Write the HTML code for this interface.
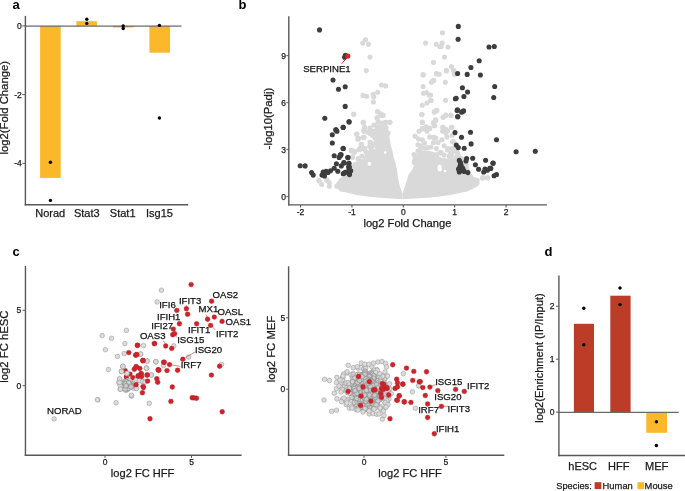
<!DOCTYPE html>
<html><head><meta charset="utf-8"><style>
html,body{margin:0;padding:0;background:#fff;}
svg{display:block;will-change:transform;font-family:"Liberation Sans",sans-serif;}
</style></head><body>
<svg width="685" height="491" viewBox="0 0 685 491">
<text x="12.6" y="9.0" font-size="13" text-anchor="start" font-weight="bold" fill="#000" stroke="#000" stroke-width="0">a</text>
<rect x="40.1" y="25.9" width="20.60" height="152.00" fill="#FBB82B"/>
<rect x="76.4" y="21.2" width="20.50" height="4.70" fill="#FBB82B"/>
<rect x="113" y="25.9" width="20.70" height="1.60" fill="#FBB82B"/>
<rect x="149.4" y="25.9" width="20.60" height="26.80" fill="#FBB82B"/>
<line x1="25.4" y1="26.099999999999998" x2="181.5" y2="26.099999999999998" stroke="#6a6a6a" stroke-width="1.3"/>
<line x1="25.4" y1="15.9" x2="25.4" y2="205.4" stroke="#585858" stroke-width="1.4"/>
<line x1="24.7" y1="204.7" x2="188.2" y2="204.7" stroke="#585858" stroke-width="1.4"/>
<line x1="22.3" y1="25.9" x2="25.4" y2="25.9" stroke="#585858" stroke-width="1"/>
<text x="21.8" y="28.95" font-size="8.5" text-anchor="end" font-weight="normal" fill="#1a1a1a" stroke="#1a1a1a" stroke-width="0.25">0</text>
<line x1="22.3" y1="94.6" x2="25.4" y2="94.6" stroke="#585858" stroke-width="1"/>
<text x="21.8" y="97.64999999999999" font-size="8.5" text-anchor="end" font-weight="normal" fill="#1a1a1a" stroke="#1a1a1a" stroke-width="0.25">-2</text>
<line x1="22.3" y1="163.3" x2="25.4" y2="163.3" stroke="#585858" stroke-width="1"/>
<text x="21.8" y="166.35000000000002" font-size="8.5" text-anchor="end" font-weight="normal" fill="#1a1a1a" stroke="#1a1a1a" stroke-width="0.25">-4</text>
<circle cx="50.4" cy="162.3" r="1.7" fill="#000"/>
<circle cx="50.4" cy="200.4" r="1.7" fill="#000"/>
<circle cx="86.8" cy="19.2" r="1.7" fill="#000"/>
<circle cx="86.8" cy="23.4" r="1.7" fill="#000"/>
<circle cx="123.2" cy="26" r="1.7" fill="#000"/>
<circle cx="123.2" cy="28.5" r="1.7" fill="#000"/>
<circle cx="159.4" cy="25.4" r="1.7" fill="#000"/>
<circle cx="159.4" cy="118" r="1.7" fill="#000"/>
<text x="50.2" y="217" font-size="11" text-anchor="middle" font-weight="normal" fill="#1a1a1a" stroke="#1a1a1a" stroke-width="0.25">Norad</text>
<text x="86.8" y="217" font-size="11" text-anchor="middle" font-weight="normal" fill="#1a1a1a" stroke="#1a1a1a" stroke-width="0.25">Stat3</text>
<text x="122.7" y="217" font-size="11" text-anchor="middle" font-weight="normal" fill="#1a1a1a" stroke="#1a1a1a" stroke-width="0.25">Stat1</text>
<text x="159.5" y="217" font-size="11" text-anchor="middle" font-weight="normal" fill="#1a1a1a" stroke="#1a1a1a" stroke-width="0.25">Isg15</text>
<text x="8.2" y="107.8" font-size="11.3" text-anchor="middle" font-weight="normal" fill="#1a1a1a" stroke="#1a1a1a" stroke-width="0.25" transform="rotate(-90 8.2 107.8)">log2(Fold Change)</text>
<text x="238.6" y="9.0" font-size="13" text-anchor="start" font-weight="bold" fill="#000" stroke="#000" stroke-width="0">b</text>
<line x1="288.8" y1="16.3" x2="288.8" y2="205.6" stroke="#585858" stroke-width="1.4"/>
<line x1="288.1" y1="204.9" x2="546.9" y2="204.9" stroke="#585858" stroke-width="1.4"/>
<line x1="286.4" y1="196.60000000000002" x2="288.8" y2="196.60000000000002" stroke="#585858" stroke-width="1"/>
<text x="286.1" y="199.65000000000003" font-size="8.5" text-anchor="end" font-weight="normal" fill="#1a1a1a" stroke="#1a1a1a" stroke-width="0.25">0</text>
<line x1="286.4" y1="149.62" x2="288.8" y2="149.62" stroke="#585858" stroke-width="1"/>
<text x="286.1" y="152.67000000000002" font-size="8.5" text-anchor="end" font-weight="normal" fill="#1a1a1a" stroke="#1a1a1a" stroke-width="0.25">3</text>
<line x1="286.4" y1="102.64" x2="288.8" y2="102.64" stroke="#585858" stroke-width="1"/>
<text x="286.1" y="105.69" font-size="8.5" text-anchor="end" font-weight="normal" fill="#1a1a1a" stroke="#1a1a1a" stroke-width="0.25">6</text>
<line x1="286.4" y1="55.66000000000001" x2="288.8" y2="55.66000000000001" stroke="#585858" stroke-width="1"/>
<text x="286.1" y="58.71000000000001" font-size="8.5" text-anchor="end" font-weight="normal" fill="#1a1a1a" stroke="#1a1a1a" stroke-width="0.25">9</text>
<line x1="300.55" y1="204.9" x2="300.55" y2="207.5" stroke="#585858" stroke-width="1"/>
<text x="300.55" y="215.4" font-size="8.5" text-anchor="middle" font-weight="normal" fill="#1a1a1a" stroke="#1a1a1a" stroke-width="0.25">-2</text>
<line x1="351.925" y1="204.9" x2="351.925" y2="207.5" stroke="#585858" stroke-width="1"/>
<text x="351.925" y="215.4" font-size="8.5" text-anchor="middle" font-weight="normal" fill="#1a1a1a" stroke="#1a1a1a" stroke-width="0.25">-1</text>
<line x1="403.3" y1="204.9" x2="403.3" y2="207.5" stroke="#585858" stroke-width="1"/>
<text x="403.3" y="215.4" font-size="8.5" text-anchor="middle" font-weight="normal" fill="#1a1a1a" stroke="#1a1a1a" stroke-width="0.25">0</text>
<line x1="454.675" y1="204.9" x2="454.675" y2="207.5" stroke="#585858" stroke-width="1"/>
<text x="454.675" y="215.4" font-size="8.5" text-anchor="middle" font-weight="normal" fill="#1a1a1a" stroke="#1a1a1a" stroke-width="0.25">1</text>
<line x1="506.05" y1="204.9" x2="506.05" y2="207.5" stroke="#585858" stroke-width="1"/>
<text x="506.05" y="215.4" font-size="8.5" text-anchor="middle" font-weight="normal" fill="#1a1a1a" stroke="#1a1a1a" stroke-width="0.25">2</text>
<text x="407.4" y="226.5" font-size="11.15" text-anchor="middle" font-weight="normal" fill="#1a1a1a" stroke="#1a1a1a" stroke-width="0.25">log2 Fold Change</text>
<text x="272.2" y="118.6" font-size="11.3" text-anchor="middle" font-weight="normal" fill="#1a1a1a" stroke="#1a1a1a" stroke-width="0.25" transform="rotate(-90 272.2 118.6)">-log10(Padj)</text>
<text x="12.6" y="256" font-size="13" text-anchor="start" font-weight="bold" fill="#000" stroke="#000" stroke-width="0">c</text>
<line x1="25.45" y1="266" x2="25.45" y2="456" stroke="#585858" stroke-width="1.4"/>
<line x1="24.75" y1="455.3" x2="241.6" y2="455.3" stroke="#585858" stroke-width="1.4"/>
<line x1="22.6" y1="385.7" x2="25.45" y2="385.7" stroke="#585858" stroke-width="1"/>
<text x="21.3" y="388.75" font-size="8.5" text-anchor="end" font-weight="normal" fill="#1a1a1a" stroke="#1a1a1a" stroke-width="0.25">0</text>
<line x1="105.0" y1="455.3" x2="105.0" y2="457.9" stroke="#585858" stroke-width="1"/>
<text x="105.0" y="465.3" font-size="8.5" text-anchor="middle" font-weight="normal" fill="#1a1a1a" stroke="#1a1a1a" stroke-width="0.25">0</text>
<line x1="22.6" y1="310.29999999999995" x2="25.45" y2="310.29999999999995" stroke="#585858" stroke-width="1"/>
<text x="21.3" y="313.34999999999997" font-size="8.5" text-anchor="end" font-weight="normal" fill="#1a1a1a" stroke="#1a1a1a" stroke-width="0.25">5</text>
<line x1="191.5" y1="455.3" x2="191.5" y2="457.9" stroke="#585858" stroke-width="1"/>
<text x="191.5" y="465.3" font-size="8.5" text-anchor="middle" font-weight="normal" fill="#1a1a1a" stroke="#1a1a1a" stroke-width="0.25">5</text>
<text x="142.6" y="477" font-size="11.1" text-anchor="middle" font-weight="normal" fill="#1a1a1a" stroke="#1a1a1a" stroke-width="0.25">log2 FC HFF</text>
<text x="8.4" y="346.6" font-size="11.3" text-anchor="middle" font-weight="normal" fill="#1a1a1a" stroke="#1a1a1a" stroke-width="0.25" transform="rotate(-90 8.4 346.6)">log2 FC hESC</text>
<line x1="288.6" y1="266.3" x2="288.6" y2="456" stroke="#585858" stroke-width="1.4"/>
<line x1="287.9" y1="455.3" x2="504.3" y2="455.3" stroke="#585858" stroke-width="1.4"/>
<line x1="285.9" y1="389.2" x2="288.6" y2="389.2" stroke="#585858" stroke-width="1"/>
<text x="285.2" y="392.25" font-size="8.5" text-anchor="end" font-weight="normal" fill="#1a1a1a" stroke="#1a1a1a" stroke-width="0.25">0</text>
<line x1="364.0" y1="455.3" x2="364.0" y2="457.9" stroke="#585858" stroke-width="1"/>
<text x="364.0" y="465.3" font-size="8.5" text-anchor="middle" font-weight="normal" fill="#1a1a1a" stroke="#1a1a1a" stroke-width="0.25">0</text>
<line x1="285.9" y1="317.8" x2="288.6" y2="317.8" stroke="#585858" stroke-width="1"/>
<text x="285.2" y="320.85" font-size="8.5" text-anchor="end" font-weight="normal" fill="#1a1a1a" stroke="#1a1a1a" stroke-width="0.25">5</text>
<line x1="445.9" y1="455.3" x2="445.9" y2="457.9" stroke="#585858" stroke-width="1"/>
<text x="445.9" y="465.3" font-size="8.5" text-anchor="middle" font-weight="normal" fill="#1a1a1a" stroke="#1a1a1a" stroke-width="0.25">5</text>
<text x="410.1" y="477" font-size="11.1" text-anchor="middle" font-weight="normal" fill="#1a1a1a" stroke="#1a1a1a" stroke-width="0.25">log2 FC HFF</text>
<text x="274.8" y="349" font-size="11.3" text-anchor="middle" font-weight="normal" fill="#1a1a1a" stroke="#1a1a1a" stroke-width="0.25" transform="rotate(-90 274.8 349)">log2 FC MEF</text>
<text x="544.6" y="256" font-size="13" text-anchor="start" font-weight="bold" fill="#000" stroke="#000" stroke-width="0">d</text>
<rect x="573.9" y="323.8" width="20.10" height="88.30" fill="#BD3C28"/>
<rect x="610.3" y="295.7" width="20.30" height="116.40" fill="#BD3C28"/>
<rect x="646.3" y="412.1" width="20.70" height="20.70" fill="#FBB82B"/>
<line x1="558.9" y1="412.3" x2="678.7" y2="412.3" stroke="#6a6a6a" stroke-width="1.3"/>
<line x1="558.9" y1="275.6" x2="558.9" y2="456.2" stroke="#585858" stroke-width="1.4"/>
<line x1="558.2" y1="455.5" x2="685" y2="455.5" stroke="#585858" stroke-width="1.4"/>
<line x1="556" y1="412.1" x2="558.9" y2="412.1" stroke="#585858" stroke-width="1"/>
<text x="554.4" y="415.15000000000003" font-size="8.5" text-anchor="end" font-weight="normal" fill="#1a1a1a" stroke="#1a1a1a" stroke-width="0.25">0</text>
<line x1="556" y1="359.20000000000005" x2="558.9" y2="359.20000000000005" stroke="#585858" stroke-width="1"/>
<text x="554.4" y="362.25000000000006" font-size="8.5" text-anchor="end" font-weight="normal" fill="#1a1a1a" stroke="#1a1a1a" stroke-width="0.25">1</text>
<line x1="556" y1="306.3" x2="558.9" y2="306.3" stroke="#585858" stroke-width="1"/>
<text x="554.4" y="309.35" font-size="8.5" text-anchor="end" font-weight="normal" fill="#1a1a1a" stroke="#1a1a1a" stroke-width="0.25">2</text>
<circle cx="583.8" cy="308.2" r="1.7" fill="#000"/>
<circle cx="583.8" cy="344.8" r="1.7" fill="#000"/>
<circle cx="620" cy="288" r="1.7" fill="#000"/>
<circle cx="620" cy="304.6" r="1.7" fill="#000"/>
<circle cx="656.4" cy="421.8" r="1.7" fill="#000"/>
<circle cx="656.4" cy="445.5" r="1.7" fill="#000"/>
<text x="582.7" y="470" font-size="11" text-anchor="middle" font-weight="normal" fill="#1a1a1a" stroke="#1a1a1a" stroke-width="0.25">hESC</text>
<text x="618.8" y="470" font-size="11" text-anchor="middle" font-weight="normal" fill="#1a1a1a" stroke="#1a1a1a" stroke-width="0.25">HFF</text>
<text x="656.6" y="470" font-size="11" text-anchor="middle" font-weight="normal" fill="#1a1a1a" stroke="#1a1a1a" stroke-width="0.25">MEF</text>
<text x="542.5" y="358" font-size="11.1" text-anchor="middle" font-weight="normal" fill="#1a1a1a" stroke="#1a1a1a" stroke-width="0.25" transform="rotate(-90 542.5 358)">log2(Enrichment (IP/Input)</text>
<text x="556.3" y="488.6" font-size="9.25" text-anchor="start" font-weight="normal" fill="#1a1a1a" stroke="#1a1a1a" stroke-width="0.25">Species:</text>
<rect x="594.6" y="482.2" width="6.80" height="6.80" fill="#BD3C28"/>
<text x="602.6" y="488.6" font-size="9.4" text-anchor="start" font-weight="normal" fill="#1a1a1a" stroke="#1a1a1a" stroke-width="0.25">Human</text>
<rect x="637.4" y="482.2" width="6.60" height="6.80" fill="#FBB82B"/>
<text x="644.6" y="488.6" font-size="9.4" text-anchor="start" font-weight="normal" fill="#1a1a1a" stroke="#1a1a1a" stroke-width="0.25">Mouse</text>
<polygon points="335.0,186.0 338.0,189.0 340.0,191.2 347.6,192.8 356.8,195.0 373.6,197.2 390.4,198.4 402.6,199.3 402.6,193.5 400.0,187.0 398.0,178.0 397.0,170.0 395.5,163.0 393.5,157.0 392.2,150.0 391.0,146.0 389.6,138.0 388.5,130.0 386.0,125.0 378.0,125.0 375.5,130.0 374.5,140.0 371.0,146.0 368.4,150.5 364.9,154.5 363.3,158.6 358.0,161.0 353.1,162.7 351.0,168.0 347.0,170.0 345.0,176.0 340.0,178.0 337.0,182.0" fill="#D9D9D9"/>
<polygon points="402.6,199.3 418.0,198.3 433.6,197.2 450.4,195.0 462.0,192.6 467.2,191.6 472.0,189.2 477.0,186.5 479.5,184.0 479.5,178.5 474.0,177.0 470.0,174.0 468.0,160.0 462.0,156.0 456.0,153.0 453.0,158.0 447.0,158.5 442.0,158.0 438.0,156.0 434.0,152.0 428.0,150.5 421.8,150.5 416.0,154.0 412.8,157.5 411.5,163.0 414.0,166.0 412.0,170.0 408.5,174.7 406.0,183.0 404.0,189.0 402.6,194.0" fill="#D9D9D9"/>
<ellipse cx="369.4" cy="163.7" rx="1.8" ry="2" fill="#fff"/>
<ellipse cx="385.2" cy="152.5" rx="1.2" ry="1.6" fill="#fff"/>
<ellipse cx="374.5" cy="148.4" rx="1" ry="1" fill="#fff"/>
<ellipse cx="439.7" cy="168" rx="2.2" ry="3.5" fill="#fff"/>
<ellipse cx="445" cy="171" rx="1.3" ry="1.3" fill="#fff"/>
<circle cx="365.5" cy="39.8" r="2.55" fill="#D9D9D9"/>
<circle cx="362.7" cy="43.1" r="2.55" fill="#D9D9D9"/>
<circle cx="368.5" cy="44.3" r="2.55" fill="#D9D9D9"/>
<circle cx="370" cy="57.1" r="2.55" fill="#D9D9D9"/>
<circle cx="366.3" cy="70.6" r="2.55" fill="#D9D9D9"/>
<circle cx="425.6" cy="43.1" r="2.55" fill="#D9D9D9"/>
<circle cx="436.3" cy="44.3" r="2.55" fill="#D9D9D9"/>
<circle cx="440" cy="46.7" r="2.55" fill="#D9D9D9"/>
<circle cx="433.5" cy="62.4" r="2.55" fill="#D9D9D9"/>
<circle cx="423.1" cy="74.5" r="2.55" fill="#D9D9D9"/>
<circle cx="436.3" cy="73.6" r="2.55" fill="#D9D9D9"/>
<circle cx="439.2" cy="74.2" r="2.55" fill="#D9D9D9"/>
<circle cx="442.5" cy="32.7" r="2.55" fill="#D9D9D9"/>
<circle cx="442.2" cy="43.1" r="2.55" fill="#D9D9D9"/>
<circle cx="441.2" cy="46.5" r="2.55" fill="#D9D9D9"/>
<circle cx="448" cy="47" r="2.55" fill="#D9D9D9"/>
<circle cx="444.4" cy="57.1" r="2.55" fill="#D9D9D9"/>
<circle cx="451.4" cy="66.5" r="2.55" fill="#D9D9D9"/>
<circle cx="446.5" cy="70.3" r="2.55" fill="#D9D9D9"/>
<circle cx="453.8" cy="70.6" r="2.55" fill="#D9D9D9"/>
<circle cx="455" cy="73.6" r="2.55" fill="#D9D9D9"/>
<circle cx="381.4" cy="85" r="2.55" fill="#D9D9D9"/>
<circle cx="385.6" cy="85.9" r="2.55" fill="#D9D9D9"/>
<circle cx="377.7" cy="92.3" r="2.55" fill="#D9D9D9"/>
<circle cx="363" cy="95.4" r="2.55" fill="#D9D9D9"/>
<circle cx="366.7" cy="96.3" r="2.55" fill="#D9D9D9"/>
<circle cx="373.2" cy="94.2" r="2.55" fill="#D9D9D9"/>
<circle cx="373.7" cy="96.9" r="2.55" fill="#D9D9D9"/>
<circle cx="373.4" cy="102" r="2.55" fill="#D9D9D9"/>
<circle cx="377.7" cy="111.5" r="2.55" fill="#D9D9D9"/>
<circle cx="381.4" cy="115.4" r="2.55" fill="#D9D9D9"/>
<circle cx="383.2" cy="115.4" r="2.55" fill="#D9D9D9"/>
<circle cx="377.1" cy="117.9" r="2.55" fill="#D9D9D9"/>
<circle cx="378.3" cy="121.9" r="2.55" fill="#D9D9D9"/>
<circle cx="382.6" cy="123.1" r="2.55" fill="#D9D9D9"/>
<circle cx="385" cy="122.7" r="2.55" fill="#D9D9D9"/>
<circle cx="389.9" cy="122.3" r="2.55" fill="#D9D9D9"/>
<circle cx="363.4" cy="122.5" r="2.55" fill="#D9D9D9"/>
<circle cx="364.9" cy="128" r="2.55" fill="#D9D9D9"/>
<circle cx="378.3" cy="126.8" r="2.55" fill="#D9D9D9"/>
<circle cx="385" cy="126.8" r="2.55" fill="#D9D9D9"/>
<circle cx="423.1" cy="75.1" r="2.55" fill="#D9D9D9"/>
<circle cx="432.6" cy="81" r="2.55" fill="#D9D9D9"/>
<circle cx="431.4" cy="82.2" r="2.55" fill="#D9D9D9"/>
<circle cx="423.1" cy="86.5" r="2.55" fill="#D9D9D9"/>
<circle cx="423.5" cy="93.2" r="2.55" fill="#D9D9D9"/>
<circle cx="426.5" cy="92.6" r="2.55" fill="#D9D9D9"/>
<circle cx="429.2" cy="95" r="2.55" fill="#D9D9D9"/>
<circle cx="430.5" cy="100.5" r="2.55" fill="#D9D9D9"/>
<circle cx="426.9" cy="103" r="2.55" fill="#D9D9D9"/>
<circle cx="422.3" cy="105.2" r="2.55" fill="#D9D9D9"/>
<circle cx="436.3" cy="110.3" r="2.55" fill="#D9D9D9"/>
<circle cx="434.2" cy="112.1" r="2.55" fill="#D9D9D9"/>
<circle cx="422" cy="114.6" r="2.55" fill="#D9D9D9"/>
<circle cx="422.3" cy="122.5" r="2.55" fill="#D9D9D9"/>
<circle cx="435.7" cy="120" r="2.55" fill="#D9D9D9"/>
<circle cx="433.3" cy="122.5" r="2.55" fill="#D9D9D9"/>
<circle cx="434.7" cy="125.6" r="2.55" fill="#D9D9D9"/>
<circle cx="425.9" cy="126.8" r="2.55" fill="#D9D9D9"/>
<circle cx="429.6" cy="128" r="2.55" fill="#D9D9D9"/>
<circle cx="422.3" cy="128.6" r="2.55" fill="#D9D9D9"/>
<circle cx="446.5" cy="71" r="2.55" fill="#D9D9D9"/>
<circle cx="453.4" cy="70.6" r="2.55" fill="#D9D9D9"/>
<circle cx="454.4" cy="74.3" r="2.55" fill="#D9D9D9"/>
<circle cx="433.7" cy="80.4" r="2.55" fill="#D9D9D9"/>
<circle cx="445.3" cy="82.2" r="2.55" fill="#D9D9D9"/>
<circle cx="430.6" cy="95" r="2.55" fill="#D9D9D9"/>
<circle cx="431.2" cy="100.5" r="2.55" fill="#D9D9D9"/>
<circle cx="445.6" cy="100.3" r="2.55" fill="#D9D9D9"/>
<circle cx="445.9" cy="115.2" r="2.55" fill="#D9D9D9"/>
<circle cx="443.2" cy="117" r="2.55" fill="#D9D9D9"/>
<circle cx="450.8" cy="115.2" r="2.55" fill="#D9D9D9"/>
<circle cx="435.5" cy="120" r="2.55" fill="#D9D9D9"/>
<circle cx="442.8" cy="127.4" r="2.55" fill="#D9D9D9"/>
<circle cx="452" cy="127.4" r="2.55" fill="#D9D9D9"/>
<circle cx="445.9" cy="129.2" r="2.55" fill="#D9D9D9"/>
<circle cx="353.7" cy="114.2" r="2.55" fill="#D9D9D9"/>
<circle cx="363.2" cy="122.3" r="2.55" fill="#D9D9D9"/>
<circle cx="364.7" cy="128" r="2.55" fill="#D9D9D9"/>
<circle cx="364.5" cy="127.7" r="2.55" fill="#D9D9D9"/>
<circle cx="363.7" cy="130.5" r="2.55" fill="#D9D9D9"/>
<circle cx="367.8" cy="132.3" r="2.55" fill="#D9D9D9"/>
<circle cx="356.8" cy="134.2" r="2.55" fill="#D9D9D9"/>
<circle cx="358.6" cy="138.4" r="2.55" fill="#D9D9D9"/>
<circle cx="363.5" cy="137.2" r="2.55" fill="#D9D9D9"/>
<circle cx="361.6" cy="144.5" r="2.55" fill="#D9D9D9"/>
<circle cx="359.8" cy="148.8" r="2.55" fill="#D9D9D9"/>
<circle cx="364.7" cy="148.2" r="2.55" fill="#D9D9D9"/>
<circle cx="351.3" cy="150" r="2.55" fill="#D9D9D9"/>
<circle cx="354.9" cy="151.3" r="2.55" fill="#D9D9D9"/>
<circle cx="358.6" cy="158.6" r="2.55" fill="#D9D9D9"/>
<circle cx="352.5" cy="157.4" r="2.55" fill="#D9D9D9"/>
<circle cx="318.9" cy="180.6" r="2.55" fill="#D9D9D9"/>
<circle cx="326.9" cy="180.6" r="2.55" fill="#D9D9D9"/>
<circle cx="319.1" cy="181" r="2.55" fill="#D9D9D9"/>
<circle cx="321.7" cy="184.5" r="2.55" fill="#D9D9D9"/>
<circle cx="327" cy="179.9" r="2.55" fill="#D9D9D9"/>
<circle cx="329.3" cy="182.8" r="2.55" fill="#D9D9D9"/>
<circle cx="329.3" cy="186.3" r="2.55" fill="#D9D9D9"/>
<circle cx="336.9" cy="186.3" r="2.55" fill="#D9D9D9"/>
<circle cx="340.4" cy="184.5" r="2.55" fill="#D9D9D9"/>
<circle cx="343.9" cy="189.2" r="2.55" fill="#D9D9D9"/>
<circle cx="353.7" cy="114.3" r="2.55" fill="#D9D9D9"/>
<circle cx="363.3" cy="122.3" r="2.55" fill="#D9D9D9"/>
<circle cx="364.6" cy="127.4" r="2.55" fill="#D9D9D9"/>
<circle cx="364.1" cy="131.3" r="2.55" fill="#D9D9D9"/>
<circle cx="356.8" cy="134.1" r="2.55" fill="#D9D9D9"/>
<circle cx="357.9" cy="139.3" r="2.55" fill="#D9D9D9"/>
<circle cx="363.9" cy="137.4" r="2.55" fill="#D9D9D9"/>
<circle cx="370.2" cy="133.5" r="2.55" fill="#D9D9D9"/>
<circle cx="373.6" cy="131.3" r="2.55" fill="#D9D9D9"/>
<circle cx="372.5" cy="135.2" r="2.55" fill="#D9D9D9"/>
<circle cx="377.5" cy="111.7" r="2.55" fill="#D9D9D9"/>
<circle cx="380.3" cy="113.9" r="2.55" fill="#D9D9D9"/>
<circle cx="382.6" cy="115" r="2.55" fill="#D9D9D9"/>
<circle cx="377" cy="117.8" r="2.55" fill="#D9D9D9"/>
<circle cx="378.1" cy="121.8" r="2.55" fill="#D9D9D9"/>
<circle cx="382.6" cy="123.4" r="2.55" fill="#D9D9D9"/>
<circle cx="385.9" cy="122.3" r="2.55" fill="#D9D9D9"/>
<circle cx="389.8" cy="122.3" r="2.55" fill="#D9D9D9"/>
<circle cx="377.5" cy="127.4" r="2.55" fill="#D9D9D9"/>
<circle cx="380.3" cy="128.5" r="2.55" fill="#D9D9D9"/>
<circle cx="385.9" cy="127.4" r="2.55" fill="#D9D9D9"/>
<circle cx="361.3" cy="145.3" r="2.55" fill="#D9D9D9"/>
<circle cx="364.6" cy="149.2" r="2.55" fill="#D9D9D9"/>
<circle cx="359.6" cy="149.8" r="2.55" fill="#D9D9D9"/>
<circle cx="351.8" cy="150.9" r="2.55" fill="#D9D9D9"/>
<circle cx="354.6" cy="152" r="2.55" fill="#D9D9D9"/>
<circle cx="352.3" cy="157" r="2.55" fill="#D9D9D9"/>
<circle cx="358.5" cy="159.3" r="2.55" fill="#D9D9D9"/>
<circle cx="370.8" cy="142.5" r="2.55" fill="#D9D9D9"/>
<circle cx="369.7" cy="146.4" r="2.55" fill="#D9D9D9"/>
<circle cx="421.8" cy="114.3" r="2.55" fill="#D9D9D9"/>
<circle cx="434.7" cy="111.7" r="2.55" fill="#D9D9D9"/>
<circle cx="437" cy="110.6" r="2.55" fill="#D9D9D9"/>
<circle cx="443.1" cy="117.3" r="2.55" fill="#D9D9D9"/>
<circle cx="445.9" cy="115" r="2.55" fill="#D9D9D9"/>
<circle cx="451" cy="115.4" r="2.55" fill="#D9D9D9"/>
<circle cx="422.4" cy="122.1" r="2.55" fill="#D9D9D9"/>
<circle cx="433.6" cy="122.9" r="2.55" fill="#D9D9D9"/>
<circle cx="435.8" cy="120.6" r="2.55" fill="#D9D9D9"/>
<circle cx="434.2" cy="125.7" r="2.55" fill="#D9D9D9"/>
<circle cx="426.3" cy="127.4" r="2.55" fill="#D9D9D9"/>
<circle cx="429.7" cy="128.5" r="2.55" fill="#D9D9D9"/>
<circle cx="423.5" cy="129" r="2.55" fill="#D9D9D9"/>
<circle cx="426.9" cy="131.3" r="2.55" fill="#D9D9D9"/>
<circle cx="419" cy="131.3" r="2.55" fill="#D9D9D9"/>
<circle cx="443.1" cy="127.4" r="2.55" fill="#D9D9D9"/>
<circle cx="451.5" cy="127.4" r="2.55" fill="#D9D9D9"/>
<circle cx="442.6" cy="131.3" r="2.55" fill="#D9D9D9"/>
<circle cx="447.6" cy="130.7" r="2.55" fill="#D9D9D9"/>
<circle cx="445.9" cy="133" r="2.55" fill="#D9D9D9"/>
<circle cx="415.1" cy="136.3" r="2.55" fill="#D9D9D9"/>
<circle cx="418.5" cy="139.1" r="2.55" fill="#D9D9D9"/>
<circle cx="422.4" cy="139.7" r="2.55" fill="#D9D9D9"/>
<circle cx="429.7" cy="136.9" r="2.55" fill="#D9D9D9"/>
<circle cx="433.6" cy="137.4" r="2.55" fill="#D9D9D9"/>
<circle cx="435.8" cy="138" r="2.55" fill="#D9D9D9"/>
<circle cx="447" cy="136.9" r="2.55" fill="#D9D9D9"/>
<circle cx="452.1" cy="135.2" r="2.55" fill="#D9D9D9"/>
<circle cx="424.6" cy="143" r="2.55" fill="#D9D9D9"/>
<circle cx="417.9" cy="144.7" r="2.55" fill="#D9D9D9"/>
<circle cx="420.7" cy="145.8" r="2.55" fill="#D9D9D9"/>
<circle cx="433.6" cy="142.5" r="2.55" fill="#D9D9D9"/>
<circle cx="438.1" cy="142.5" r="2.55" fill="#D9D9D9"/>
<circle cx="442" cy="139.7" r="2.55" fill="#D9D9D9"/>
<circle cx="452.6" cy="141.9" r="2.55" fill="#D9D9D9"/>
<circle cx="428" cy="147.5" r="2.55" fill="#D9D9D9"/>
<circle cx="436.4" cy="148.6" r="2.55" fill="#D9D9D9"/>
<circle cx="444.2" cy="145.8" r="2.55" fill="#D9D9D9"/>
<circle cx="448.2" cy="148.6" r="2.55" fill="#D9D9D9"/>
<circle cx="452.1" cy="148.6" r="2.55" fill="#D9D9D9"/>
<circle cx="420.2" cy="149.8" r="2.55" fill="#D9D9D9"/>
<circle cx="452.6" cy="152" r="2.55" fill="#D9D9D9"/>
<circle cx="449.8" cy="155.9" r="2.55" fill="#D9D9D9"/>
<circle cx="439.8" cy="153.1" r="2.55" fill="#D9D9D9"/>
<circle cx="436.4" cy="155.4" r="2.55" fill="#D9D9D9"/>
<circle cx="483.1" cy="177.5" r="2.55" fill="#D9D9D9"/>
<circle cx="487.4" cy="177.7" r="2.55" fill="#D9D9D9"/>
<circle cx="482.4" cy="178.1" r="2.55" fill="#D9D9D9"/>
<circle cx="487.8" cy="177.8" r="2.55" fill="#D9D9D9"/>
<circle cx="470.3" cy="176.3" r="2.55" fill="#D9D9D9"/>
<circle cx="374" cy="125" r="2.55" fill="#D9D9D9"/>
<circle cx="370" cy="128" r="2.55" fill="#D9D9D9"/>
<circle cx="376" cy="132" r="2.55" fill="#D9D9D9"/>
<circle cx="380" cy="135" r="2.55" fill="#D9D9D9"/>
<circle cx="384" cy="130" r="2.55" fill="#D9D9D9"/>
<circle cx="388" cy="133" r="2.55" fill="#D9D9D9"/>
<circle cx="386" cy="138" r="2.55" fill="#D9D9D9"/>
<circle cx="380" cy="141" r="2.55" fill="#D9D9D9"/>
<circle cx="375" cy="138" r="2.55" fill="#D9D9D9"/>
<circle cx="383" cy="146" r="2.55" fill="#D9D9D9"/>
<circle cx="378" cy="148" r="2.55" fill="#D9D9D9"/>
<circle cx="372" cy="150" r="2.55" fill="#D9D9D9"/>
<circle cx="387" cy="143" r="2.55" fill="#D9D9D9"/>
<circle cx="455" cy="150" r="2.55" fill="#D9D9D9"/>
<circle cx="453.2" cy="141.5" r="2.55" fill="#D9D9D9"/>
<circle cx="454.4" cy="148.2" r="2.55" fill="#D9D9D9"/>
<circle cx="451.4" cy="155.5" r="2.55" fill="#D9D9D9"/>
<circle cx="364.3" cy="131.1" r="2.55" fill="#D9D9D9"/>
<circle cx="358.2" cy="138.2" r="2.55" fill="#D9D9D9"/>
<circle cx="363.8" cy="137.2" r="2.55" fill="#D9D9D9"/>
<circle cx="361.3" cy="144.3" r="2.55" fill="#D9D9D9"/>
<circle cx="364.3" cy="148.9" r="2.55" fill="#D9D9D9"/>
<circle cx="359.3" cy="149.4" r="2.55" fill="#D9D9D9"/>
<circle cx="351.6" cy="150.5" r="2.55" fill="#D9D9D9"/>
<circle cx="354.7" cy="152" r="2.55" fill="#D9D9D9"/>
<circle cx="352.6" cy="157.1" r="2.55" fill="#D9D9D9"/>
<circle cx="358.2" cy="158.6" r="2.55" fill="#D9D9D9"/>
<circle cx="370" cy="142.3" r="2.55" fill="#D9D9D9"/>
<circle cx="370.5" cy="146.4" r="2.55" fill="#D9D9D9"/>
<circle cx="366" cy="152" r="2.55" fill="#D9D9D9"/>
<circle cx="362" cy="156" r="2.55" fill="#D9D9D9"/>
<circle cx="372.5" cy="135.2" r="2.55" fill="#D9D9D9"/>
<circle cx="374.5" cy="131.1" r="2.55" fill="#D9D9D9"/>
<circle cx="370.5" cy="131.1" r="2.55" fill="#D9D9D9"/>
<circle cx="436.4" cy="154.7" r="2.55" fill="#D9D9D9"/>
<circle cx="440.8" cy="152.4" r="2.55" fill="#D9D9D9"/>
<circle cx="447.5" cy="150" r="2.55" fill="#D9D9D9"/>
<circle cx="451" cy="153" r="2.55" fill="#D9D9D9"/>
<circle cx="454" cy="149" r="2.55" fill="#D9D9D9"/>
<circle cx="449" cy="156" r="2.55" fill="#D9D9D9"/>
<circle cx="444" cy="155" r="2.55" fill="#D9D9D9"/>
<circle cx="431" cy="147" r="2.55" fill="#D9D9D9"/>
<circle cx="425" cy="148" r="2.55" fill="#D9D9D9"/>
<circle cx="418" cy="151" r="2.55" fill="#D9D9D9"/>
<circle cx="414" cy="154.5" r="2.55" fill="#D9D9D9"/>
<circle cx="458" cy="154" r="2.55" fill="#D9D9D9"/>
<circle cx="456.5" cy="151" r="2.55" fill="#D9D9D9"/>
<circle cx="319.5" cy="29.9" r="2.55" fill="#3D3D3D"/>
<circle cx="345.4" cy="55.3" r="2.55" fill="#3D3D3D"/>
<circle cx="344.6" cy="57.3" r="2.55" fill="#3D3D3D"/>
<circle cx="458.3" cy="26.4" r="2.55" fill="#3D3D3D"/>
<circle cx="458.1" cy="39.2" r="2.55" fill="#3D3D3D"/>
<circle cx="489" cy="47" r="2.55" fill="#3D3D3D"/>
<circle cx="494.3" cy="46.5" r="2.55" fill="#3D3D3D"/>
<circle cx="479.2" cy="60.8" r="2.55" fill="#3D3D3D"/>
<circle cx="470.9" cy="67.5" r="2.55" fill="#3D3D3D"/>
<circle cx="457.6" cy="73.5" r="2.55" fill="#3D3D3D"/>
<circle cx="467.2" cy="74.4" r="2.55" fill="#3D3D3D"/>
<circle cx="480.4" cy="75" r="2.55" fill="#3D3D3D"/>
<circle cx="333" cy="80" r="2.55" fill="#3D3D3D"/>
<circle cx="338.5" cy="89.2" r="2.55" fill="#3D3D3D"/>
<circle cx="345.2" cy="86.8" r="2.55" fill="#3D3D3D"/>
<circle cx="345.2" cy="106.4" r="2.55" fill="#3D3D3D"/>
<circle cx="324.8" cy="118.2" r="2.55" fill="#3D3D3D"/>
<circle cx="349.1" cy="121.9" r="2.55" fill="#3D3D3D"/>
<circle cx="343.3" cy="127.2" r="2.55" fill="#3D3D3D"/>
<circle cx="336" cy="129.8" r="2.55" fill="#3D3D3D"/>
<circle cx="462.4" cy="87.7" r="2.55" fill="#3D3D3D"/>
<circle cx="494.7" cy="86.5" r="2.55" fill="#3D3D3D"/>
<circle cx="467.6" cy="92" r="2.55" fill="#3D3D3D"/>
<circle cx="463.9" cy="96.5" r="2.55" fill="#3D3D3D"/>
<circle cx="455.4" cy="98.7" r="2.55" fill="#3D3D3D"/>
<circle cx="456.2" cy="98.2" r="2.55" fill="#3D3D3D"/>
<circle cx="493.7" cy="97.5" r="2.55" fill="#3D3D3D"/>
<circle cx="457.5" cy="109.7" r="2.55" fill="#3D3D3D"/>
<circle cx="461.5" cy="112.1" r="2.55" fill="#3D3D3D"/>
<circle cx="463.6" cy="110.9" r="2.55" fill="#3D3D3D"/>
<circle cx="457.8" cy="116.6" r="2.55" fill="#3D3D3D"/>
<circle cx="335.8" cy="129.9" r="2.55" fill="#3D3D3D"/>
<circle cx="336.9" cy="131.3" r="2.55" fill="#3D3D3D"/>
<circle cx="332.3" cy="134.8" r="2.55" fill="#3D3D3D"/>
<circle cx="332.3" cy="143" r="2.55" fill="#3D3D3D"/>
<circle cx="343.3" cy="148.4" r="2.55" fill="#3D3D3D"/>
<circle cx="334.2" cy="155.8" r="2.55" fill="#3D3D3D"/>
<circle cx="340.3" cy="154.9" r="2.55" fill="#3D3D3D"/>
<circle cx="339.1" cy="157.4" r="2.55" fill="#3D3D3D"/>
<circle cx="348" cy="157.6" r="2.55" fill="#3D3D3D"/>
<circle cx="300.2" cy="165.7" r="2.55" fill="#3D3D3D"/>
<circle cx="305.1" cy="165.9" r="2.55" fill="#3D3D3D"/>
<circle cx="336.4" cy="163.8" r="2.55" fill="#3D3D3D"/>
<circle cx="341.3" cy="165.9" r="2.55" fill="#3D3D3D"/>
<circle cx="344" cy="162.9" r="2.55" fill="#3D3D3D"/>
<circle cx="348.8" cy="164.1" r="2.55" fill="#3D3D3D"/>
<circle cx="311.6" cy="172.6" r="2.55" fill="#3D3D3D"/>
<circle cx="313.2" cy="175.1" r="2.55" fill="#3D3D3D"/>
<circle cx="323.2" cy="172" r="2.55" fill="#3D3D3D"/>
<circle cx="326.2" cy="171.2" r="2.55" fill="#3D3D3D"/>
<circle cx="322" cy="175.1" r="2.55" fill="#3D3D3D"/>
<circle cx="330.5" cy="170.8" r="2.55" fill="#3D3D3D"/>
<circle cx="334.2" cy="168.3" r="2.55" fill="#3D3D3D"/>
<circle cx="337.8" cy="171.2" r="2.55" fill="#3D3D3D"/>
<circle cx="345.2" cy="172.4" r="2.55" fill="#3D3D3D"/>
<circle cx="348.8" cy="170.2" r="2.55" fill="#3D3D3D"/>
<circle cx="349.4" cy="173.8" r="2.55" fill="#3D3D3D"/>
<circle cx="343.3" cy="173.8" r="2.55" fill="#3D3D3D"/>
<circle cx="350.7" cy="170.8" r="2.55" fill="#3D3D3D"/>
<circle cx="348.6" cy="167.1" r="2.55" fill="#3D3D3D"/>
<circle cx="349.4" cy="167.1" r="2.55" fill="#3D3D3D"/>
<circle cx="341.1" cy="154.5" r="2.55" fill="#3D3D3D"/>
<circle cx="343.4" cy="173.5" r="2.55" fill="#3D3D3D"/>
<circle cx="349.5" cy="174.6" r="2.55" fill="#3D3D3D"/>
<circle cx="349" cy="121.8" r="2.55" fill="#3D3D3D"/>
<circle cx="343.1" cy="127.4" r="2.55" fill="#3D3D3D"/>
<circle cx="343.1" cy="148.6" r="2.55" fill="#3D3D3D"/>
<circle cx="347.8" cy="157.6" r="2.55" fill="#3D3D3D"/>
<circle cx="340.6" cy="155.4" r="2.55" fill="#3D3D3D"/>
<circle cx="343.9" cy="162.6" r="2.55" fill="#3D3D3D"/>
<circle cx="349" cy="163.2" r="2.55" fill="#3D3D3D"/>
<circle cx="324.5" cy="176" r="2.55" fill="#3D3D3D"/>
<circle cx="328" cy="172.5" r="2.55" fill="#3D3D3D"/>
<circle cx="455" cy="132.6" r="2.55" fill="#3D3D3D"/>
<circle cx="470.5" cy="132.3" r="2.55" fill="#3D3D3D"/>
<circle cx="461.5" cy="137.2" r="2.55" fill="#3D3D3D"/>
<circle cx="496.5" cy="139.7" r="2.55" fill="#3D3D3D"/>
<circle cx="471.1" cy="143.9" r="2.55" fill="#3D3D3D"/>
<circle cx="456.3" cy="145.1" r="2.55" fill="#3D3D3D"/>
<circle cx="458.3" cy="147.6" r="2.55" fill="#3D3D3D"/>
<circle cx="464.2" cy="148.2" r="2.55" fill="#3D3D3D"/>
<circle cx="459.3" cy="160.4" r="2.55" fill="#3D3D3D"/>
<circle cx="460.5" cy="162.9" r="2.55" fill="#3D3D3D"/>
<circle cx="459.9" cy="166.5" r="2.55" fill="#3D3D3D"/>
<circle cx="462.4" cy="167.7" r="2.55" fill="#3D3D3D"/>
<circle cx="459.3" cy="172" r="2.55" fill="#3D3D3D"/>
<circle cx="464.2" cy="171.4" r="2.55" fill="#3D3D3D"/>
<circle cx="467.9" cy="172.6" r="2.55" fill="#3D3D3D"/>
<circle cx="461.7" cy="170.2" r="2.55" fill="#3D3D3D"/>
<circle cx="461" cy="165" r="2.55" fill="#3D3D3D"/>
<circle cx="463" cy="169" r="2.55" fill="#3D3D3D"/>
<circle cx="458.5" cy="169" r="2.55" fill="#3D3D3D"/>
<circle cx="466.6" cy="158.6" r="2.55" fill="#3D3D3D"/>
<circle cx="466" cy="161" r="2.55" fill="#3D3D3D"/>
<circle cx="472.7" cy="158.2" r="2.55" fill="#3D3D3D"/>
<circle cx="485.6" cy="160.2" r="2.55" fill="#3D3D3D"/>
<circle cx="493.2" cy="163.1" r="2.55" fill="#3D3D3D"/>
<circle cx="475.4" cy="164.7" r="2.55" fill="#3D3D3D"/>
<circle cx="478.6" cy="169.2" r="2.55" fill="#3D3D3D"/>
<circle cx="485" cy="169" r="2.55" fill="#3D3D3D"/>
<circle cx="489.8" cy="168.3" r="2.55" fill="#3D3D3D"/>
<circle cx="483.7" cy="172" r="2.55" fill="#3D3D3D"/>
<circle cx="487.4" cy="170.2" r="2.55" fill="#3D3D3D"/>
<circle cx="494.1" cy="175.7" r="2.55" fill="#3D3D3D"/>
<circle cx="496.5" cy="174.5" r="2.55" fill="#3D3D3D"/>
<circle cx="457.1" cy="110.6" r="2.55" fill="#3D3D3D"/>
<circle cx="462.2" cy="111.7" r="2.55" fill="#3D3D3D"/>
<circle cx="457.7" cy="116.7" r="2.55" fill="#3D3D3D"/>
<circle cx="516.1" cy="151.8" r="2.55" fill="#3D3D3D"/>
<circle cx="535.3" cy="151.3" r="2.55" fill="#3D3D3D"/>
<circle cx="492.9" cy="163.2" r="2.55" fill="#3D3D3D"/>
<circle cx="490.8" cy="168.4" r="2.55" fill="#3D3D3D"/>
<circle cx="347.9" cy="56.1" r="2.55" fill="#D42A2A"/>
<line x1="347.2" y1="57.6" x2="341.8" y2="63.6" stroke="#D42A2A" stroke-width="1"/>
<text x="303.2" y="71.5" font-size="9.6" text-anchor="start" font-weight="normal" fill="#111" stroke="#111" stroke-width="0.25">SERPINE1</text>
<circle cx="125.2" cy="370.8" r="2.45" fill="#D0232A" stroke="#A51F24" stroke-width="0.3"/>
<circle cx="130.0" cy="374.1" r="2.45" fill="#D0232A" stroke="#A51F24" stroke-width="0.3"/>
<circle cx="126.3" cy="377.0" r="2.45" fill="#D0232A" stroke="#A51F24" stroke-width="0.3"/>
<circle cx="132.9" cy="377.8" r="2.45" fill="#D0232A" stroke="#A51F24" stroke-width="0.3"/>
<circle cx="125.2" cy="384.0" r="2.45" fill="#D0232A" stroke="#A51F24" stroke-width="0.3"/>
<circle cx="127.8" cy="389.1" r="2.3" fill="#DCDCDC" stroke="#969696" stroke-width="0.55"/>
<circle cx="124.2" cy="388.3" r="2.3" fill="#DCDCDC" stroke="#969696" stroke-width="0.55"/>
<circle cx="126.6" cy="384.1" r="2.3" fill="#DCDCDC" stroke="#969696" stroke-width="0.55"/>
<circle cx="127.3" cy="387.4" r="2.3" fill="#DCDCDC" stroke="#969696" stroke-width="0.55"/>
<circle cx="131.5" cy="384.9" r="2.3" fill="#DCDCDC" stroke="#969696" stroke-width="0.55"/>
<circle cx="129.6" cy="381.8" r="2.3" fill="#DCDCDC" stroke="#969696" stroke-width="0.55"/>
<circle cx="126.2" cy="383.6" r="2.3" fill="#DCDCDC" stroke="#969696" stroke-width="0.55"/>
<circle cx="121.7" cy="384.2" r="2.3" fill="#DCDCDC" stroke="#969696" stroke-width="0.55"/>
<circle cx="126.9" cy="383.9" r="2.3" fill="#DCDCDC" stroke="#969696" stroke-width="0.55"/>
<circle cx="127.7" cy="380.6" r="2.3" fill="#DCDCDC" stroke="#969696" stroke-width="0.55"/>
<circle cx="127.2" cy="385.8" r="2.3" fill="#DCDCDC" stroke="#969696" stroke-width="0.55"/>
<circle cx="130.2" cy="382.2" r="2.3" fill="#DCDCDC" stroke="#969696" stroke-width="0.55"/>
<circle cx="122.4" cy="388.6" r="2.3" fill="#DCDCDC" stroke="#969696" stroke-width="0.55"/>
<circle cx="128.7" cy="384.0" r="2.3" fill="#DCDCDC" stroke="#969696" stroke-width="0.55"/>
<circle cx="129.1" cy="386.7" r="2.3" fill="#DCDCDC" stroke="#969696" stroke-width="0.55"/>
<circle cx="131.2" cy="384.2" r="2.3" fill="#DCDCDC" stroke="#969696" stroke-width="0.55"/>
<circle cx="125.4" cy="383.0" r="2.3" fill="#DCDCDC" stroke="#969696" stroke-width="0.55"/>
<circle cx="124.0" cy="384.9" r="2.3" fill="#DCDCDC" stroke="#969696" stroke-width="0.55"/>
<circle cx="124.7" cy="388.5" r="2.3" fill="#DCDCDC" stroke="#969696" stroke-width="0.55"/>
<circle cx="126.5" cy="383.3" r="2.3" fill="#DCDCDC" stroke="#969696" stroke-width="0.55"/>
<circle cx="131.3" cy="382.6" r="2.3" fill="#DCDCDC" stroke="#969696" stroke-width="0.55"/>
<circle cx="126.9" cy="382.8" r="2.3" fill="#DCDCDC" stroke="#969696" stroke-width="0.55"/>
<circle cx="129.8" cy="381.2" r="2.3" fill="#DCDCDC" stroke="#969696" stroke-width="0.55"/>
<circle cx="127.2" cy="386.2" r="2.3" fill="#DCDCDC" stroke="#969696" stroke-width="0.55"/>
<circle cx="133.0" cy="388.1" r="2.3" fill="#DCDCDC" stroke="#969696" stroke-width="0.55"/>
<circle cx="125.8" cy="386.0" r="2.3" fill="#DCDCDC" stroke="#969696" stroke-width="0.55"/>
<circle cx="125.8" cy="390.4" r="2.3" fill="#DCDCDC" stroke="#969696" stroke-width="0.55"/>
<circle cx="128.2" cy="384.3" r="2.3" fill="#DCDCDC" stroke="#969696" stroke-width="0.55"/>
<circle cx="126.7" cy="384.3" r="2.3" fill="#DCDCDC" stroke="#969696" stroke-width="0.55"/>
<circle cx="126.9" cy="382.1" r="2.3" fill="#DCDCDC" stroke="#969696" stroke-width="0.55"/>
<circle cx="127.0" cy="386.2" r="2.3" fill="#DCDCDC" stroke="#969696" stroke-width="0.55"/>
<circle cx="126.8" cy="384.5" r="2.3" fill="#DCDCDC" stroke="#969696" stroke-width="0.55"/>
<circle cx="128.7" cy="388.2" r="2.3" fill="#DCDCDC" stroke="#969696" stroke-width="0.55"/>
<circle cx="125.9" cy="383.8" r="2.3" fill="#DCDCDC" stroke="#969696" stroke-width="0.55"/>
<circle cx="130.3" cy="383.1" r="2.3" fill="#DCDCDC" stroke="#969696" stroke-width="0.55"/>
<circle cx="123.3" cy="386.0" r="2.3" fill="#DCDCDC" stroke="#969696" stroke-width="0.55"/>
<circle cx="124.5" cy="381.5" r="2.3" fill="#DCDCDC" stroke="#969696" stroke-width="0.55"/>
<circle cx="122.9" cy="383.3" r="2.3" fill="#DCDCDC" stroke="#969696" stroke-width="0.55"/>
<circle cx="131.5" cy="383.6" r="2.3" fill="#DCDCDC" stroke="#969696" stroke-width="0.55"/>
<circle cx="122.3" cy="387.2" r="2.3" fill="#DCDCDC" stroke="#969696" stroke-width="0.55"/>
<circle cx="127.7" cy="387.8" r="2.3" fill="#DCDCDC" stroke="#969696" stroke-width="0.55"/>
<circle cx="131.8" cy="384.4" r="2.3" fill="#DCDCDC" stroke="#969696" stroke-width="0.55"/>
<circle cx="127.0" cy="384.8" r="2.3" fill="#DCDCDC" stroke="#969696" stroke-width="0.55"/>
<circle cx="123.4" cy="387.2" r="2.3" fill="#DCDCDC" stroke="#969696" stroke-width="0.55"/>
<circle cx="132.4" cy="385.6" r="2.3" fill="#DCDCDC" stroke="#969696" stroke-width="0.55"/>
<circle cx="125.6" cy="385.6" r="2.3" fill="#cdcdcd" stroke="#8a8a8a" stroke-width="0.6"/>
<circle cx="131.0" cy="385.1" r="2.3" fill="#cdcdcd" stroke="#8a8a8a" stroke-width="0.6"/>
<circle cx="128.8" cy="384.4" r="2.3" fill="#cdcdcd" stroke="#8a8a8a" stroke-width="0.6"/>
<circle cx="124.7" cy="383.8" r="2.3" fill="#cdcdcd" stroke="#8a8a8a" stroke-width="0.6"/>
<circle cx="130.4" cy="385.6" r="2.3" fill="#cdcdcd" stroke="#8a8a8a" stroke-width="0.6"/>
<circle cx="127.2" cy="382.4" r="2.3" fill="#cdcdcd" stroke="#8a8a8a" stroke-width="0.6"/>
<circle cx="127.8" cy="383.6" r="2.3" fill="#cdcdcd" stroke="#8a8a8a" stroke-width="0.6"/>
<circle cx="128.1" cy="386.2" r="2.3" fill="#cdcdcd" stroke="#8a8a8a" stroke-width="0.6"/>
<circle cx="124.4" cy="382.7" r="2.3" fill="#cdcdcd" stroke="#8a8a8a" stroke-width="0.6"/>
<circle cx="124.9" cy="387.8" r="2.3" fill="#cdcdcd" stroke="#8a8a8a" stroke-width="0.6"/>
<circle cx="129.7" cy="386.2" r="2.3" fill="#cdcdcd" stroke="#8a8a8a" stroke-width="0.6"/>
<circle cx="126.2" cy="381.4" r="2.3" fill="#cdcdcd" stroke="#8a8a8a" stroke-width="0.6"/>
<circle cx="127.1" cy="385.5" r="2.3" fill="#cdcdcd" stroke="#8a8a8a" stroke-width="0.6"/>
<circle cx="127.8" cy="386.7" r="2.3" fill="#cdcdcd" stroke="#8a8a8a" stroke-width="0.6"/>
<circle cx="127.1" cy="389.5" r="2.3" fill="#cdcdcd" stroke="#8a8a8a" stroke-width="0.6"/>
<circle cx="128.6" cy="384.4" r="2.3" fill="#cdcdcd" stroke="#8a8a8a" stroke-width="0.6"/>
<circle cx="125.9" cy="387.0" r="2.3" fill="#cdcdcd" stroke="#8a8a8a" stroke-width="0.6"/>
<circle cx="130.6" cy="385.4" r="2.3" fill="#cdcdcd" stroke="#8a8a8a" stroke-width="0.6"/>
<circle cx="129.0" cy="384.3" r="2.3" fill="#cdcdcd" stroke="#8a8a8a" stroke-width="0.6"/>
<circle cx="127.0" cy="384.3" r="2.3" fill="#cdcdcd" stroke="#8a8a8a" stroke-width="0.6"/>
<circle cx="128.1" cy="385.3" r="2.3" fill="#cdcdcd" stroke="#8a8a8a" stroke-width="0.6"/>
<circle cx="130.7" cy="386.6" r="2.3" fill="#cdcdcd" stroke="#8a8a8a" stroke-width="0.6"/>
<circle cx="129.0" cy="385.1" r="2.3" fill="#cdcdcd" stroke="#8a8a8a" stroke-width="0.6"/>
<circle cx="125.8" cy="386.2" r="2.3" fill="#cdcdcd" stroke="#8a8a8a" stroke-width="0.6"/>
<circle cx="127.3" cy="384.2" r="2.3" fill="#cdcdcd" stroke="#8a8a8a" stroke-width="0.6"/>
<circle cx="126.7" cy="384.3" r="2.3" fill="#cdcdcd" stroke="#8a8a8a" stroke-width="0.6"/>
<circle cx="131.0" cy="386.1" r="2.3" fill="#cdcdcd" stroke="#8a8a8a" stroke-width="0.6"/>
<circle cx="126.9" cy="384.1" r="2.3" fill="#cdcdcd" stroke="#8a8a8a" stroke-width="0.6"/>
<circle cx="129.3" cy="385.0" r="2.3" fill="#cdcdcd" stroke="#8a8a8a" stroke-width="0.6"/>
<circle cx="128.3" cy="388.4" r="2.3" fill="#cdcdcd" stroke="#8a8a8a" stroke-width="0.6"/>
<circle cx="130.3" cy="385.6" r="2.3" fill="#cdcdcd" stroke="#8a8a8a" stroke-width="0.6"/>
<circle cx="126.5" cy="382.0" r="2.3" fill="#cdcdcd" stroke="#8a8a8a" stroke-width="0.6"/>
<circle cx="128.2" cy="383.9" r="2.3" fill="#cdcdcd" stroke="#8a8a8a" stroke-width="0.6"/>
<circle cx="125.1" cy="389.1" r="2.3" fill="#cdcdcd" stroke="#8a8a8a" stroke-width="0.6"/>
<circle cx="125.6" cy="383.6" r="2.3" fill="#cdcdcd" stroke="#8a8a8a" stroke-width="0.6"/>
<circle cx="127.6" cy="384.8" r="2.3" fill="#cdcdcd" stroke="#8a8a8a" stroke-width="0.6"/>
<circle cx="128.7" cy="382.9" r="2.3" fill="#cdcdcd" stroke="#8a8a8a" stroke-width="0.6"/>
<circle cx="126.4" cy="385.7" r="2.3" fill="#cdcdcd" stroke="#8a8a8a" stroke-width="0.6"/>
<circle cx="125.9" cy="385.8" r="2.3" fill="#cdcdcd" stroke="#8a8a8a" stroke-width="0.6"/>
<circle cx="131.0" cy="386.9" r="2.3" fill="#cdcdcd" stroke="#8a8a8a" stroke-width="0.6"/>
<circle cx="161.4" cy="290.2" r="2.3" fill="#DCDCDC" stroke="#969696" stroke-width="0.55"/>
<circle cx="157.1" cy="301.9" r="2.3" fill="#DCDCDC" stroke="#969696" stroke-width="0.55"/>
<circle cx="126.4" cy="330.4" r="2.3" fill="#DCDCDC" stroke="#969696" stroke-width="0.55"/>
<circle cx="102.2" cy="335.6" r="2.3" fill="#DCDCDC" stroke="#969696" stroke-width="0.55"/>
<circle cx="111.5" cy="338.3" r="2.3" fill="#DCDCDC" stroke="#969696" stroke-width="0.55"/>
<circle cx="124.9" cy="343.6" r="2.3" fill="#DCDCDC" stroke="#969696" stroke-width="0.55"/>
<circle cx="143.5" cy="345.6" r="2.3" fill="#DCDCDC" stroke="#969696" stroke-width="0.55"/>
<circle cx="105.4" cy="349.7" r="2.3" fill="#DCDCDC" stroke="#969696" stroke-width="0.55"/>
<circle cx="124.2" cy="353.6" r="2.3" fill="#DCDCDC" stroke="#969696" stroke-width="0.55"/>
<circle cx="117.5" cy="356.4" r="2.3" fill="#DCDCDC" stroke="#969696" stroke-width="0.55"/>
<circle cx="140.7" cy="354.2" r="2.3" fill="#DCDCDC" stroke="#969696" stroke-width="0.55"/>
<circle cx="147.2" cy="360.9" r="2.3" fill="#DCDCDC" stroke="#969696" stroke-width="0.55"/>
<circle cx="155.7" cy="361.9" r="2.3" fill="#DCDCDC" stroke="#969696" stroke-width="0.55"/>
<circle cx="122.7" cy="366.4" r="2.3" fill="#DCDCDC" stroke="#969696" stroke-width="0.55"/>
<circle cx="108.4" cy="369.5" r="2.3" fill="#DCDCDC" stroke="#969696" stroke-width="0.55"/>
<circle cx="146.5" cy="368.2" r="2.3" fill="#DCDCDC" stroke="#969696" stroke-width="0.55"/>
<circle cx="121.5" cy="371.3" r="2.3" fill="#DCDCDC" stroke="#969696" stroke-width="0.55"/>
<circle cx="127.0" cy="373.7" r="2.3" fill="#DCDCDC" stroke="#969696" stroke-width="0.55"/>
<circle cx="151.4" cy="374.9" r="2.3" fill="#DCDCDC" stroke="#969696" stroke-width="0.55"/>
<circle cx="173.7" cy="345.9" r="2.3" fill="#DCDCDC" stroke="#969696" stroke-width="0.55"/>
<circle cx="140.6" cy="354.0" r="2.3" fill="#DCDCDC" stroke="#969696" stroke-width="0.55"/>
<circle cx="188.7" cy="357.1" r="2.3" fill="#DCDCDC" stroke="#969696" stroke-width="0.55"/>
<circle cx="156.0" cy="361.6" r="2.3" fill="#DCDCDC" stroke="#969696" stroke-width="0.55"/>
<circle cx="163.4" cy="365.7" r="2.3" fill="#DCDCDC" stroke="#969696" stroke-width="0.55"/>
<circle cx="221.6" cy="364.3" r="2.3" fill="#DCDCDC" stroke="#969696" stroke-width="0.55"/>
<circle cx="97.9" cy="399.7" r="2.3" fill="#DCDCDC" stroke="#969696" stroke-width="0.55"/>
<circle cx="116.1" cy="402.7" r="2.3" fill="#DCDCDC" stroke="#969696" stroke-width="0.55"/>
<circle cx="131.4" cy="396.0" r="2.3" fill="#DCDCDC" stroke="#969696" stroke-width="0.55"/>
<circle cx="149.3" cy="403.3" r="2.3" fill="#DCDCDC" stroke="#969696" stroke-width="0.55"/>
<circle cx="54.1" cy="418.9" r="2.3" fill="#DCDCDC" stroke="#969696" stroke-width="0.55"/>
<circle cx="97.4" cy="399.8" r="2.3" fill="#DCDCDC" stroke="#969696" stroke-width="0.55"/>
<circle cx="122.9" cy="366.4" r="2.3" fill="#DCDCDC" stroke="#969696" stroke-width="0.55"/>
<circle cx="121.5" cy="371.4" r="2.3" fill="#DCDCDC" stroke="#969696" stroke-width="0.55"/>
<circle cx="127.0" cy="373.3" r="2.3" fill="#DCDCDC" stroke="#969696" stroke-width="0.55"/>
<circle cx="119.7" cy="379.2" r="2.3" fill="#DCDCDC" stroke="#969696" stroke-width="0.55"/>
<circle cx="118.7" cy="382.4" r="2.3" fill="#DCDCDC" stroke="#969696" stroke-width="0.55"/>
<circle cx="120.1" cy="385.6" r="2.3" fill="#DCDCDC" stroke="#969696" stroke-width="0.55"/>
<circle cx="120.1" cy="389.3" r="2.3" fill="#DCDCDC" stroke="#969696" stroke-width="0.55"/>
<circle cx="136.1" cy="388.4" r="2.3" fill="#DCDCDC" stroke="#969696" stroke-width="0.55"/>
<circle cx="131.6" cy="395.7" r="2.3" fill="#DCDCDC" stroke="#969696" stroke-width="0.55"/>
<circle cx="146.7" cy="368.2" r="2.3" fill="#DCDCDC" stroke="#969696" stroke-width="0.55"/>
<circle cx="151.2" cy="375.1" r="2.3" fill="#DCDCDC" stroke="#969696" stroke-width="0.55"/>
<circle cx="147.1" cy="361.1" r="2.3" fill="#DCDCDC" stroke="#969696" stroke-width="0.55"/>
<circle cx="155.8" cy="361.8" r="2.3" fill="#DCDCDC" stroke="#969696" stroke-width="0.55"/>
<circle cx="138.0" cy="380.1" r="2.3" fill="#DCDCDC" stroke="#969696" stroke-width="0.55"/>
<circle cx="141.6" cy="381.1" r="2.3" fill="#DCDCDC" stroke="#969696" stroke-width="0.55"/>
<circle cx="144.4" cy="382.0" r="2.3" fill="#DCDCDC" stroke="#969696" stroke-width="0.55"/>
<circle cx="136.2" cy="380.0" r="2.3" fill="#DCDCDC" stroke="#969696" stroke-width="0.55"/>
<circle cx="139.4" cy="380.5" r="2.3" fill="#DCDCDC" stroke="#969696" stroke-width="0.55"/>
<circle cx="142.5" cy="381.5" r="2.3" fill="#DCDCDC" stroke="#969696" stroke-width="0.55"/>
<circle cx="145.0" cy="382.0" r="2.3" fill="#DCDCDC" stroke="#969696" stroke-width="0.55"/>
<circle cx="136.5" cy="388.4" r="2.3" fill="#DCDCDC" stroke="#969696" stroke-width="0.55"/>
<circle cx="131.4" cy="395.3" r="2.3" fill="#DCDCDC" stroke="#969696" stroke-width="0.55"/>
<circle cx="146.4" cy="368.2" r="2.3" fill="#DCDCDC" stroke="#969696" stroke-width="0.55"/>
<circle cx="123.0" cy="366.4" r="2.3" fill="#DCDCDC" stroke="#969696" stroke-width="0.55"/>
<circle cx="121.5" cy="371.5" r="2.3" fill="#DCDCDC" stroke="#969696" stroke-width="0.55"/>
<circle cx="119.7" cy="378.8" r="2.3" fill="#DCDCDC" stroke="#969696" stroke-width="0.55"/>
<circle cx="119.7" cy="382.5" r="2.3" fill="#DCDCDC" stroke="#969696" stroke-width="0.55"/>
<circle cx="120.4" cy="389.1" r="2.3" fill="#DCDCDC" stroke="#969696" stroke-width="0.55"/>
<circle cx="191.1" cy="284.6" r="2.45" fill="#D0232A" stroke="#A51F24" stroke-width="0.3"/>
<circle cx="211.6" cy="301.2" r="2.45" fill="#D0232A" stroke="#A51F24" stroke-width="0.3"/>
<circle cx="186.4" cy="308.8" r="2.45" fill="#D0232A" stroke="#A51F24" stroke-width="0.3"/>
<circle cx="176.8" cy="310.4" r="2.45" fill="#D0232A" stroke="#A51F24" stroke-width="0.3"/>
<circle cx="187.6" cy="314.3" r="2.45" fill="#D0232A" stroke="#A51F24" stroke-width="0.3"/>
<circle cx="207.6" cy="319.2" r="2.45" fill="#D0232A" stroke="#A51F24" stroke-width="0.3"/>
<circle cx="214.3" cy="317.1" r="2.45" fill="#D0232A" stroke="#A51F24" stroke-width="0.3"/>
<circle cx="222.1" cy="321.4" r="2.45" fill="#D0232A" stroke="#A51F24" stroke-width="0.3"/>
<circle cx="179.4" cy="323.8" r="2.45" fill="#D0232A" stroke="#A51F24" stroke-width="0.3"/>
<circle cx="196.6" cy="323.8" r="2.45" fill="#D0232A" stroke="#A51F24" stroke-width="0.3"/>
<circle cx="210.6" cy="325.4" r="2.45" fill="#D0232A" stroke="#A51F24" stroke-width="0.3"/>
<circle cx="173.3" cy="329.1" r="2.45" fill="#D0232A" stroke="#A51F24" stroke-width="0.3"/>
<circle cx="172.7" cy="334.7" r="2.45" fill="#D0232A" stroke="#A51F24" stroke-width="0.3"/>
<circle cx="174.6" cy="333.7" r="2.45" fill="#D0232A" stroke="#A51F24" stroke-width="0.3"/>
<circle cx="154.4" cy="343.6" r="2.45" fill="#D0232A" stroke="#A51F24" stroke-width="0.3"/>
<circle cx="165.7" cy="346.0" r="2.45" fill="#D0232A" stroke="#A51F24" stroke-width="0.3"/>
<circle cx="171.7" cy="348.4" r="2.45" fill="#D0232A" stroke="#A51F24" stroke-width="0.3"/>
<circle cx="137.6" cy="345.4" r="2.45" fill="#D0232A" stroke="#A51F24" stroke-width="0.3"/>
<circle cx="136.4" cy="354.8" r="2.45" fill="#D0232A" stroke="#A51F24" stroke-width="0.3"/>
<circle cx="142.9" cy="360.4" r="2.45" fill="#D0232A" stroke="#A51F24" stroke-width="0.3"/>
<circle cx="164.2" cy="362.2" r="2.45" fill="#D0232A" stroke="#A51F24" stroke-width="0.3"/>
<circle cx="169.5" cy="364.6" r="2.45" fill="#D0232A" stroke="#A51F24" stroke-width="0.3"/>
<circle cx="182.8" cy="359.3" r="2.45" fill="#D0232A" stroke="#A51F24" stroke-width="0.3"/>
<circle cx="219.6" cy="366.2" r="2.45" fill="#D0232A" stroke="#A51F24" stroke-width="0.3"/>
<circle cx="158.7" cy="370.3" r="2.45" fill="#D0232A" stroke="#A51F24" stroke-width="0.3"/>
<circle cx="167.0" cy="370.6" r="2.45" fill="#D0232A" stroke="#A51F24" stroke-width="0.3"/>
<circle cx="177.6" cy="370.3" r="2.45" fill="#D0232A" stroke="#A51F24" stroke-width="0.3"/>
<circle cx="156.8" cy="378.8" r="2.45" fill="#D0232A" stroke="#A51F24" stroke-width="0.3"/>
<circle cx="157.7" cy="382.3" r="2.45" fill="#D0232A" stroke="#A51F24" stroke-width="0.3"/>
<circle cx="172.3" cy="387.0" r="2.45" fill="#D0232A" stroke="#A51F24" stroke-width="0.3"/>
<circle cx="211.4" cy="375.1" r="2.45" fill="#D0232A" stroke="#A51F24" stroke-width="0.3"/>
<circle cx="192.2" cy="397.7" r="2.45" fill="#D0232A" stroke="#A51F24" stroke-width="0.3"/>
<circle cx="194.1" cy="397.9" r="2.45" fill="#D0232A" stroke="#A51F24" stroke-width="0.3"/>
<circle cx="196.5" cy="398.3" r="2.45" fill="#D0232A" stroke="#A51F24" stroke-width="0.3"/>
<circle cx="170.9" cy="401.4" r="2.45" fill="#D0232A" stroke="#A51F24" stroke-width="0.3"/>
<circle cx="222.2" cy="411.8" r="2.45" fill="#D0232A" stroke="#A51F24" stroke-width="0.3"/>
<circle cx="150.0" cy="418.8" r="2.45" fill="#D0232A" stroke="#A51F24" stroke-width="0.3"/>
<circle cx="137.4" cy="345.3" r="2.45" fill="#D0232A" stroke="#A51F24" stroke-width="0.3"/>
<circle cx="154.5" cy="343.6" r="2.45" fill="#D0232A" stroke="#A51F24" stroke-width="0.3"/>
<circle cx="128.8" cy="352.6" r="2.45" fill="#D0232A" stroke="#A51F24" stroke-width="0.3"/>
<circle cx="135.6" cy="355.2" r="2.45" fill="#D0232A" stroke="#A51F24" stroke-width="0.3"/>
<circle cx="136.8" cy="354.6" r="2.45" fill="#D0232A" stroke="#A51F24" stroke-width="0.3"/>
<circle cx="142.9" cy="360.5" r="2.45" fill="#D0232A" stroke="#A51F24" stroke-width="0.3"/>
<circle cx="136.2" cy="366.6" r="2.45" fill="#D0232A" stroke="#A51F24" stroke-width="0.3"/>
<circle cx="134.3" cy="369.3" r="2.45" fill="#D0232A" stroke="#A51F24" stroke-width="0.3"/>
<circle cx="139.8" cy="368.5" r="2.45" fill="#D0232A" stroke="#A51F24" stroke-width="0.3"/>
<circle cx="158.1" cy="369.8" r="2.45" fill="#D0232A" stroke="#A51F24" stroke-width="0.3"/>
<circle cx="147.2" cy="374.9" r="2.45" fill="#D0232A" stroke="#A51F24" stroke-width="0.3"/>
<circle cx="141.0" cy="373.7" r="2.45" fill="#D0232A" stroke="#A51F24" stroke-width="0.3"/>
<circle cx="138.0" cy="375.9" r="2.45" fill="#D0232A" stroke="#A51F24" stroke-width="0.3"/>
<circle cx="143.0" cy="360.9" r="2.45" fill="#D0232A" stroke="#A51F24" stroke-width="0.3"/>
<circle cx="136.1" cy="366.9" r="2.45" fill="#D0232A" stroke="#A51F24" stroke-width="0.3"/>
<circle cx="158.6" cy="369.9" r="2.45" fill="#D0232A" stroke="#A51F24" stroke-width="0.3"/>
<circle cx="163.6" cy="362.3" r="2.45" fill="#D0232A" stroke="#A51F24" stroke-width="0.3"/>
<circle cx="141.2" cy="373.7" r="2.45" fill="#D0232A" stroke="#A51F24" stroke-width="0.3"/>
<circle cx="138.4" cy="376.0" r="2.45" fill="#D0232A" stroke="#A51F24" stroke-width="0.3"/>
<circle cx="141.6" cy="376.5" r="2.45" fill="#D0232A" stroke="#A51F24" stroke-width="0.3"/>
<circle cx="147.1" cy="375.1" r="2.45" fill="#D0232A" stroke="#A51F24" stroke-width="0.3"/>
<circle cx="147.6" cy="381.1" r="2.45" fill="#D0232A" stroke="#A51F24" stroke-width="0.3"/>
<circle cx="136.1" cy="384.7" r="2.45" fill="#D0232A" stroke="#A51F24" stroke-width="0.3"/>
<circle cx="143.0" cy="386.6" r="2.45" fill="#D0232A" stroke="#A51F24" stroke-width="0.3"/>
<circle cx="143.5" cy="387.5" r="2.45" fill="#D0232A" stroke="#A51F24" stroke-width="0.3"/>
<circle cx="142.4" cy="392.8" r="2.45" fill="#D0232A" stroke="#A51F24" stroke-width="0.3"/>
<line x1="195.5" y1="351.8" x2="185.5" y2="357.4" stroke="#C0392B" stroke-width="0.6"/>
<line x1="180.2" y1="366.4" x2="170.7" y2="364.8" stroke="#C0392B" stroke-width="0.6"/>
<line x1="215.2" y1="329.9" x2="211.8" y2="326.2" stroke="#C0392B" stroke-width="0.6"/>
<line x1="163.4" y1="340.8" x2="165.2" y2="343.8" stroke="#C0392B" stroke-width="0.6"/>
<line x1="177.3" y1="337.6" x2="175.2" y2="335.6" stroke="#C0392B" stroke-width="0.6"/>
<line x1="206" y1="314.6" x2="207.2" y2="317.4" stroke="#C0392B" stroke-width="0.6"/>
<line x1="186.8" y1="305.2" x2="186.5" y2="306.8" stroke="#C0392B" stroke-width="0.6"/>
<text x="212.6" y="297.6" font-size="9.6" text-anchor="start" font-weight="normal" fill="#111" stroke="#111" stroke-width="0.25">OAS2</text>
<text x="178.9" y="303.5" font-size="9.6" text-anchor="start" font-weight="normal" fill="#111" stroke="#111" stroke-width="0.25">IFIT3</text>
<text x="159.2" y="308.3" font-size="9.6" text-anchor="start" font-weight="normal" fill="#111" stroke="#111" stroke-width="0.25">IFI6</text>
<text x="198.6" y="311.8" font-size="9.6" text-anchor="start" font-weight="normal" fill="#111" stroke="#111" stroke-width="0.25">MX1</text>
<text x="217.5" y="315.3" font-size="9.6" text-anchor="start" font-weight="normal" fill="#111" stroke="#111" stroke-width="0.25">OASL</text>
<text x="157.0" y="320.20000000000005" font-size="9.6" text-anchor="start" font-weight="normal" fill="#111" stroke="#111" stroke-width="0.25">IFIH1</text>
<text x="225.6" y="324.6" font-size="9.6" text-anchor="start" font-weight="normal" fill="#111" stroke="#111" stroke-width="0.25">OAS1</text>
<text x="151.3" y="329.1" font-size="9.6" text-anchor="start" font-weight="normal" fill="#111" stroke="#111" stroke-width="0.25">IFI27</text>
<text x="188.0" y="333.0" font-size="9.6" text-anchor="start" font-weight="normal" fill="#111" stroke="#111" stroke-width="0.25">IFIT1</text>
<text x="216.0" y="336.5" font-size="9.6" text-anchor="start" font-weight="normal" fill="#111" stroke="#111" stroke-width="0.25">IFIT2</text>
<text x="139.9" y="338.8" font-size="9.6" text-anchor="start" font-weight="normal" fill="#111" stroke="#111" stroke-width="0.25">OAS3</text>
<text x="177.2" y="342.90000000000003" font-size="9.6" text-anchor="start" font-weight="normal" fill="#111" stroke="#111" stroke-width="0.25">ISG15</text>
<text x="195.0" y="353.1" font-size="9.6" text-anchor="start" font-weight="normal" fill="#111" stroke="#111" stroke-width="0.25">ISG20</text>
<text x="180.7" y="367.70000000000005" font-size="9.6" text-anchor="start" font-weight="normal" fill="#111" stroke="#111" stroke-width="0.25">IRF7</text>
<text x="47.0" y="414.20000000000005" font-size="9.6" text-anchor="start" font-weight="normal" fill="#111" stroke="#111" stroke-width="0.25">NORAD</text>
<circle cx="362.8" cy="395.8" r="2.3" fill="#DCDCDC" stroke="#969696" stroke-width="0.55"/>
<circle cx="363.2" cy="386.5" r="2.3" fill="#DCDCDC" stroke="#969696" stroke-width="0.55"/>
<circle cx="354.3" cy="387.6" r="2.3" fill="#DCDCDC" stroke="#969696" stroke-width="0.55"/>
<circle cx="380.0" cy="394.8" r="2.3" fill="#DCDCDC" stroke="#969696" stroke-width="0.55"/>
<circle cx="379.1" cy="392.8" r="2.3" fill="#DCDCDC" stroke="#969696" stroke-width="0.55"/>
<circle cx="371.0" cy="392.1" r="2.3" fill="#DCDCDC" stroke="#969696" stroke-width="0.55"/>
<circle cx="345.0" cy="399.6" r="2.3" fill="#DCDCDC" stroke="#969696" stroke-width="0.55"/>
<circle cx="372.4" cy="395.6" r="2.3" fill="#DCDCDC" stroke="#969696" stroke-width="0.55"/>
<circle cx="354.8" cy="384.7" r="2.3" fill="#DCDCDC" stroke="#969696" stroke-width="0.55"/>
<circle cx="369.8" cy="389.5" r="2.3" fill="#DCDCDC" stroke="#969696" stroke-width="0.55"/>
<circle cx="372.6" cy="382.8" r="2.3" fill="#DCDCDC" stroke="#969696" stroke-width="0.55"/>
<circle cx="369.9" cy="394.4" r="2.3" fill="#DCDCDC" stroke="#969696" stroke-width="0.55"/>
<circle cx="357.7" cy="409.3" r="2.3" fill="#DCDCDC" stroke="#969696" stroke-width="0.55"/>
<circle cx="373.0" cy="403.5" r="2.3" fill="#DCDCDC" stroke="#969696" stroke-width="0.55"/>
<circle cx="358.2" cy="381.7" r="2.3" fill="#DCDCDC" stroke="#969696" stroke-width="0.55"/>
<circle cx="361.7" cy="388.8" r="2.3" fill="#DCDCDC" stroke="#969696" stroke-width="0.55"/>
<circle cx="374.0" cy="392.8" r="2.3" fill="#DCDCDC" stroke="#969696" stroke-width="0.55"/>
<circle cx="360.4" cy="379.2" r="2.3" fill="#DCDCDC" stroke="#969696" stroke-width="0.55"/>
<circle cx="359.4" cy="403.7" r="2.3" fill="#DCDCDC" stroke="#969696" stroke-width="0.55"/>
<circle cx="355.8" cy="392.8" r="2.3" fill="#DCDCDC" stroke="#969696" stroke-width="0.55"/>
<circle cx="371.4" cy="373.2" r="2.3" fill="#DCDCDC" stroke="#969696" stroke-width="0.55"/>
<circle cx="366.6" cy="404.7" r="2.3" fill="#DCDCDC" stroke="#969696" stroke-width="0.55"/>
<circle cx="340.6" cy="386.4" r="2.3" fill="#DCDCDC" stroke="#969696" stroke-width="0.55"/>
<circle cx="364.7" cy="380.8" r="2.3" fill="#DCDCDC" stroke="#969696" stroke-width="0.55"/>
<circle cx="372.3" cy="389.3" r="2.3" fill="#DCDCDC" stroke="#969696" stroke-width="0.55"/>
<circle cx="347.5" cy="399.3" r="2.3" fill="#DCDCDC" stroke="#969696" stroke-width="0.55"/>
<circle cx="374.4" cy="400.6" r="2.3" fill="#DCDCDC" stroke="#969696" stroke-width="0.55"/>
<circle cx="384.2" cy="394.1" r="2.3" fill="#DCDCDC" stroke="#969696" stroke-width="0.55"/>
<circle cx="367.5" cy="375.4" r="2.3" fill="#DCDCDC" stroke="#969696" stroke-width="0.55"/>
<circle cx="373.8" cy="383.1" r="2.3" fill="#DCDCDC" stroke="#969696" stroke-width="0.55"/>
<circle cx="360.3" cy="375.8" r="2.3" fill="#DCDCDC" stroke="#969696" stroke-width="0.55"/>
<circle cx="353.8" cy="384.0" r="2.3" fill="#DCDCDC" stroke="#969696" stroke-width="0.55"/>
<circle cx="347.6" cy="392.7" r="2.3" fill="#DCDCDC" stroke="#969696" stroke-width="0.55"/>
<circle cx="384.2" cy="396.5" r="2.3" fill="#DCDCDC" stroke="#969696" stroke-width="0.55"/>
<circle cx="370.5" cy="381.7" r="2.3" fill="#DCDCDC" stroke="#969696" stroke-width="0.55"/>
<circle cx="351.9" cy="401.0" r="2.3" fill="#DCDCDC" stroke="#969696" stroke-width="0.55"/>
<circle cx="379.9" cy="391.8" r="2.3" fill="#DCDCDC" stroke="#969696" stroke-width="0.55"/>
<circle cx="369.1" cy="394.9" r="2.3" fill="#DCDCDC" stroke="#969696" stroke-width="0.55"/>
<circle cx="386.1" cy="397.0" r="2.3" fill="#DCDCDC" stroke="#969696" stroke-width="0.55"/>
<circle cx="372.5" cy="396.2" r="2.3" fill="#DCDCDC" stroke="#969696" stroke-width="0.55"/>
<circle cx="346.2" cy="404.4" r="2.3" fill="#DCDCDC" stroke="#969696" stroke-width="0.55"/>
<circle cx="378.0" cy="396.0" r="2.3" fill="#DCDCDC" stroke="#969696" stroke-width="0.55"/>
<circle cx="341.1" cy="382.9" r="2.3" fill="#DCDCDC" stroke="#969696" stroke-width="0.55"/>
<circle cx="376.6" cy="369.6" r="2.3" fill="#DCDCDC" stroke="#969696" stroke-width="0.55"/>
<circle cx="363.7" cy="401.5" r="2.3" fill="#DCDCDC" stroke="#969696" stroke-width="0.55"/>
<circle cx="349.5" cy="408.1" r="2.3" fill="#DCDCDC" stroke="#969696" stroke-width="0.55"/>
<circle cx="373.0" cy="388.3" r="2.3" fill="#DCDCDC" stroke="#969696" stroke-width="0.55"/>
<circle cx="370.1" cy="397.3" r="2.3" fill="#DCDCDC" stroke="#969696" stroke-width="0.55"/>
<circle cx="367.5" cy="402.9" r="2.3" fill="#DCDCDC" stroke="#969696" stroke-width="0.55"/>
<circle cx="357.7" cy="385.3" r="2.3" fill="#DCDCDC" stroke="#969696" stroke-width="0.55"/>
<circle cx="379.1" cy="390.3" r="2.3" fill="#DCDCDC" stroke="#969696" stroke-width="0.55"/>
<circle cx="354.9" cy="400.6" r="2.3" fill="#DCDCDC" stroke="#969696" stroke-width="0.55"/>
<circle cx="384.5" cy="385.0" r="2.3" fill="#DCDCDC" stroke="#969696" stroke-width="0.55"/>
<circle cx="348.6" cy="388.5" r="2.3" fill="#DCDCDC" stroke="#969696" stroke-width="0.55"/>
<circle cx="364.1" cy="386.6" r="2.3" fill="#DCDCDC" stroke="#969696" stroke-width="0.55"/>
<circle cx="383.7" cy="378.4" r="2.3" fill="#DCDCDC" stroke="#969696" stroke-width="0.55"/>
<circle cx="381.9" cy="375.7" r="2.3" fill="#DCDCDC" stroke="#969696" stroke-width="0.55"/>
<circle cx="356.1" cy="397.1" r="2.3" fill="#DCDCDC" stroke="#969696" stroke-width="0.55"/>
<circle cx="380.2" cy="399.7" r="2.3" fill="#DCDCDC" stroke="#969696" stroke-width="0.55"/>
<circle cx="370.3" cy="391.6" r="2.3" fill="#DCDCDC" stroke="#969696" stroke-width="0.55"/>
<circle cx="367.9" cy="396.5" r="2.3" fill="#DCDCDC" stroke="#969696" stroke-width="0.55"/>
<circle cx="363.8" cy="393.1" r="2.3" fill="#DCDCDC" stroke="#969696" stroke-width="0.55"/>
<circle cx="373.2" cy="390.0" r="2.3" fill="#DCDCDC" stroke="#969696" stroke-width="0.55"/>
<circle cx="375.6" cy="396.4" r="2.3" fill="#DCDCDC" stroke="#969696" stroke-width="0.55"/>
<circle cx="391.3" cy="393.7" r="2.3" fill="#DCDCDC" stroke="#969696" stroke-width="0.55"/>
<circle cx="360.6" cy="385.8" r="2.3" fill="#DCDCDC" stroke="#969696" stroke-width="0.55"/>
<circle cx="365.8" cy="400.4" r="2.3" fill="#DCDCDC" stroke="#969696" stroke-width="0.55"/>
<circle cx="361.8" cy="394.3" r="2.3" fill="#DCDCDC" stroke="#969696" stroke-width="0.55"/>
<circle cx="351.8" cy="392.7" r="2.3" fill="#DCDCDC" stroke="#969696" stroke-width="0.55"/>
<circle cx="371.0" cy="392.7" r="2.3" fill="#DCDCDC" stroke="#969696" stroke-width="0.55"/>
<circle cx="360.6" cy="397.4" r="2.3" fill="#DCDCDC" stroke="#969696" stroke-width="0.55"/>
<circle cx="369.6" cy="384.1" r="2.3" fill="#DCDCDC" stroke="#969696" stroke-width="0.55"/>
<circle cx="359.0" cy="388.9" r="2.3" fill="#DCDCDC" stroke="#969696" stroke-width="0.55"/>
<circle cx="363.2" cy="389.3" r="2.3" fill="#DCDCDC" stroke="#969696" stroke-width="0.55"/>
<circle cx="378.7" cy="376.9" r="2.3" fill="#DCDCDC" stroke="#969696" stroke-width="0.55"/>
<circle cx="365.2" cy="400.7" r="2.3" fill="#DCDCDC" stroke="#969696" stroke-width="0.55"/>
<circle cx="376.8" cy="406.8" r="2.3" fill="#DCDCDC" stroke="#969696" stroke-width="0.55"/>
<circle cx="344.6" cy="386.0" r="2.3" fill="#DCDCDC" stroke="#969696" stroke-width="0.55"/>
<circle cx="361.7" cy="397.0" r="2.3" fill="#DCDCDC" stroke="#969696" stroke-width="0.55"/>
<circle cx="379.7" cy="373.7" r="2.3" fill="#DCDCDC" stroke="#969696" stroke-width="0.55"/>
<circle cx="374.6" cy="373.2" r="2.3" fill="#DCDCDC" stroke="#969696" stroke-width="0.55"/>
<circle cx="368.2" cy="403.4" r="2.3" fill="#DCDCDC" stroke="#969696" stroke-width="0.55"/>
<circle cx="364.1" cy="392.1" r="2.3" fill="#DCDCDC" stroke="#969696" stroke-width="0.55"/>
<circle cx="376.0" cy="391.6" r="2.3" fill="#DCDCDC" stroke="#969696" stroke-width="0.55"/>
<circle cx="364.9" cy="407.2" r="2.3" fill="#DCDCDC" stroke="#969696" stroke-width="0.55"/>
<circle cx="379.2" cy="386.7" r="2.3" fill="#DCDCDC" stroke="#969696" stroke-width="0.55"/>
<circle cx="377.5" cy="387.0" r="2.3" fill="#DCDCDC" stroke="#969696" stroke-width="0.55"/>
<circle cx="367.7" cy="397.9" r="2.3" fill="#DCDCDC" stroke="#969696" stroke-width="0.55"/>
<circle cx="368.8" cy="397.2" r="2.3" fill="#DCDCDC" stroke="#969696" stroke-width="0.55"/>
<circle cx="346.8" cy="373.0" r="2.3" fill="#DCDCDC" stroke="#969696" stroke-width="0.55"/>
<circle cx="373.7" cy="379.2" r="2.3" fill="#DCDCDC" stroke="#969696" stroke-width="0.55"/>
<circle cx="353.1" cy="373.5" r="2.3" fill="#DCDCDC" stroke="#969696" stroke-width="0.55"/>
<circle cx="382.0" cy="398.4" r="2.3" fill="#DCDCDC" stroke="#969696" stroke-width="0.55"/>
<circle cx="384.6" cy="379.5" r="2.3" fill="#DCDCDC" stroke="#969696" stroke-width="0.55"/>
<circle cx="366.0" cy="377.2" r="2.3" fill="#DCDCDC" stroke="#969696" stroke-width="0.55"/>
<circle cx="375.7" cy="407.9" r="2.3" fill="#DCDCDC" stroke="#969696" stroke-width="0.55"/>
<circle cx="354.8" cy="407.6" r="2.3" fill="#DCDCDC" stroke="#969696" stroke-width="0.55"/>
<circle cx="378.4" cy="388.0" r="2.3" fill="#DCDCDC" stroke="#969696" stroke-width="0.55"/>
<circle cx="364.8" cy="383.2" r="2.3" fill="#DCDCDC" stroke="#969696" stroke-width="0.55"/>
<circle cx="371.0" cy="394.6" r="2.3" fill="#DCDCDC" stroke="#969696" stroke-width="0.55"/>
<circle cx="384.9" cy="378.5" r="2.3" fill="#DCDCDC" stroke="#969696" stroke-width="0.55"/>
<circle cx="380.3" cy="406.7" r="2.3" fill="#DCDCDC" stroke="#969696" stroke-width="0.55"/>
<circle cx="384.3" cy="388.0" r="2.3" fill="#DCDCDC" stroke="#969696" stroke-width="0.55"/>
<circle cx="356.6" cy="401.5" r="2.3" fill="#DCDCDC" stroke="#969696" stroke-width="0.55"/>
<circle cx="367.5" cy="391.4" r="2.3" fill="#DCDCDC" stroke="#969696" stroke-width="0.55"/>
<circle cx="383.9" cy="387.0" r="2.3" fill="#DCDCDC" stroke="#969696" stroke-width="0.55"/>
<circle cx="342.6" cy="399.2" r="2.3" fill="#DCDCDC" stroke="#969696" stroke-width="0.55"/>
<circle cx="370.0" cy="383.1" r="2.3" fill="#DCDCDC" stroke="#969696" stroke-width="0.55"/>
<circle cx="365.9" cy="399.4" r="2.3" fill="#DCDCDC" stroke="#969696" stroke-width="0.55"/>
<circle cx="367.0" cy="404.9" r="2.3" fill="#DCDCDC" stroke="#969696" stroke-width="0.55"/>
<circle cx="365.2" cy="401.7" r="2.3" fill="#DCDCDC" stroke="#969696" stroke-width="0.55"/>
<circle cx="384.8" cy="408.1" r="2.3" fill="#DCDCDC" stroke="#969696" stroke-width="0.55"/>
<circle cx="357.5" cy="399.9" r="2.3" fill="#DCDCDC" stroke="#969696" stroke-width="0.55"/>
<circle cx="342.4" cy="377.8" r="2.3" fill="#DCDCDC" stroke="#969696" stroke-width="0.55"/>
<circle cx="350.5" cy="389.9" r="2.3" fill="#DCDCDC" stroke="#969696" stroke-width="0.55"/>
<circle cx="363.6" cy="389.7" r="2.3" fill="#DCDCDC" stroke="#969696" stroke-width="0.55"/>
<circle cx="358.5" cy="392.6" r="2.3" fill="#DCDCDC" stroke="#969696" stroke-width="0.55"/>
<circle cx="388.6" cy="390.5" r="2.3" fill="#DCDCDC" stroke="#969696" stroke-width="0.55"/>
<circle cx="372.7" cy="401.3" r="2.3" fill="#DCDCDC" stroke="#969696" stroke-width="0.55"/>
<circle cx="363.5" cy="375.8" r="2.3" fill="#DCDCDC" stroke="#969696" stroke-width="0.55"/>
<circle cx="359.0" cy="402.1" r="2.3" fill="#DCDCDC" stroke="#969696" stroke-width="0.55"/>
<circle cx="345.3" cy="383.3" r="2.3" fill="#DCDCDC" stroke="#969696" stroke-width="0.55"/>
<circle cx="378.7" cy="398.9" r="2.3" fill="#DCDCDC" stroke="#969696" stroke-width="0.55"/>
<circle cx="366.1" cy="399.1" r="2.3" fill="#DCDCDC" stroke="#969696" stroke-width="0.55"/>
<circle cx="368.1" cy="376.7" r="2.3" fill="#DCDCDC" stroke="#969696" stroke-width="0.55"/>
<circle cx="346.3" cy="382.8" r="2.3" fill="#DCDCDC" stroke="#969696" stroke-width="0.55"/>
<circle cx="377.6" cy="383.6" r="2.3" fill="#DCDCDC" stroke="#969696" stroke-width="0.55"/>
<circle cx="354.6" cy="381.3" r="2.3" fill="#DCDCDC" stroke="#969696" stroke-width="0.55"/>
<circle cx="346.7" cy="388.7" r="2.3" fill="#DCDCDC" stroke="#969696" stroke-width="0.55"/>
<circle cx="351.1" cy="394.1" r="2.3" fill="#DCDCDC" stroke="#969696" stroke-width="0.55"/>
<circle cx="357.9" cy="368.2" r="2.3" fill="#DCDCDC" stroke="#969696" stroke-width="0.55"/>
<circle cx="375.1" cy="386.9" r="2.3" fill="#DCDCDC" stroke="#969696" stroke-width="0.55"/>
<circle cx="369.7" cy="384.8" r="2.3" fill="#DCDCDC" stroke="#969696" stroke-width="0.55"/>
<circle cx="375.8" cy="398.4" r="2.3" fill="#DCDCDC" stroke="#969696" stroke-width="0.55"/>
<circle cx="374.4" cy="393.7" r="2.3" fill="#DCDCDC" stroke="#969696" stroke-width="0.55"/>
<circle cx="382.8" cy="397.4" r="2.3" fill="#DCDCDC" stroke="#969696" stroke-width="0.55"/>
<circle cx="371.7" cy="366.6" r="2.3" fill="#DCDCDC" stroke="#969696" stroke-width="0.55"/>
<circle cx="377.3" cy="404.7" r="2.3" fill="#DCDCDC" stroke="#969696" stroke-width="0.55"/>
<circle cx="362.3" cy="384.7" r="2.3" fill="#DCDCDC" stroke="#969696" stroke-width="0.55"/>
<circle cx="354.3" cy="397.8" r="2.3" fill="#DCDCDC" stroke="#969696" stroke-width="0.55"/>
<circle cx="389.8" cy="388.6" r="2.3" fill="#DCDCDC" stroke="#969696" stroke-width="0.55"/>
<circle cx="373.1" cy="400.2" r="2.3" fill="#DCDCDC" stroke="#969696" stroke-width="0.55"/>
<circle cx="354.6" cy="389.0" r="2.3" fill="#DCDCDC" stroke="#969696" stroke-width="0.55"/>
<circle cx="369.7" cy="399.3" r="2.3" fill="#DCDCDC" stroke="#969696" stroke-width="0.55"/>
<circle cx="365.6" cy="387.8" r="2.3" fill="#DCDCDC" stroke="#969696" stroke-width="0.55"/>
<circle cx="353.2" cy="386.0" r="2.3" fill="#DCDCDC" stroke="#969696" stroke-width="0.55"/>
<circle cx="377.2" cy="391.1" r="2.3" fill="#DCDCDC" stroke="#969696" stroke-width="0.55"/>
<circle cx="355.3" cy="380.5" r="2.3" fill="#DCDCDC" stroke="#969696" stroke-width="0.55"/>
<circle cx="373.8" cy="395.4" r="2.3" fill="#DCDCDC" stroke="#969696" stroke-width="0.55"/>
<circle cx="387.2" cy="394.8" r="2.3" fill="#DCDCDC" stroke="#969696" stroke-width="0.55"/>
<circle cx="365.1" cy="395.9" r="2.3" fill="#DCDCDC" stroke="#969696" stroke-width="0.55"/>
<circle cx="341.5" cy="401.6" r="2.3" fill="#DCDCDC" stroke="#969696" stroke-width="0.55"/>
<circle cx="370.1" cy="382.1" r="2.3" fill="#DCDCDC" stroke="#969696" stroke-width="0.55"/>
<circle cx="348.3" cy="382.5" r="2.3" fill="#DCDCDC" stroke="#969696" stroke-width="0.55"/>
<circle cx="369.7" cy="392.1" r="2.3" fill="#DCDCDC" stroke="#969696" stroke-width="0.55"/>
<circle cx="361.0" cy="379.0" r="2.3" fill="#DCDCDC" stroke="#969696" stroke-width="0.55"/>
<circle cx="351.0" cy="374.9" r="2.3" fill="#DCDCDC" stroke="#969696" stroke-width="0.55"/>
<circle cx="387.5" cy="401.1" r="2.3" fill="#DCDCDC" stroke="#969696" stroke-width="0.55"/>
<circle cx="388.9" cy="399.1" r="2.3" fill="#DCDCDC" stroke="#969696" stroke-width="0.55"/>
<circle cx="355.0" cy="392.9" r="2.3" fill="#DCDCDC" stroke="#969696" stroke-width="0.55"/>
<circle cx="365.3" cy="395.9" r="2.3" fill="#DCDCDC" stroke="#969696" stroke-width="0.55"/>
<circle cx="356.8" cy="388.6" r="2.3" fill="#DCDCDC" stroke="#969696" stroke-width="0.55"/>
<circle cx="371.8" cy="394.2" r="2.3" fill="#DCDCDC" stroke="#969696" stroke-width="0.55"/>
<circle cx="374.0" cy="392.4" r="2.3" fill="#DCDCDC" stroke="#969696" stroke-width="0.55"/>
<circle cx="361.9" cy="398.9" r="2.3" fill="#DCDCDC" stroke="#969696" stroke-width="0.55"/>
<circle cx="366.6" cy="380.7" r="2.3" fill="#DCDCDC" stroke="#969696" stroke-width="0.55"/>
<circle cx="358.1" cy="390.0" r="2.3" fill="#DCDCDC" stroke="#969696" stroke-width="0.55"/>
<circle cx="364.6" cy="391.8" r="2.3" fill="#DCDCDC" stroke="#969696" stroke-width="0.55"/>
<circle cx="366.0" cy="392.0" r="2.3" fill="#DCDCDC" stroke="#969696" stroke-width="0.55"/>
<circle cx="364.3" cy="375.8" r="2.3" fill="#DCDCDC" stroke="#969696" stroke-width="0.55"/>
<circle cx="371.3" cy="401.9" r="2.3" fill="#DCDCDC" stroke="#969696" stroke-width="0.55"/>
<circle cx="371.5" cy="387.9" r="2.3" fill="#DCDCDC" stroke="#969696" stroke-width="0.55"/>
<circle cx="371.6" cy="379.1" r="2.3" fill="#DCDCDC" stroke="#969696" stroke-width="0.55"/>
<circle cx="342.1" cy="390.7" r="2.3" fill="#DCDCDC" stroke="#969696" stroke-width="0.55"/>
<circle cx="354.3" cy="398.3" r="2.3" fill="#DCDCDC" stroke="#969696" stroke-width="0.55"/>
<circle cx="352.9" cy="407.8" r="2.3" fill="#DCDCDC" stroke="#969696" stroke-width="0.55"/>
<circle cx="361.2" cy="374.6" r="2.3" fill="#DCDCDC" stroke="#969696" stroke-width="0.55"/>
<circle cx="356.4" cy="395.9" r="2.3" fill="#DCDCDC" stroke="#969696" stroke-width="0.55"/>
<circle cx="372.3" cy="392.0" r="2.3" fill="#DCDCDC" stroke="#969696" stroke-width="0.55"/>
<circle cx="384.7" cy="397.9" r="2.3" fill="#DCDCDC" stroke="#969696" stroke-width="0.55"/>
<circle cx="365.7" cy="396.7" r="2.3" fill="#DCDCDC" stroke="#969696" stroke-width="0.55"/>
<circle cx="386.8" cy="400.9" r="2.3" fill="#DCDCDC" stroke="#969696" stroke-width="0.55"/>
<circle cx="378.9" cy="377.8" r="2.3" fill="#DCDCDC" stroke="#969696" stroke-width="0.55"/>
<circle cx="364.1" cy="398.2" r="2.3" fill="#DCDCDC" stroke="#969696" stroke-width="0.55"/>
<circle cx="362.3" cy="402.0" r="2.3" fill="#DCDCDC" stroke="#969696" stroke-width="0.55"/>
<circle cx="373.5" cy="400.2" r="2.3" fill="#DCDCDC" stroke="#969696" stroke-width="0.55"/>
<circle cx="381.6" cy="387.6" r="2.3" fill="#DCDCDC" stroke="#969696" stroke-width="0.55"/>
<circle cx="361.7" cy="399.8" r="2.3" fill="#DCDCDC" stroke="#969696" stroke-width="0.55"/>
<circle cx="378.4" cy="390.1" r="2.3" fill="#DCDCDC" stroke="#969696" stroke-width="0.55"/>
<circle cx="351.3" cy="392.1" r="2.3" fill="#DCDCDC" stroke="#969696" stroke-width="0.55"/>
<circle cx="370.5" cy="402.7" r="2.3" fill="#DCDCDC" stroke="#969696" stroke-width="0.55"/>
<circle cx="375.9" cy="390.3" r="2.3" fill="#DCDCDC" stroke="#969696" stroke-width="0.55"/>
<circle cx="376.8" cy="396.1" r="2.3" fill="#DCDCDC" stroke="#969696" stroke-width="0.55"/>
<circle cx="368.6" cy="390.6" r="2.3" fill="#DCDCDC" stroke="#969696" stroke-width="0.55"/>
<circle cx="362.9" cy="397.7" r="2.3" fill="#DCDCDC" stroke="#969696" stroke-width="0.55"/>
<circle cx="352.7" cy="382.9" r="2.3" fill="#DCDCDC" stroke="#969696" stroke-width="0.55"/>
<circle cx="366.1" cy="373.5" r="2.3" fill="#DCDCDC" stroke="#969696" stroke-width="0.55"/>
<circle cx="360.5" cy="367.4" r="2.3" fill="#DCDCDC" stroke="#969696" stroke-width="0.55"/>
<circle cx="357.4" cy="396.4" r="2.3" fill="#DCDCDC" stroke="#969696" stroke-width="0.55"/>
<circle cx="373.1" cy="389.4" r="2.3" fill="#DCDCDC" stroke="#969696" stroke-width="0.55"/>
<circle cx="363.1" cy="374.1" r="2.3" fill="#DCDCDC" stroke="#969696" stroke-width="0.55"/>
<circle cx="389.0" cy="395.8" r="2.3" fill="#DCDCDC" stroke="#969696" stroke-width="0.55"/>
<circle cx="379.8" cy="380.1" r="2.3" fill="#DCDCDC" stroke="#969696" stroke-width="0.55"/>
<circle cx="363.7" cy="369.5" r="2.3" fill="#DCDCDC" stroke="#969696" stroke-width="0.55"/>
<circle cx="375.8" cy="400.5" r="2.3" fill="#DCDCDC" stroke="#969696" stroke-width="0.55"/>
<circle cx="342.1" cy="389.4" r="2.3" fill="#DCDCDC" stroke="#969696" stroke-width="0.55"/>
<circle cx="373.9" cy="370.2" r="2.3" fill="#DCDCDC" stroke="#969696" stroke-width="0.55"/>
<circle cx="343.0" cy="378.0" r="2.3" fill="#DCDCDC" stroke="#969696" stroke-width="0.55"/>
<circle cx="358.1" cy="374.2" r="2.3" fill="#DCDCDC" stroke="#969696" stroke-width="0.55"/>
<circle cx="366.4" cy="392.8" r="2.3" fill="#DCDCDC" stroke="#969696" stroke-width="0.55"/>
<circle cx="374.0" cy="397.9" r="2.3" fill="#DCDCDC" stroke="#969696" stroke-width="0.55"/>
<circle cx="384.9" cy="403.1" r="2.3" fill="#DCDCDC" stroke="#969696" stroke-width="0.55"/>
<circle cx="349.5" cy="384.3" r="2.3" fill="#DCDCDC" stroke="#969696" stroke-width="0.55"/>
<circle cx="352.6" cy="377.9" r="2.3" fill="#DCDCDC" stroke="#969696" stroke-width="0.55"/>
<circle cx="365.0" cy="390.1" r="2.3" fill="#DCDCDC" stroke="#969696" stroke-width="0.55"/>
<circle cx="372.2" cy="372.1" r="2.3" fill="#DCDCDC" stroke="#969696" stroke-width="0.55"/>
<circle cx="350.4" cy="389.7" r="2.3" fill="#DCDCDC" stroke="#969696" stroke-width="0.55"/>
<circle cx="363.5" cy="386.5" r="2.3" fill="#DCDCDC" stroke="#969696" stroke-width="0.55"/>
<circle cx="365.2" cy="381.5" r="2.3" fill="#DCDCDC" stroke="#969696" stroke-width="0.55"/>
<circle cx="374.8" cy="394.0" r="2.3" fill="#DCDCDC" stroke="#969696" stroke-width="0.55"/>
<circle cx="364.9" cy="382.4" r="2.3" fill="#DCDCDC" stroke="#969696" stroke-width="0.55"/>
<circle cx="353.6" cy="390.4" r="2.3" fill="#DCDCDC" stroke="#969696" stroke-width="0.55"/>
<circle cx="347.0" cy="392.2" r="2.3" fill="#DCDCDC" stroke="#969696" stroke-width="0.55"/>
<circle cx="367.9" cy="374.5" r="2.3" fill="#DCDCDC" stroke="#969696" stroke-width="0.55"/>
<circle cx="362.8" cy="386.5" r="2.3" fill="#DCDCDC" stroke="#969696" stroke-width="0.55"/>
<circle cx="371.8" cy="396.9" r="2.3" fill="#DCDCDC" stroke="#969696" stroke-width="0.55"/>
<circle cx="365.5" cy="380.4" r="2.3" fill="#DCDCDC" stroke="#969696" stroke-width="0.55"/>
<circle cx="364.2" cy="389.3" r="2.3" fill="#DCDCDC" stroke="#969696" stroke-width="0.55"/>
<circle cx="375.3" cy="393.3" r="2.3" fill="#DCDCDC" stroke="#969696" stroke-width="0.55"/>
<circle cx="356.9" cy="374.8" r="2.3" fill="#DCDCDC" stroke="#969696" stroke-width="0.55"/>
<circle cx="361.3" cy="381.7" r="2.3" fill="#DCDCDC" stroke="#969696" stroke-width="0.55"/>
<circle cx="352.0" cy="388.7" r="2.3" fill="#DCDCDC" stroke="#969696" stroke-width="0.55"/>
<circle cx="359.8" cy="391.2" r="2.3" fill="#DCDCDC" stroke="#969696" stroke-width="0.55"/>
<circle cx="372.6" cy="385.4" r="2.3" fill="#DCDCDC" stroke="#969696" stroke-width="0.55"/>
<circle cx="379.9" cy="391.4" r="2.3" fill="#DCDCDC" stroke="#969696" stroke-width="0.55"/>
<circle cx="356.5" cy="392.8" r="2.3" fill="#DCDCDC" stroke="#969696" stroke-width="0.55"/>
<circle cx="370.1" cy="404.4" r="2.3" fill="#DCDCDC" stroke="#969696" stroke-width="0.55"/>
<circle cx="375.7" cy="400.7" r="2.3" fill="#DCDCDC" stroke="#969696" stroke-width="0.55"/>
<circle cx="372.4" cy="388.2" r="2.3" fill="#DCDCDC" stroke="#969696" stroke-width="0.55"/>
<circle cx="372.4" cy="377.9" r="2.3" fill="#DCDCDC" stroke="#969696" stroke-width="0.55"/>
<circle cx="380.9" cy="378.6" r="2.3" fill="#DCDCDC" stroke="#969696" stroke-width="0.55"/>
<circle cx="369.1" cy="413.9" r="2.3" fill="#DCDCDC" stroke="#969696" stroke-width="0.55"/>
<circle cx="363.2" cy="390.2" r="2.3" fill="#DCDCDC" stroke="#969696" stroke-width="0.55"/>
<circle cx="380.7" cy="390.3" r="2.3" fill="#DCDCDC" stroke="#969696" stroke-width="0.55"/>
<circle cx="355.8" cy="392.9" r="2.3" fill="#DCDCDC" stroke="#969696" stroke-width="0.55"/>
<circle cx="373.3" cy="398.0" r="2.3" fill="#DCDCDC" stroke="#969696" stroke-width="0.55"/>
<circle cx="356.3" cy="409.7" r="2.3" fill="#DCDCDC" stroke="#969696" stroke-width="0.55"/>
<circle cx="387.0" cy="390.2" r="2.3" fill="#DCDCDC" stroke="#969696" stroke-width="0.55"/>
<circle cx="369.4" cy="385.2" r="2.3" fill="#DCDCDC" stroke="#969696" stroke-width="0.55"/>
<circle cx="383.8" cy="382.1" r="2.3" fill="#DCDCDC" stroke="#969696" stroke-width="0.55"/>
<circle cx="374.5" cy="384.6" r="2.3" fill="#DCDCDC" stroke="#969696" stroke-width="0.55"/>
<circle cx="357.3" cy="398.1" r="2.3" fill="#DCDCDC" stroke="#969696" stroke-width="0.55"/>
<circle cx="382.8" cy="389.9" r="2.3" fill="#DCDCDC" stroke="#969696" stroke-width="0.55"/>
<circle cx="357.5" cy="399.1" r="2.3" fill="#DCDCDC" stroke="#969696" stroke-width="0.55"/>
<circle cx="365.4" cy="393.5" r="2.3" fill="#DCDCDC" stroke="#969696" stroke-width="0.55"/>
<circle cx="385.2" cy="402.7" r="2.3" fill="#DCDCDC" stroke="#969696" stroke-width="0.55"/>
<circle cx="366.0" cy="398.8" r="2.3" fill="#DCDCDC" stroke="#969696" stroke-width="0.55"/>
<circle cx="357.8" cy="389.5" r="2.3" fill="#DCDCDC" stroke="#969696" stroke-width="0.55"/>
<circle cx="383.2" cy="376.3" r="2.3" fill="#DCDCDC" stroke="#969696" stroke-width="0.55"/>
<circle cx="347.0" cy="371.8" r="2.3" fill="#DCDCDC" stroke="#969696" stroke-width="0.55"/>
<circle cx="380.8" cy="384.8" r="2.3" fill="#DCDCDC" stroke="#969696" stroke-width="0.55"/>
<circle cx="365.2" cy="386.5" r="2.3" fill="#DCDCDC" stroke="#969696" stroke-width="0.55"/>
<circle cx="364.5" cy="377.8" r="2.3" fill="#DCDCDC" stroke="#969696" stroke-width="0.55"/>
<circle cx="366.3" cy="373.8" r="2.3" fill="#DCDCDC" stroke="#969696" stroke-width="0.55"/>
<circle cx="365.1" cy="393.5" r="2.3" fill="#DCDCDC" stroke="#969696" stroke-width="0.55"/>
<circle cx="371.9" cy="387.4" r="2.3" fill="#DCDCDC" stroke="#969696" stroke-width="0.55"/>
<circle cx="354.6" cy="391.8" r="2.3" fill="#DCDCDC" stroke="#969696" stroke-width="0.55"/>
<circle cx="359.9" cy="407.6" r="2.3" fill="#DCDCDC" stroke="#969696" stroke-width="0.55"/>
<circle cx="375.7" cy="388.7" r="2.3" fill="#DCDCDC" stroke="#969696" stroke-width="0.55"/>
<circle cx="360.1" cy="382.1" r="2.3" fill="#DCDCDC" stroke="#969696" stroke-width="0.55"/>
<circle cx="354.2" cy="386.0" r="2.3" fill="#DCDCDC" stroke="#969696" stroke-width="0.55"/>
<circle cx="369.7" cy="395.8" r="2.3" fill="#DCDCDC" stroke="#969696" stroke-width="0.55"/>
<circle cx="373.2" cy="413.6" r="2.3" fill="#DCDCDC" stroke="#969696" stroke-width="0.55"/>
<circle cx="357.1" cy="390.1" r="2.3" fill="#DCDCDC" stroke="#969696" stroke-width="0.55"/>
<circle cx="359.4" cy="391.9" r="2.3" fill="#DCDCDC" stroke="#969696" stroke-width="0.55"/>
<circle cx="367.9" cy="394.6" r="2.3" fill="#DCDCDC" stroke="#969696" stroke-width="0.55"/>
<circle cx="363.0" cy="394.1" r="2.3" fill="#DCDCDC" stroke="#969696" stroke-width="0.55"/>
<circle cx="366.7" cy="398.7" r="2.3" fill="#DCDCDC" stroke="#969696" stroke-width="0.55"/>
<circle cx="342.2" cy="380.0" r="2.3" fill="#DCDCDC" stroke="#969696" stroke-width="0.55"/>
<circle cx="366.0" cy="378.4" r="2.3" fill="#DCDCDC" stroke="#969696" stroke-width="0.55"/>
<circle cx="352.8" cy="397.1" r="2.3" fill="#DCDCDC" stroke="#969696" stroke-width="0.55"/>
<circle cx="357.8" cy="397.1" r="2.3" fill="#DCDCDC" stroke="#969696" stroke-width="0.55"/>
<circle cx="375.4" cy="393.4" r="2.3" fill="#DCDCDC" stroke="#969696" stroke-width="0.55"/>
<circle cx="372.4" cy="388.8" r="2.3" fill="#DCDCDC" stroke="#969696" stroke-width="0.55"/>
<circle cx="348.2" cy="389.7" r="2.3" fill="#DCDCDC" stroke="#969696" stroke-width="0.55"/>
<circle cx="371.7" cy="384.0" r="2.3" fill="#DCDCDC" stroke="#969696" stroke-width="0.55"/>
<circle cx="364.7" cy="398.4" r="2.3" fill="#DCDCDC" stroke="#969696" stroke-width="0.55"/>
<circle cx="354.9" cy="397.2" r="2.3" fill="#DCDCDC" stroke="#969696" stroke-width="0.55"/>
<circle cx="389.5" cy="383.8" r="2.3" fill="#DCDCDC" stroke="#969696" stroke-width="0.55"/>
<circle cx="367.8" cy="388.3" r="2.3" fill="#DCDCDC" stroke="#969696" stroke-width="0.55"/>
<circle cx="385.4" cy="393.6" r="2.3" fill="#DCDCDC" stroke="#969696" stroke-width="0.55"/>
<circle cx="377.3" cy="382.2" r="2.3" fill="#DCDCDC" stroke="#969696" stroke-width="0.55"/>
<circle cx="365.8" cy="389.9" r="2.3" fill="#DCDCDC" stroke="#969696" stroke-width="0.55"/>
<circle cx="377.3" cy="370.3" r="2.3" fill="#DCDCDC" stroke="#969696" stroke-width="0.55"/>
<circle cx="375.4" cy="388.5" r="2.3" fill="#DCDCDC" stroke="#969696" stroke-width="0.55"/>
<circle cx="371.7" cy="394.1" r="2.3" fill="#DCDCDC" stroke="#969696" stroke-width="0.55"/>
<circle cx="347.1" cy="387.6" r="2.3" fill="#DCDCDC" stroke="#969696" stroke-width="0.55"/>
<circle cx="384.8" cy="383.5" r="2.3" fill="#DCDCDC" stroke="#969696" stroke-width="0.55"/>
<circle cx="353.1" cy="374.7" r="2.3" fill="#DCDCDC" stroke="#969696" stroke-width="0.55"/>
<circle cx="350.6" cy="393.8" r="2.3" fill="#DCDCDC" stroke="#969696" stroke-width="0.55"/>
<circle cx="387.3" cy="394.8" r="2.3" fill="#DCDCDC" stroke="#969696" stroke-width="0.55"/>
<circle cx="359.5" cy="382.4" r="2.3" fill="#DCDCDC" stroke="#969696" stroke-width="0.55"/>
<circle cx="372.7" cy="396.2" r="2.3" fill="#DCDCDC" stroke="#969696" stroke-width="0.55"/>
<circle cx="353.2" cy="376.8" r="2.3" fill="#DCDCDC" stroke="#969696" stroke-width="0.55"/>
<circle cx="369.7" cy="392.8" r="2.3" fill="#DCDCDC" stroke="#969696" stroke-width="0.55"/>
<circle cx="349.5" cy="387.7" r="2.3" fill="#DCDCDC" stroke="#969696" stroke-width="0.55"/>
<circle cx="359.2" cy="395.2" r="2.3" fill="#DCDCDC" stroke="#969696" stroke-width="0.55"/>
<circle cx="364.5" cy="389.0" r="2.3" fill="#DCDCDC" stroke="#969696" stroke-width="0.55"/>
<circle cx="361.5" cy="401.9" r="2.3" fill="#DCDCDC" stroke="#969696" stroke-width="0.55"/>
<circle cx="383.5" cy="385.9" r="2.3" fill="#DCDCDC" stroke="#969696" stroke-width="0.55"/>
<circle cx="376.7" cy="381.5" r="2.3" fill="#DCDCDC" stroke="#969696" stroke-width="0.55"/>
<circle cx="366.9" cy="398.4" r="2.3" fill="#DCDCDC" stroke="#969696" stroke-width="0.55"/>
<circle cx="385.1" cy="385.7" r="2.3" fill="#DCDCDC" stroke="#969696" stroke-width="0.55"/>
<circle cx="365.1" cy="392.2" r="2.3" fill="#DCDCDC" stroke="#969696" stroke-width="0.55"/>
<circle cx="347.1" cy="390.2" r="2.3" fill="#DCDCDC" stroke="#969696" stroke-width="0.55"/>
<circle cx="357.5" cy="394.2" r="2.3" fill="#DCDCDC" stroke="#969696" stroke-width="0.55"/>
<circle cx="366.5" cy="392.9" r="2.3" fill="#DCDCDC" stroke="#969696" stroke-width="0.55"/>
<circle cx="359.1" cy="400.0" r="2.3" fill="#DCDCDC" stroke="#969696" stroke-width="0.55"/>
<circle cx="362.6" cy="383.2" r="2.3" fill="#DCDCDC" stroke="#969696" stroke-width="0.55"/>
<circle cx="372.0" cy="372.4" r="2.3" fill="#DCDCDC" stroke="#969696" stroke-width="0.55"/>
<circle cx="357.5" cy="389.8" r="2.3" fill="#DCDCDC" stroke="#969696" stroke-width="0.55"/>
<circle cx="376.7" cy="388.2" r="2.3" fill="#DCDCDC" stroke="#969696" stroke-width="0.55"/>
<circle cx="369.9" cy="382.6" r="2.3" fill="#DCDCDC" stroke="#969696" stroke-width="0.55"/>
<circle cx="369.8" cy="408.7" r="2.3" fill="#DCDCDC" stroke="#969696" stroke-width="0.55"/>
<circle cx="357.9" cy="390.2" r="2.3" fill="#DCDCDC" stroke="#969696" stroke-width="0.55"/>
<circle cx="368.2" cy="401.5" r="2.3" fill="#DCDCDC" stroke="#969696" stroke-width="0.55"/>
<circle cx="373.6" cy="398.9" r="2.3" fill="#DCDCDC" stroke="#969696" stroke-width="0.55"/>
<circle cx="368.6" cy="392.9" r="2.3" fill="#DCDCDC" stroke="#969696" stroke-width="0.55"/>
<circle cx="377.7" cy="394.1" r="2.3" fill="#DCDCDC" stroke="#969696" stroke-width="0.55"/>
<circle cx="387.0" cy="376.1" r="2.3" fill="#DCDCDC" stroke="#969696" stroke-width="0.55"/>
<circle cx="376.2" cy="385.8" r="2.3" fill="#DCDCDC" stroke="#969696" stroke-width="0.55"/>
<circle cx="365.9" cy="387.1" r="2.3" fill="#DCDCDC" stroke="#969696" stroke-width="0.55"/>
<circle cx="359.7" cy="380.6" r="2.3" fill="#DCDCDC" stroke="#969696" stroke-width="0.55"/>
<circle cx="358.1" cy="397.2" r="2.3" fill="#DCDCDC" stroke="#969696" stroke-width="0.55"/>
<circle cx="366.5" cy="390.7" r="2.3" fill="#DCDCDC" stroke="#969696" stroke-width="0.55"/>
<circle cx="363.8" cy="400.3" r="2.3" fill="#DCDCDC" stroke="#969696" stroke-width="0.55"/>
<circle cx="372.2" cy="388.4" r="2.3" fill="#DCDCDC" stroke="#969696" stroke-width="0.55"/>
<circle cx="374.4" cy="388.3" r="2.3" fill="#DCDCDC" stroke="#969696" stroke-width="0.55"/>
<circle cx="351.5" cy="406.4" r="2.3" fill="#DCDCDC" stroke="#969696" stroke-width="0.55"/>
<circle cx="371.9" cy="379.2" r="2.3" fill="#DCDCDC" stroke="#969696" stroke-width="0.55"/>
<circle cx="379.6" cy="393.9" r="2.3" fill="#DCDCDC" stroke="#969696" stroke-width="0.55"/>
<circle cx="370.2" cy="400.0" r="2.3" fill="#DCDCDC" stroke="#969696" stroke-width="0.55"/>
<circle cx="368.5" cy="388.3" r="2.3" fill="#DCDCDC" stroke="#969696" stroke-width="0.55"/>
<circle cx="346.5" cy="400.9" r="2.3" fill="#DCDCDC" stroke="#969696" stroke-width="0.55"/>
<circle cx="366.4" cy="386.8" r="2.3" fill="#DCDCDC" stroke="#969696" stroke-width="0.55"/>
<circle cx="370.4" cy="390.9" r="2.3" fill="#DCDCDC" stroke="#969696" stroke-width="0.55"/>
<circle cx="374.5" cy="385.8" r="2.3" fill="#DCDCDC" stroke="#969696" stroke-width="0.55"/>
<circle cx="365.5" cy="365.9" r="2.3" fill="#DCDCDC" stroke="#969696" stroke-width="0.55"/>
<circle cx="360.7" cy="397.6" r="2.3" fill="#DCDCDC" stroke="#969696" stroke-width="0.55"/>
<circle cx="382.8" cy="385.9" r="2.3" fill="#DCDCDC" stroke="#969696" stroke-width="0.55"/>
<circle cx="364.5" cy="407.8" r="2.3" fill="#DCDCDC" stroke="#969696" stroke-width="0.55"/>
<circle cx="361.9" cy="398.3" r="2.3" fill="#DCDCDC" stroke="#969696" stroke-width="0.55"/>
<circle cx="387.1" cy="390.4" r="2.3" fill="#DCDCDC" stroke="#969696" stroke-width="0.55"/>
<circle cx="381.5" cy="382.0" r="2.3" fill="#DCDCDC" stroke="#969696" stroke-width="0.55"/>
<circle cx="368.6" cy="389.1" r="2.3" fill="#DCDCDC" stroke="#969696" stroke-width="0.55"/>
<circle cx="367.4" cy="402.7" r="2.3" fill="#DCDCDC" stroke="#969696" stroke-width="0.55"/>
<circle cx="358.8" cy="395.6" r="2.3" fill="#DCDCDC" stroke="#969696" stroke-width="0.55"/>
<circle cx="352.7" cy="395.6" r="2.3" fill="#DCDCDC" stroke="#969696" stroke-width="0.55"/>
<circle cx="373.2" cy="386.9" r="2.3" fill="#DCDCDC" stroke="#969696" stroke-width="0.55"/>
<circle cx="372.7" cy="372.6" r="2.3" fill="#DCDCDC" stroke="#969696" stroke-width="0.55"/>
<circle cx="375.6" cy="372.6" r="2.3" fill="#DCDCDC" stroke="#969696" stroke-width="0.55"/>
<circle cx="357.2" cy="383.7" r="2.3" fill="#DCDCDC" stroke="#969696" stroke-width="0.55"/>
<circle cx="360.9" cy="399.7" r="2.3" fill="#DCDCDC" stroke="#969696" stroke-width="0.55"/>
<circle cx="367.0" cy="385.5" r="2.3" fill="#DCDCDC" stroke="#969696" stroke-width="0.55"/>
<circle cx="372.8" cy="407.8" r="2.3" fill="#DCDCDC" stroke="#969696" stroke-width="0.55"/>
<circle cx="366.1" cy="394.1" r="2.3" fill="#DCDCDC" stroke="#969696" stroke-width="0.55"/>
<circle cx="381.6" cy="393.0" r="2.3" fill="#DCDCDC" stroke="#969696" stroke-width="0.55"/>
<circle cx="365.5" cy="394.7" r="2.3" fill="#DCDCDC" stroke="#969696" stroke-width="0.55"/>
<circle cx="378.2" cy="397.5" r="2.3" fill="#DCDCDC" stroke="#969696" stroke-width="0.55"/>
<circle cx="362.6" cy="378.1" r="2.3" fill="#DCDCDC" stroke="#969696" stroke-width="0.55"/>
<circle cx="367.3" cy="401.6" r="2.3" fill="#DCDCDC" stroke="#969696" stroke-width="0.55"/>
<circle cx="352.3" cy="378.4" r="2.3" fill="#DCDCDC" stroke="#969696" stroke-width="0.55"/>
<circle cx="365.7" cy="368.2" r="2.3" fill="#DCDCDC" stroke="#969696" stroke-width="0.55"/>
<circle cx="362.7" cy="385.1" r="2.3" fill="#DCDCDC" stroke="#969696" stroke-width="0.55"/>
<circle cx="371.7" cy="382.1" r="2.3" fill="#DCDCDC" stroke="#969696" stroke-width="0.55"/>
<circle cx="354.9" cy="385.6" r="2.3" fill="#DCDCDC" stroke="#969696" stroke-width="0.55"/>
<circle cx="365.4" cy="382.5" r="2.3" fill="#DCDCDC" stroke="#969696" stroke-width="0.55"/>
<circle cx="366.2" cy="398.4" r="2.3" fill="#DCDCDC" stroke="#969696" stroke-width="0.55"/>
<circle cx="380.9" cy="409.2" r="2.3" fill="#DCDCDC" stroke="#969696" stroke-width="0.55"/>
<circle cx="356.1" cy="385.3" r="2.3" fill="#DCDCDC" stroke="#969696" stroke-width="0.55"/>
<circle cx="357.3" cy="394.2" r="2.3" fill="#d2d2d2" stroke="#8a8a8a" stroke-width="0.6"/>
<circle cx="373.1" cy="386.7" r="2.3" fill="#d2d2d2" stroke="#8a8a8a" stroke-width="0.6"/>
<circle cx="356.5" cy="390.4" r="2.3" fill="#d2d2d2" stroke="#8a8a8a" stroke-width="0.6"/>
<circle cx="369.4" cy="400.2" r="2.3" fill="#d2d2d2" stroke="#8a8a8a" stroke-width="0.6"/>
<circle cx="357.3" cy="380.1" r="2.3" fill="#d2d2d2" stroke="#8a8a8a" stroke-width="0.6"/>
<circle cx="371.0" cy="395.0" r="2.3" fill="#d2d2d2" stroke="#8a8a8a" stroke-width="0.6"/>
<circle cx="377.0" cy="399.3" r="2.3" fill="#d2d2d2" stroke="#8a8a8a" stroke-width="0.6"/>
<circle cx="365.3" cy="388.7" r="2.3" fill="#d2d2d2" stroke="#8a8a8a" stroke-width="0.6"/>
<circle cx="360.4" cy="381.4" r="2.3" fill="#d2d2d2" stroke="#8a8a8a" stroke-width="0.6"/>
<circle cx="366.7" cy="392.2" r="2.3" fill="#d2d2d2" stroke="#8a8a8a" stroke-width="0.6"/>
<circle cx="363.5" cy="390.5" r="2.3" fill="#d2d2d2" stroke="#8a8a8a" stroke-width="0.6"/>
<circle cx="367.9" cy="396.8" r="2.3" fill="#d2d2d2" stroke="#8a8a8a" stroke-width="0.6"/>
<circle cx="373.8" cy="392.8" r="2.3" fill="#d2d2d2" stroke="#8a8a8a" stroke-width="0.6"/>
<circle cx="353.2" cy="396.9" r="2.3" fill="#d2d2d2" stroke="#8a8a8a" stroke-width="0.6"/>
<circle cx="355.9" cy="389.6" r="2.3" fill="#d2d2d2" stroke="#8a8a8a" stroke-width="0.6"/>
<circle cx="355.5" cy="391.0" r="2.3" fill="#d2d2d2" stroke="#8a8a8a" stroke-width="0.6"/>
<circle cx="360.4" cy="392.8" r="2.3" fill="#d2d2d2" stroke="#8a8a8a" stroke-width="0.6"/>
<circle cx="372.0" cy="379.9" r="2.3" fill="#d2d2d2" stroke="#8a8a8a" stroke-width="0.6"/>
<circle cx="363.9" cy="396.6" r="2.3" fill="#d2d2d2" stroke="#8a8a8a" stroke-width="0.6"/>
<circle cx="365.3" cy="394.1" r="2.3" fill="#d2d2d2" stroke="#8a8a8a" stroke-width="0.6"/>
<circle cx="366.7" cy="382.5" r="2.3" fill="#d2d2d2" stroke="#8a8a8a" stroke-width="0.6"/>
<circle cx="370.0" cy="384.2" r="2.3" fill="#d2d2d2" stroke="#8a8a8a" stroke-width="0.6"/>
<circle cx="379.4" cy="386.8" r="2.3" fill="#d2d2d2" stroke="#8a8a8a" stroke-width="0.6"/>
<circle cx="370.9" cy="391.0" r="2.3" fill="#d2d2d2" stroke="#8a8a8a" stroke-width="0.6"/>
<circle cx="372.8" cy="385.9" r="2.3" fill="#d2d2d2" stroke="#8a8a8a" stroke-width="0.6"/>
<circle cx="373.1" cy="390.0" r="2.3" fill="#d2d2d2" stroke="#8a8a8a" stroke-width="0.6"/>
<circle cx="375.0" cy="396.2" r="2.3" fill="#d2d2d2" stroke="#8a8a8a" stroke-width="0.6"/>
<circle cx="367.0" cy="384.4" r="2.3" fill="#d2d2d2" stroke="#8a8a8a" stroke-width="0.6"/>
<circle cx="371.5" cy="394.9" r="2.3" fill="#d2d2d2" stroke="#8a8a8a" stroke-width="0.6"/>
<circle cx="377.7" cy="387.8" r="2.3" fill="#d2d2d2" stroke="#8a8a8a" stroke-width="0.6"/>
<circle cx="370.0" cy="395.3" r="2.3" fill="#d2d2d2" stroke="#8a8a8a" stroke-width="0.6"/>
<circle cx="368.0" cy="392.8" r="2.3" fill="#d2d2d2" stroke="#8a8a8a" stroke-width="0.6"/>
<circle cx="367.3" cy="386.0" r="2.3" fill="#d2d2d2" stroke="#8a8a8a" stroke-width="0.6"/>
<circle cx="358.8" cy="387.7" r="2.3" fill="#d2d2d2" stroke="#8a8a8a" stroke-width="0.6"/>
<circle cx="370.2" cy="403.7" r="2.3" fill="#d2d2d2" stroke="#8a8a8a" stroke-width="0.6"/>
<circle cx="373.0" cy="399.8" r="2.3" fill="#d2d2d2" stroke="#8a8a8a" stroke-width="0.6"/>
<circle cx="371.5" cy="396.9" r="2.3" fill="#d2d2d2" stroke="#8a8a8a" stroke-width="0.6"/>
<circle cx="367.3" cy="397.5" r="2.3" fill="#d2d2d2" stroke="#8a8a8a" stroke-width="0.6"/>
<circle cx="378.7" cy="388.2" r="2.3" fill="#d2d2d2" stroke="#8a8a8a" stroke-width="0.6"/>
<circle cx="361.0" cy="407.5" r="2.3" fill="#d2d2d2" stroke="#8a8a8a" stroke-width="0.6"/>
<circle cx="367.7" cy="399.2" r="2.3" fill="#d2d2d2" stroke="#8a8a8a" stroke-width="0.6"/>
<circle cx="372.2" cy="381.5" r="2.3" fill="#d2d2d2" stroke="#8a8a8a" stroke-width="0.6"/>
<circle cx="367.3" cy="397.3" r="2.3" fill="#d2d2d2" stroke="#8a8a8a" stroke-width="0.6"/>
<circle cx="366.9" cy="383.6" r="2.3" fill="#d2d2d2" stroke="#8a8a8a" stroke-width="0.6"/>
<circle cx="365.2" cy="394.1" r="2.3" fill="#d2d2d2" stroke="#8a8a8a" stroke-width="0.6"/>
<circle cx="374.0" cy="397.0" r="2.3" fill="#d2d2d2" stroke="#8a8a8a" stroke-width="0.6"/>
<circle cx="366.4" cy="402.4" r="2.3" fill="#d2d2d2" stroke="#8a8a8a" stroke-width="0.6"/>
<circle cx="360.6" cy="397.7" r="2.3" fill="#d2d2d2" stroke="#8a8a8a" stroke-width="0.6"/>
<circle cx="373.9" cy="388.5" r="2.3" fill="#d2d2d2" stroke="#8a8a8a" stroke-width="0.6"/>
<circle cx="353.2" cy="383.4" r="2.3" fill="#d2d2d2" stroke="#8a8a8a" stroke-width="0.6"/>
<circle cx="367.7" cy="395.4" r="2.3" fill="#d2d2d2" stroke="#8a8a8a" stroke-width="0.6"/>
<circle cx="377.1" cy="382.6" r="2.3" fill="#d2d2d2" stroke="#8a8a8a" stroke-width="0.6"/>
<circle cx="366.0" cy="396.4" r="2.3" fill="#d2d2d2" stroke="#8a8a8a" stroke-width="0.6"/>
<circle cx="364.9" cy="371.1" r="2.3" fill="#d2d2d2" stroke="#8a8a8a" stroke-width="0.6"/>
<circle cx="373.2" cy="383.3" r="2.3" fill="#d2d2d2" stroke="#8a8a8a" stroke-width="0.6"/>
<circle cx="363.1" cy="392.9" r="2.3" fill="#d2d2d2" stroke="#8a8a8a" stroke-width="0.6"/>
<circle cx="366.8" cy="404.1" r="2.3" fill="#d2d2d2" stroke="#8a8a8a" stroke-width="0.6"/>
<circle cx="365.4" cy="406.6" r="2.3" fill="#d2d2d2" stroke="#8a8a8a" stroke-width="0.6"/>
<circle cx="361.1" cy="387.0" r="2.3" fill="#d2d2d2" stroke="#8a8a8a" stroke-width="0.6"/>
<circle cx="371.1" cy="403.0" r="2.3" fill="#d2d2d2" stroke="#8a8a8a" stroke-width="0.6"/>
<circle cx="370.7" cy="393.5" r="2.3" fill="#d2d2d2" stroke="#8a8a8a" stroke-width="0.6"/>
<circle cx="353.0" cy="385.0" r="2.3" fill="#d2d2d2" stroke="#8a8a8a" stroke-width="0.6"/>
<circle cx="361.6" cy="386.5" r="2.3" fill="#d2d2d2" stroke="#8a8a8a" stroke-width="0.6"/>
<circle cx="370.2" cy="388.2" r="2.3" fill="#d2d2d2" stroke="#8a8a8a" stroke-width="0.6"/>
<circle cx="371.6" cy="391.7" r="2.3" fill="#d2d2d2" stroke="#8a8a8a" stroke-width="0.6"/>
<circle cx="363.6" cy="392.0" r="2.3" fill="#d2d2d2" stroke="#8a8a8a" stroke-width="0.6"/>
<circle cx="369.1" cy="398.2" r="2.3" fill="#d2d2d2" stroke="#8a8a8a" stroke-width="0.6"/>
<circle cx="362.6" cy="389.0" r="2.3" fill="#d2d2d2" stroke="#8a8a8a" stroke-width="0.6"/>
<circle cx="356.3" cy="404.5" r="2.3" fill="#d2d2d2" stroke="#8a8a8a" stroke-width="0.6"/>
<circle cx="376.4" cy="389.5" r="2.3" fill="#d2d2d2" stroke="#8a8a8a" stroke-width="0.6"/>
<circle cx="362.6" cy="380.6" r="2.3" fill="#d2d2d2" stroke="#8a8a8a" stroke-width="0.6"/>
<circle cx="367.2" cy="392.7" r="2.3" fill="#d2d2d2" stroke="#8a8a8a" stroke-width="0.6"/>
<circle cx="381.6" cy="393.1" r="2.3" fill="#d2d2d2" stroke="#8a8a8a" stroke-width="0.6"/>
<circle cx="376.1" cy="392.6" r="2.3" fill="#d2d2d2" stroke="#8a8a8a" stroke-width="0.6"/>
<circle cx="354.5" cy="392.5" r="2.3" fill="#d2d2d2" stroke="#8a8a8a" stroke-width="0.6"/>
<circle cx="374.0" cy="395.8" r="2.3" fill="#d2d2d2" stroke="#8a8a8a" stroke-width="0.6"/>
<circle cx="364.7" cy="373.0" r="2.3" fill="#d2d2d2" stroke="#8a8a8a" stroke-width="0.6"/>
<circle cx="365.1" cy="377.9" r="2.3" fill="#d2d2d2" stroke="#8a8a8a" stroke-width="0.6"/>
<circle cx="370.3" cy="373.0" r="2.3" fill="#d2d2d2" stroke="#8a8a8a" stroke-width="0.6"/>
<circle cx="359.5" cy="401.2" r="2.3" fill="#d2d2d2" stroke="#8a8a8a" stroke-width="0.6"/>
<circle cx="377.7" cy="381.1" r="2.3" fill="#d2d2d2" stroke="#8a8a8a" stroke-width="0.6"/>
<circle cx="355.0" cy="398.4" r="2.3" fill="#d2d2d2" stroke="#8a8a8a" stroke-width="0.6"/>
<circle cx="372.1" cy="382.7" r="2.3" fill="#d2d2d2" stroke="#8a8a8a" stroke-width="0.6"/>
<circle cx="361.0" cy="385.2" r="2.3" fill="#d2d2d2" stroke="#8a8a8a" stroke-width="0.6"/>
<circle cx="357.5" cy="385.3" r="2.3" fill="#d2d2d2" stroke="#8a8a8a" stroke-width="0.6"/>
<circle cx="374.9" cy="396.8" r="2.3" fill="#d2d2d2" stroke="#8a8a8a" stroke-width="0.6"/>
<circle cx="380.7" cy="390.3" r="2.3" fill="#d2d2d2" stroke="#8a8a8a" stroke-width="0.6"/>
<circle cx="365.0" cy="382.7" r="2.3" fill="#d2d2d2" stroke="#8a8a8a" stroke-width="0.6"/>
<circle cx="365.1" cy="380.0" r="2.3" fill="#d2d2d2" stroke="#8a8a8a" stroke-width="0.6"/>
<circle cx="353.3" cy="396.9" r="2.3" fill="#d2d2d2" stroke="#8a8a8a" stroke-width="0.6"/>
<circle cx="376.3" cy="398.0" r="2.3" fill="#d2d2d2" stroke="#8a8a8a" stroke-width="0.6"/>
<circle cx="375.5" cy="393.1" r="2.3" fill="#d2d2d2" stroke="#8a8a8a" stroke-width="0.6"/>
<circle cx="360.9" cy="391.7" r="2.3" fill="#d2d2d2" stroke="#8a8a8a" stroke-width="0.6"/>
<circle cx="363.3" cy="381.7" r="2.3" fill="#d2d2d2" stroke="#8a8a8a" stroke-width="0.6"/>
<circle cx="353.9" cy="378.5" r="2.3" fill="#d2d2d2" stroke="#8a8a8a" stroke-width="0.6"/>
<circle cx="366.0" cy="392.3" r="2.3" fill="#d2d2d2" stroke="#8a8a8a" stroke-width="0.6"/>
<circle cx="362.6" cy="403.0" r="2.3" fill="#d2d2d2" stroke="#8a8a8a" stroke-width="0.6"/>
<circle cx="367.3" cy="395.9" r="2.3" fill="#d2d2d2" stroke="#8a8a8a" stroke-width="0.6"/>
<circle cx="374.7" cy="384.1" r="2.3" fill="#d2d2d2" stroke="#8a8a8a" stroke-width="0.6"/>
<circle cx="351.9" cy="397.3" r="2.3" fill="#d2d2d2" stroke="#8a8a8a" stroke-width="0.6"/>
<circle cx="361.1" cy="402.0" r="2.3" fill="#d2d2d2" stroke="#8a8a8a" stroke-width="0.6"/>
<circle cx="368.4" cy="399.5" r="2.3" fill="#d2d2d2" stroke="#8a8a8a" stroke-width="0.6"/>
<circle cx="371.5" cy="373.5" r="2.3" fill="#d2d2d2" stroke="#8a8a8a" stroke-width="0.6"/>
<circle cx="371.1" cy="385.3" r="2.3" fill="#d2d2d2" stroke="#8a8a8a" stroke-width="0.6"/>
<circle cx="360.6" cy="387.3" r="2.3" fill="#d2d2d2" stroke="#8a8a8a" stroke-width="0.6"/>
<circle cx="371.5" cy="398.4" r="2.3" fill="#d2d2d2" stroke="#8a8a8a" stroke-width="0.6"/>
<circle cx="373.2" cy="377.1" r="2.3" fill="#d2d2d2" stroke="#8a8a8a" stroke-width="0.6"/>
<circle cx="365.3" cy="396.0" r="2.3" fill="#d2d2d2" stroke="#8a8a8a" stroke-width="0.6"/>
<circle cx="360.5" cy="393.1" r="2.3" fill="#d2d2d2" stroke="#8a8a8a" stroke-width="0.6"/>
<circle cx="367.7" cy="399.5" r="2.3" fill="#d2d2d2" stroke="#8a8a8a" stroke-width="0.6"/>
<circle cx="360.1" cy="384.0" r="2.3" fill="#d2d2d2" stroke="#8a8a8a" stroke-width="0.6"/>
<circle cx="360.6" cy="405.7" r="2.3" fill="#d2d2d2" stroke="#8a8a8a" stroke-width="0.6"/>
<circle cx="373.8" cy="390.0" r="2.3" fill="#d2d2d2" stroke="#8a8a8a" stroke-width="0.6"/>
<circle cx="367.6" cy="392.0" r="2.3" fill="#d2d2d2" stroke="#8a8a8a" stroke-width="0.6"/>
<circle cx="367.4" cy="389.2" r="2.3" fill="#d2d2d2" stroke="#8a8a8a" stroke-width="0.6"/>
<circle cx="363.6" cy="380.4" r="2.3" fill="#d2d2d2" stroke="#8a8a8a" stroke-width="0.6"/>
<circle cx="361.4" cy="404.9" r="2.3" fill="#d2d2d2" stroke="#8a8a8a" stroke-width="0.6"/>
<circle cx="369.8" cy="391.5" r="2.3" fill="#d2d2d2" stroke="#8a8a8a" stroke-width="0.6"/>
<circle cx="364.5" cy="391.5" r="2.3" fill="#d2d2d2" stroke="#8a8a8a" stroke-width="0.6"/>
<circle cx="368.5" cy="385.6" r="2.3" fill="#d2d2d2" stroke="#8a8a8a" stroke-width="0.6"/>
<circle cx="367.4" cy="393.0" r="2.3" fill="#d2d2d2" stroke="#8a8a8a" stroke-width="0.6"/>
<circle cx="360.7" cy="384.4" r="2.3" fill="#d2d2d2" stroke="#8a8a8a" stroke-width="0.6"/>
<circle cx="358.9" cy="382.1" r="2.3" fill="#d2d2d2" stroke="#8a8a8a" stroke-width="0.6"/>
<circle cx="364.1" cy="385.9" r="2.3" fill="#d2d2d2" stroke="#8a8a8a" stroke-width="0.6"/>
<circle cx="361.6" cy="391.8" r="2.3" fill="#d2d2d2" stroke="#8a8a8a" stroke-width="0.6"/>
<circle cx="374.1" cy="391.6" r="2.3" fill="#d2d2d2" stroke="#8a8a8a" stroke-width="0.6"/>
<circle cx="365.0" cy="385.9" r="2.3" fill="#d2d2d2" stroke="#8a8a8a" stroke-width="0.6"/>
<circle cx="365.1" cy="398.7" r="2.3" fill="#d2d2d2" stroke="#8a8a8a" stroke-width="0.6"/>
<circle cx="363.2" cy="381.4" r="2.3" fill="#d2d2d2" stroke="#8a8a8a" stroke-width="0.6"/>
<circle cx="357.0" cy="381.7" r="2.3" fill="#d2d2d2" stroke="#8a8a8a" stroke-width="0.6"/>
<circle cx="356.1" cy="400.2" r="2.3" fill="#d2d2d2" stroke="#8a8a8a" stroke-width="0.6"/>
<circle cx="368.5" cy="389.0" r="2.3" fill="#d2d2d2" stroke="#8a8a8a" stroke-width="0.6"/>
<circle cx="376.4" cy="385.5" r="2.3" fill="#d2d2d2" stroke="#8a8a8a" stroke-width="0.6"/>
<circle cx="371.4" cy="397.7" r="2.3" fill="#d2d2d2" stroke="#8a8a8a" stroke-width="0.6"/>
<circle cx="355.0" cy="377.9" r="2.3" fill="#d2d2d2" stroke="#8a8a8a" stroke-width="0.6"/>
<circle cx="359.4" cy="398.6" r="2.3" fill="#d2d2d2" stroke="#8a8a8a" stroke-width="0.6"/>
<circle cx="375.3" cy="380.7" r="2.3" fill="#d2d2d2" stroke="#8a8a8a" stroke-width="0.6"/>
<circle cx="373.5" cy="387.8" r="2.3" fill="#d2d2d2" stroke="#8a8a8a" stroke-width="0.6"/>
<circle cx="363.2" cy="386.4" r="2.3" fill="#d2d2d2" stroke="#8a8a8a" stroke-width="0.6"/>
<circle cx="363.7" cy="375.7" r="2.3" fill="#d2d2d2" stroke="#8a8a8a" stroke-width="0.6"/>
<circle cx="358.9" cy="380.6" r="2.3" fill="#d2d2d2" stroke="#8a8a8a" stroke-width="0.6"/>
<circle cx="369.5" cy="408.5" r="2.3" fill="#d2d2d2" stroke="#8a8a8a" stroke-width="0.6"/>
<circle cx="353.7" cy="387.6" r="2.3" fill="#d2d2d2" stroke="#8a8a8a" stroke-width="0.6"/>
<circle cx="359.3" cy="407.7" r="2.3" fill="#d2d2d2" stroke="#8a8a8a" stroke-width="0.6"/>
<circle cx="370.1" cy="384.9" r="2.3" fill="#d2d2d2" stroke="#8a8a8a" stroke-width="0.6"/>
<circle cx="372.7" cy="395.5" r="2.3" fill="#d2d2d2" stroke="#8a8a8a" stroke-width="0.6"/>
<circle cx="354.4" cy="386.5" r="2.3" fill="#d2d2d2" stroke="#8a8a8a" stroke-width="0.6"/>
<circle cx="364.3" cy="391.2" r="2.3" fill="#d2d2d2" stroke="#8a8a8a" stroke-width="0.6"/>
<circle cx="366.9" cy="388.2" r="2.3" fill="#d2d2d2" stroke="#8a8a8a" stroke-width="0.6"/>
<circle cx="367.4" cy="386.1" r="2.3" fill="#d2d2d2" stroke="#8a8a8a" stroke-width="0.6"/>
<circle cx="359.6" cy="403.7" r="2.3" fill="#d2d2d2" stroke="#8a8a8a" stroke-width="0.6"/>
<circle cx="368.6" cy="394.7" r="2.3" fill="#d2d2d2" stroke="#8a8a8a" stroke-width="0.6"/>
<circle cx="354.6" cy="389.6" r="2.3" fill="#d2d2d2" stroke="#8a8a8a" stroke-width="0.6"/>
<circle cx="371.8" cy="380.2" r="2.3" fill="#d2d2d2" stroke="#8a8a8a" stroke-width="0.6"/>
<circle cx="373.8" cy="387.7" r="2.3" fill="#d2d2d2" stroke="#8a8a8a" stroke-width="0.6"/>
<circle cx="368.9" cy="389.9" r="2.3" fill="#d2d2d2" stroke="#8a8a8a" stroke-width="0.6"/>
<circle cx="367.6" cy="401.1" r="2.3" fill="#d2d2d2" stroke="#8a8a8a" stroke-width="0.6"/>
<circle cx="363.1" cy="404.1" r="2.3" fill="#d2d2d2" stroke="#8a8a8a" stroke-width="0.6"/>
<circle cx="360.4" cy="383.2" r="2.3" fill="#d2d2d2" stroke="#8a8a8a" stroke-width="0.6"/>
<circle cx="371.1" cy="382.0" r="2.3" fill="#d2d2d2" stroke="#8a8a8a" stroke-width="0.6"/>
<circle cx="363.4" cy="398.6" r="2.3" fill="#d2d2d2" stroke="#8a8a8a" stroke-width="0.6"/>
<circle cx="374.6" cy="376.1" r="2.3" fill="#d2d2d2" stroke="#8a8a8a" stroke-width="0.6"/>
<circle cx="369.6" cy="406.8" r="2.3" fill="#d2d2d2" stroke="#8a8a8a" stroke-width="0.6"/>
<circle cx="374.5" cy="389.0" r="2.3" fill="#d2d2d2" stroke="#8a8a8a" stroke-width="0.6"/>
<circle cx="361.7" cy="388.5" r="2.3" fill="#d2d2d2" stroke="#8a8a8a" stroke-width="0.6"/>
<circle cx="357.8" cy="388.8" r="2.3" fill="#d2d2d2" stroke="#8a8a8a" stroke-width="0.6"/>
<circle cx="364.7" cy="389.8" r="2.3" fill="#d2d2d2" stroke="#8a8a8a" stroke-width="0.6"/>
<circle cx="374.4" cy="389.1" r="2.3" fill="#d2d2d2" stroke="#8a8a8a" stroke-width="0.6"/>
<circle cx="355.6" cy="399.8" r="2.3" fill="#d2d2d2" stroke="#8a8a8a" stroke-width="0.6"/>
<circle cx="358.3" cy="387.2" r="2.3" fill="#d2d2d2" stroke="#8a8a8a" stroke-width="0.6"/>
<circle cx="365.0" cy="388.1" r="2.3" fill="#d2d2d2" stroke="#8a8a8a" stroke-width="0.6"/>
<circle cx="358.8" cy="388.9" r="2.3" fill="#d2d2d2" stroke="#8a8a8a" stroke-width="0.6"/>
<circle cx="381.6" cy="385.9" r="2.3" fill="#d2d2d2" stroke="#8a8a8a" stroke-width="0.6"/>
<circle cx="365.0" cy="400.4" r="2.3" fill="#d2d2d2" stroke="#8a8a8a" stroke-width="0.6"/>
<circle cx="371.3" cy="397.4" r="2.3" fill="#d2d2d2" stroke="#8a8a8a" stroke-width="0.6"/>
<circle cx="372.2" cy="374.5" r="2.3" fill="#d2d2d2" stroke="#8a8a8a" stroke-width="0.6"/>
<circle cx="359.8" cy="392.1" r="2.3" fill="#d2d2d2" stroke="#8a8a8a" stroke-width="0.6"/>
<circle cx="369.6" cy="401.9" r="2.3" fill="#d2d2d2" stroke="#8a8a8a" stroke-width="0.6"/>
<circle cx="369.4" cy="389.0" r="2.3" fill="#d2d2d2" stroke="#8a8a8a" stroke-width="0.6"/>
<circle cx="366.3" cy="389.2" r="2.3" fill="#d2d2d2" stroke="#8a8a8a" stroke-width="0.6"/>
<circle cx="367.8" cy="396.7" r="2.3" fill="#d2d2d2" stroke="#8a8a8a" stroke-width="0.6"/>
<circle cx="363.6" cy="384.2" r="2.3" fill="#d2d2d2" stroke="#8a8a8a" stroke-width="0.6"/>
<circle cx="359.9" cy="400.2" r="2.3" fill="#d2d2d2" stroke="#8a8a8a" stroke-width="0.6"/>
<circle cx="375.1" cy="399.3" r="2.3" fill="#d2d2d2" stroke="#8a8a8a" stroke-width="0.6"/>
<circle cx="372.1" cy="398.0" r="2.3" fill="#d2d2d2" stroke="#8a8a8a" stroke-width="0.6"/>
<circle cx="366.0" cy="396.6" r="2.3" fill="#d2d2d2" stroke="#8a8a8a" stroke-width="0.6"/>
<circle cx="358.5" cy="389.3" r="2.3" fill="#d2d2d2" stroke="#8a8a8a" stroke-width="0.6"/>
<circle cx="360.8" cy="397.1" r="2.3" fill="#d2d2d2" stroke="#8a8a8a" stroke-width="0.6"/>
<circle cx="361.9" cy="390.1" r="2.3" fill="#d2d2d2" stroke="#8a8a8a" stroke-width="0.6"/>
<circle cx="368.9" cy="402.4" r="2.3" fill="#d2d2d2" stroke="#8a8a8a" stroke-width="0.6"/>
<circle cx="360.3" cy="383.1" r="2.3" fill="#d2d2d2" stroke="#8a8a8a" stroke-width="0.6"/>
<circle cx="371.8" cy="381.7" r="2.3" fill="#d2d2d2" stroke="#8a8a8a" stroke-width="0.6"/>
<circle cx="369.2" cy="386.2" r="2.3" fill="#d2d2d2" stroke="#8a8a8a" stroke-width="0.6"/>
<circle cx="365.2" cy="375.7" r="2.3" fill="#d2d2d2" stroke="#8a8a8a" stroke-width="0.6"/>
<circle cx="371.1" cy="386.8" r="2.3" fill="#d2d2d2" stroke="#8a8a8a" stroke-width="0.6"/>
<circle cx="359.6" cy="408.4" r="2.3" fill="#d2d2d2" stroke="#8a8a8a" stroke-width="0.6"/>
<circle cx="368.9" cy="388.1" r="2.3" fill="#d2d2d2" stroke="#8a8a8a" stroke-width="0.6"/>
<circle cx="366.8" cy="404.5" r="2.3" fill="#d2d2d2" stroke="#8a8a8a" stroke-width="0.6"/>
<circle cx="365.8" cy="394.8" r="2.3" fill="#d2d2d2" stroke="#8a8a8a" stroke-width="0.6"/>
<circle cx="369.7" cy="383.4" r="2.3" fill="#d2d2d2" stroke="#8a8a8a" stroke-width="0.6"/>
<circle cx="366.9" cy="386.8" r="2.3" fill="#d2d2d2" stroke="#8a8a8a" stroke-width="0.6"/>
<circle cx="357.1" cy="398.3" r="2.3" fill="#d2d2d2" stroke="#8a8a8a" stroke-width="0.6"/>
<circle cx="370.8" cy="391.6" r="2.3" fill="#d2d2d2" stroke="#8a8a8a" stroke-width="0.6"/>
<circle cx="359.5" cy="374.2" r="2.3" fill="#d2d2d2" stroke="#8a8a8a" stroke-width="0.6"/>
<circle cx="369.5" cy="390.2" r="2.3" fill="#d2d2d2" stroke="#8a8a8a" stroke-width="0.6"/>
<circle cx="354.0" cy="390.5" r="2.3" fill="#d2d2d2" stroke="#8a8a8a" stroke-width="0.6"/>
<circle cx="355.1" cy="390.8" r="2.3" fill="#d2d2d2" stroke="#8a8a8a" stroke-width="0.6"/>
<circle cx="367.0" cy="394.0" r="2.3" fill="#d2d2d2" stroke="#8a8a8a" stroke-width="0.6"/>
<circle cx="367.5" cy="392.4" r="2.3" fill="#d2d2d2" stroke="#8a8a8a" stroke-width="0.6"/>
<circle cx="357.9" cy="387.8" r="2.3" fill="#d2d2d2" stroke="#8a8a8a" stroke-width="0.6"/>
<circle cx="362.3" cy="389.0" r="2.3" fill="#d2d2d2" stroke="#8a8a8a" stroke-width="0.6"/>
<circle cx="367.9" cy="396.2" r="2.3" fill="#d2d2d2" stroke="#8a8a8a" stroke-width="0.6"/>
<circle cx="368.9" cy="389.3" r="2.3" fill="#d2d2d2" stroke="#8a8a8a" stroke-width="0.6"/>
<circle cx="354.2" cy="394.4" r="2.3" fill="#d2d2d2" stroke="#8a8a8a" stroke-width="0.6"/>
<circle cx="362.3" cy="399.3" r="2.3" fill="#d2d2d2" stroke="#8a8a8a" stroke-width="0.6"/>
<circle cx="358.5" cy="390.1" r="2.3" fill="#d2d2d2" stroke="#8a8a8a" stroke-width="0.6"/>
<circle cx="365.1" cy="390.2" r="2.3" fill="#d2d2d2" stroke="#8a8a8a" stroke-width="0.6"/>
<circle cx="361.8" cy="375.6" r="2.3" fill="#d2d2d2" stroke="#8a8a8a" stroke-width="0.6"/>
<circle cx="369.3" cy="399.4" r="2.3" fill="#d2d2d2" stroke="#8a8a8a" stroke-width="0.6"/>
<circle cx="365.5" cy="382.5" r="2.3" fill="#d2d2d2" stroke="#8a8a8a" stroke-width="0.6"/>
<circle cx="367.4" cy="395.7" r="2.3" fill="#d2d2d2" stroke="#8a8a8a" stroke-width="0.6"/>
<circle cx="364.7" cy="390.9" r="2.3" fill="#d2d2d2" stroke="#8a8a8a" stroke-width="0.6"/>
<circle cx="376.1" cy="381.6" r="2.3" fill="#d2d2d2" stroke="#8a8a8a" stroke-width="0.6"/>
<circle cx="362.0" cy="375.0" r="2.3" fill="#d2d2d2" stroke="#8a8a8a" stroke-width="0.6"/>
<circle cx="361.0" cy="384.8" r="2.3" fill="#d2d2d2" stroke="#8a8a8a" stroke-width="0.6"/>
<circle cx="359.1" cy="385.2" r="2.3" fill="#d2d2d2" stroke="#8a8a8a" stroke-width="0.6"/>
<circle cx="378.8" cy="389.4" r="2.3" fill="#d2d2d2" stroke="#8a8a8a" stroke-width="0.6"/>
<circle cx="365.2" cy="409.5" r="2.3" fill="#d2d2d2" stroke="#8a8a8a" stroke-width="0.6"/>
<circle cx="365.6" cy="376.4" r="2.3" fill="#d2d2d2" stroke="#8a8a8a" stroke-width="0.6"/>
<circle cx="368.9" cy="383.1" r="2.3" fill="#d2d2d2" stroke="#8a8a8a" stroke-width="0.6"/>
<circle cx="377.7" cy="380.5" r="2.3" fill="#d2d2d2" stroke="#8a8a8a" stroke-width="0.6"/>
<circle cx="361.9" cy="377.5" r="2.3" fill="#d2d2d2" stroke="#8a8a8a" stroke-width="0.6"/>
<circle cx="366.7" cy="382.5" r="2.3" fill="#d2d2d2" stroke="#8a8a8a" stroke-width="0.6"/>
<circle cx="365.5" cy="387.8" r="2.3" fill="#d2d2d2" stroke="#8a8a8a" stroke-width="0.6"/>
<circle cx="361.6" cy="398.9" r="2.3" fill="#d2d2d2" stroke="#8a8a8a" stroke-width="0.6"/>
<circle cx="372.7" cy="391.5" r="2.3" fill="#d2d2d2" stroke="#8a8a8a" stroke-width="0.6"/>
<circle cx="359.6" cy="382.0" r="2.3" fill="#d2d2d2" stroke="#8a8a8a" stroke-width="0.6"/>
<circle cx="362.7" cy="384.4" r="2.3" fill="#d2d2d2" stroke="#8a8a8a" stroke-width="0.6"/>
<circle cx="361.0" cy="381.8" r="2.3" fill="#d2d2d2" stroke="#8a8a8a" stroke-width="0.6"/>
<circle cx="359.1" cy="389.3" r="2.3" fill="#d2d2d2" stroke="#8a8a8a" stroke-width="0.6"/>
<circle cx="376.2" cy="391.0" r="2.3" fill="#d2d2d2" stroke="#8a8a8a" stroke-width="0.6"/>
<circle cx="362.4" cy="377.4" r="2.3" fill="#d2d2d2" stroke="#8a8a8a" stroke-width="0.6"/>
<circle cx="367.5" cy="390.8" r="2.3" fill="#d2d2d2" stroke="#8a8a8a" stroke-width="0.6"/>
<circle cx="357.2" cy="381.9" r="2.3" fill="#d2d2d2" stroke="#8a8a8a" stroke-width="0.6"/>
<circle cx="365.7" cy="399.5" r="2.3" fill="#d2d2d2" stroke="#8a8a8a" stroke-width="0.6"/>
<circle cx="370.5" cy="392.7" r="2.3" fill="#d2d2d2" stroke="#8a8a8a" stroke-width="0.6"/>
<circle cx="363.7" cy="393.7" r="2.3" fill="#d2d2d2" stroke="#8a8a8a" stroke-width="0.6"/>
<circle cx="365.9" cy="409.3" r="2.3" fill="#d2d2d2" stroke="#8a8a8a" stroke-width="0.6"/>
<circle cx="357.9" cy="387.9" r="2.3" fill="#d2d2d2" stroke="#8a8a8a" stroke-width="0.6"/>
<circle cx="375.1" cy="388.8" r="2.3" fill="#d2d2d2" stroke="#8a8a8a" stroke-width="0.6"/>
<circle cx="376.2" cy="390.6" r="2.3" fill="#d2d2d2" stroke="#8a8a8a" stroke-width="0.6"/>
<circle cx="367.0" cy="387.9" r="2.3" fill="#d2d2d2" stroke="#8a8a8a" stroke-width="0.6"/>
<circle cx="356.1" cy="382.8" r="2.3" fill="#d2d2d2" stroke="#8a8a8a" stroke-width="0.6"/>
<circle cx="381.8" cy="396.4" r="2.3" fill="#d2d2d2" stroke="#8a8a8a" stroke-width="0.6"/>
<circle cx="370.3" cy="399.0" r="2.3" fill="#d2d2d2" stroke="#8a8a8a" stroke-width="0.6"/>
<circle cx="370.1" cy="399.6" r="2.3" fill="#d2d2d2" stroke="#8a8a8a" stroke-width="0.6"/>
<circle cx="364.1" cy="389.1" r="2.3" fill="#d2d2d2" stroke="#8a8a8a" stroke-width="0.6"/>
<circle cx="373.0" cy="388.0" r="2.3" fill="#d2d2d2" stroke="#8a8a8a" stroke-width="0.6"/>
<circle cx="356.5" cy="389.1" r="2.3" fill="#d2d2d2" stroke="#8a8a8a" stroke-width="0.6"/>
<circle cx="362.1" cy="396.2" r="2.3" fill="#d2d2d2" stroke="#8a8a8a" stroke-width="0.6"/>
<circle cx="360.9" cy="382.1" r="2.3" fill="#d2d2d2" stroke="#8a8a8a" stroke-width="0.6"/>
<circle cx="363.6" cy="404.0" r="2.3" fill="#d2d2d2" stroke="#8a8a8a" stroke-width="0.6"/>
<circle cx="365.7" cy="392.4" r="2.3" fill="#d2d2d2" stroke="#8a8a8a" stroke-width="0.6"/>
<circle cx="366.1" cy="393.5" r="2.3" fill="#d2d2d2" stroke="#8a8a8a" stroke-width="0.6"/>
<circle cx="372.6" cy="402.7" r="2.3" fill="#d2d2d2" stroke="#8a8a8a" stroke-width="0.6"/>
<circle cx="354.3" cy="402.4" r="2.3" fill="#d2d2d2" stroke="#8a8a8a" stroke-width="0.6"/>
<circle cx="366.0" cy="388.3" r="2.3" fill="#d2d2d2" stroke="#8a8a8a" stroke-width="0.6"/>
<circle cx="379.9" cy="399.1" r="2.3" fill="#d2d2d2" stroke="#8a8a8a" stroke-width="0.6"/>
<circle cx="358.6" cy="395.1" r="2.3" fill="#d2d2d2" stroke="#8a8a8a" stroke-width="0.6"/>
<circle cx="371.3" cy="389.9" r="2.3" fill="#d2d2d2" stroke="#8a8a8a" stroke-width="0.6"/>
<circle cx="349.4" cy="388.1" r="2.3" fill="#d2d2d2" stroke="#8a8a8a" stroke-width="0.6"/>
<circle cx="364.6" cy="381.7" r="2.3" fill="#d2d2d2" stroke="#8a8a8a" stroke-width="0.6"/>
<circle cx="379.0" cy="388.9" r="2.3" fill="#d2d2d2" stroke="#8a8a8a" stroke-width="0.6"/>
<circle cx="363.2" cy="388.5" r="2.3" fill="#d2d2d2" stroke="#8a8a8a" stroke-width="0.6"/>
<circle cx="360.4" cy="384.5" r="2.3" fill="#d2d2d2" stroke="#8a8a8a" stroke-width="0.6"/>
<circle cx="366.7" cy="393.6" r="2.3" fill="#d2d2d2" stroke="#8a8a8a" stroke-width="0.6"/>
<circle cx="362.4" cy="390.2" r="2.3" fill="#d2d2d2" stroke="#8a8a8a" stroke-width="0.6"/>
<circle cx="356.1" cy="395.4" r="2.3" fill="#d2d2d2" stroke="#8a8a8a" stroke-width="0.6"/>
<circle cx="360.6" cy="392.8" r="2.3" fill="#d2d2d2" stroke="#8a8a8a" stroke-width="0.6"/>
<circle cx="359.5" cy="386.7" r="2.3" fill="#d2d2d2" stroke="#8a8a8a" stroke-width="0.6"/>
<circle cx="367.5" cy="380.8" r="2.3" fill="#d2d2d2" stroke="#8a8a8a" stroke-width="0.6"/>
<circle cx="365.5" cy="384.8" r="2.3" fill="#d2d2d2" stroke="#8a8a8a" stroke-width="0.6"/>
<circle cx="377.4" cy="402.6" r="2.3" fill="#d2d2d2" stroke="#8a8a8a" stroke-width="0.6"/>
<circle cx="368.1" cy="379.5" r="2.3" fill="#d2d2d2" stroke="#8a8a8a" stroke-width="0.6"/>
<circle cx="362.4" cy="396.2" r="2.3" fill="#d2d2d2" stroke="#8a8a8a" stroke-width="0.6"/>
<circle cx="362.3" cy="381.1" r="2.3" fill="#d2d2d2" stroke="#8a8a8a" stroke-width="0.6"/>
<circle cx="357.5" cy="384.5" r="2.3" fill="#d2d2d2" stroke="#8a8a8a" stroke-width="0.6"/>
<circle cx="366.1" cy="385.6" r="2.3" fill="#d2d2d2" stroke="#8a8a8a" stroke-width="0.6"/>
<circle cx="378.7" cy="382.3" r="2.3" fill="#d2d2d2" stroke="#8a8a8a" stroke-width="0.6"/>
<circle cx="368.5" cy="391.7" r="2.3" fill="#d2d2d2" stroke="#8a8a8a" stroke-width="0.6"/>
<circle cx="365.0" cy="399.8" r="2.3" fill="#d2d2d2" stroke="#8a8a8a" stroke-width="0.6"/>
<circle cx="363.6" cy="388.3" r="2.3" fill="#d2d2d2" stroke="#8a8a8a" stroke-width="0.6"/>
<circle cx="363.3" cy="390.2" r="2.3" fill="#d2d2d2" stroke="#8a8a8a" stroke-width="0.6"/>
<circle cx="375.2" cy="397.5" r="2.3" fill="#d2d2d2" stroke="#8a8a8a" stroke-width="0.6"/>
<circle cx="356.4" cy="387.3" r="2.3" fill="#d2d2d2" stroke="#8a8a8a" stroke-width="0.6"/>
<circle cx="360.3" cy="397.9" r="2.3" fill="#d2d2d2" stroke="#8a8a8a" stroke-width="0.6"/>
<circle cx="367.6" cy="398.5" r="2.3" fill="#d2d2d2" stroke="#8a8a8a" stroke-width="0.6"/>
<circle cx="365.6" cy="375.0" r="2.3" fill="#d2d2d2" stroke="#8a8a8a" stroke-width="0.6"/>
<circle cx="369.2" cy="392.9" r="2.3" fill="#d2d2d2" stroke="#8a8a8a" stroke-width="0.6"/>
<circle cx="369.6" cy="380.1" r="2.3" fill="#d2d2d2" stroke="#8a8a8a" stroke-width="0.6"/>
<circle cx="366.6" cy="385.2" r="2.3" fill="#d2d2d2" stroke="#8a8a8a" stroke-width="0.6"/>
<circle cx="361.1" cy="394.0" r="2.3" fill="#d2d2d2" stroke="#8a8a8a" stroke-width="0.6"/>
<circle cx="368.5" cy="383.5" r="2.3" fill="#d2d2d2" stroke="#8a8a8a" stroke-width="0.6"/>
<circle cx="361.9" cy="400.4" r="2.3" fill="#d2d2d2" stroke="#8a8a8a" stroke-width="0.6"/>
<circle cx="365.6" cy="372.1" r="2.3" fill="#d2d2d2" stroke="#8a8a8a" stroke-width="0.6"/>
<circle cx="359.8" cy="394.5" r="2.3" fill="#d2d2d2" stroke="#8a8a8a" stroke-width="0.6"/>
<circle cx="377.9" cy="400.8" r="2.3" fill="#d2d2d2" stroke="#8a8a8a" stroke-width="0.6"/>
<circle cx="368.6" cy="392.7" r="2.3" fill="#d2d2d2" stroke="#8a8a8a" stroke-width="0.6"/>
<circle cx="358.4" cy="387.2" r="2.3" fill="#d2d2d2" stroke="#8a8a8a" stroke-width="0.6"/>
<circle cx="363.6" cy="384.5" r="2.3" fill="#d2d2d2" stroke="#8a8a8a" stroke-width="0.6"/>
<circle cx="366.5" cy="387.7" r="2.3" fill="#d2d2d2" stroke="#8a8a8a" stroke-width="0.6"/>
<circle cx="368.4" cy="403.0" r="2.3" fill="#d2d2d2" stroke="#8a8a8a" stroke-width="0.6"/>
<circle cx="371.3" cy="394.5" r="2.3" fill="#d2d2d2" stroke="#8a8a8a" stroke-width="0.6"/>
<circle cx="364.3" cy="378.2" r="2.3" fill="#d2d2d2" stroke="#8a8a8a" stroke-width="0.6"/>
<circle cx="365.2" cy="395.6" r="2.3" fill="#d2d2d2" stroke="#8a8a8a" stroke-width="0.6"/>
<circle cx="358.8" cy="401.5" r="2.3" fill="#d2d2d2" stroke="#8a8a8a" stroke-width="0.6"/>
<circle cx="363.6" cy="394.1" r="2.3" fill="#d2d2d2" stroke="#8a8a8a" stroke-width="0.6"/>
<circle cx="363.7" cy="380.5" r="2.3" fill="#d2d2d2" stroke="#8a8a8a" stroke-width="0.6"/>
<circle cx="380.8" cy="381.2" r="2.3" fill="#d2d2d2" stroke="#8a8a8a" stroke-width="0.6"/>
<circle cx="372.6" cy="386.3" r="2.3" fill="#d2d2d2" stroke="#8a8a8a" stroke-width="0.6"/>
<circle cx="368.0" cy="384.2" r="2.3" fill="#d2d2d2" stroke="#8a8a8a" stroke-width="0.6"/>
<circle cx="363.0" cy="398.7" r="2.3" fill="#d2d2d2" stroke="#8a8a8a" stroke-width="0.6"/>
<circle cx="379.9" cy="383.9" r="2.3" fill="#d2d2d2" stroke="#8a8a8a" stroke-width="0.6"/>
<circle cx="366.1" cy="399.0" r="2.3" fill="#d2d2d2" stroke="#8a8a8a" stroke-width="0.6"/>
<circle cx="361.5" cy="397.0" r="2.3" fill="#d2d2d2" stroke="#8a8a8a" stroke-width="0.6"/>
<circle cx="360.4" cy="396.1" r="2.3" fill="#d2d2d2" stroke="#8a8a8a" stroke-width="0.6"/>
<circle cx="369.1" cy="401.2" r="2.3" fill="#d2d2d2" stroke="#8a8a8a" stroke-width="0.6"/>
<circle cx="368.6" cy="381.0" r="2.3" fill="#d2d2d2" stroke="#8a8a8a" stroke-width="0.6"/>
<circle cx="370.7" cy="381.7" r="2.3" fill="#d2d2d2" stroke="#8a8a8a" stroke-width="0.6"/>
<circle cx="371.4" cy="403.7" r="2.3" fill="#d2d2d2" stroke="#8a8a8a" stroke-width="0.6"/>
<circle cx="370.3" cy="386.4" r="2.3" fill="#d2d2d2" stroke="#8a8a8a" stroke-width="0.6"/>
<circle cx="374.5" cy="392.4" r="2.3" fill="#d2d2d2" stroke="#8a8a8a" stroke-width="0.6"/>
<circle cx="357.1" cy="388.0" r="2.3" fill="#d2d2d2" stroke="#8a8a8a" stroke-width="0.6"/>
<circle cx="376.1" cy="388.4" r="2.3" fill="#d2d2d2" stroke="#8a8a8a" stroke-width="0.6"/>
<circle cx="366.9" cy="388.1" r="2.3" fill="#d2d2d2" stroke="#8a8a8a" stroke-width="0.6"/>
<circle cx="354.0" cy="386.7" r="2.3" fill="#d2d2d2" stroke="#8a8a8a" stroke-width="0.6"/>
<circle cx="368.5" cy="392.7" r="2.3" fill="#d2d2d2" stroke="#8a8a8a" stroke-width="0.6"/>
<circle cx="364.8" cy="373.1" r="2.3" fill="#d2d2d2" stroke="#8a8a8a" stroke-width="0.6"/>
<circle cx="374.7" cy="397.0" r="2.3" fill="#d2d2d2" stroke="#8a8a8a" stroke-width="0.6"/>
<circle cx="373.3" cy="401.9" r="2.3" fill="#d2d2d2" stroke="#8a8a8a" stroke-width="0.6"/>
<circle cx="362.8" cy="385.9" r="2.3" fill="#d2d2d2" stroke="#8a8a8a" stroke-width="0.6"/>
<circle cx="368.2" cy="405.1" r="2.3" fill="#d2d2d2" stroke="#8a8a8a" stroke-width="0.6"/>
<circle cx="354.0" cy="389.1" r="2.3" fill="#d2d2d2" stroke="#8a8a8a" stroke-width="0.6"/>
<circle cx="360.9" cy="395.7" r="2.3" fill="#d2d2d2" stroke="#8a8a8a" stroke-width="0.6"/>
<circle cx="376.5" cy="388.5" r="2.3" fill="#d2d2d2" stroke="#8a8a8a" stroke-width="0.6"/>
<circle cx="357.1" cy="391.4" r="2.3" fill="#d2d2d2" stroke="#8a8a8a" stroke-width="0.6"/>
<circle cx="364.0" cy="378.0" r="2.3" fill="#d2d2d2" stroke="#8a8a8a" stroke-width="0.6"/>
<circle cx="372.3" cy="386.6" r="2.3" fill="#d2d2d2" stroke="#8a8a8a" stroke-width="0.6"/>
<circle cx="370.9" cy="379.9" r="2.3" fill="#d2d2d2" stroke="#8a8a8a" stroke-width="0.6"/>
<circle cx="373.8" cy="378.9" r="2.3" fill="#d2d2d2" stroke="#8a8a8a" stroke-width="0.6"/>
<circle cx="373.5" cy="375.8" r="2.3" fill="#d2d2d2" stroke="#8a8a8a" stroke-width="0.6"/>
<circle cx="375.9" cy="387.9" r="2.3" fill="#d2d2d2" stroke="#8a8a8a" stroke-width="0.6"/>
<circle cx="354.9" cy="389.0" r="2.3" fill="#d2d2d2" stroke="#8a8a8a" stroke-width="0.6"/>
<circle cx="368.4" cy="382.7" r="2.3" fill="#d2d2d2" stroke="#8a8a8a" stroke-width="0.6"/>
<circle cx="362.5" cy="393.3" r="2.3" fill="#d2d2d2" stroke="#8a8a8a" stroke-width="0.6"/>
<circle cx="362.9" cy="394.6" r="2.3" fill="#d2d2d2" stroke="#8a8a8a" stroke-width="0.6"/>
<circle cx="368.1" cy="399.5" r="2.3" fill="#d2d2d2" stroke="#8a8a8a" stroke-width="0.6"/>
<circle cx="371.7" cy="393.6" r="2.3" fill="#d2d2d2" stroke="#8a8a8a" stroke-width="0.6"/>
<circle cx="373.7" cy="399.0" r="2.3" fill="#d2d2d2" stroke="#8a8a8a" stroke-width="0.6"/>
<circle cx="366.7" cy="385.8" r="2.3" fill="#d2d2d2" stroke="#8a8a8a" stroke-width="0.6"/>
<circle cx="373.3" cy="394.6" r="2.3" fill="#d2d2d2" stroke="#8a8a8a" stroke-width="0.6"/>
<circle cx="352.5" cy="381.7" r="2.3" fill="#d2d2d2" stroke="#8a8a8a" stroke-width="0.6"/>
<circle cx="369.3" cy="391.9" r="2.3" fill="#d2d2d2" stroke="#8a8a8a" stroke-width="0.6"/>
<circle cx="368.0" cy="396.4" r="2.3" fill="#d2d2d2" stroke="#8a8a8a" stroke-width="0.6"/>
<circle cx="367.0" cy="404.3" r="2.3" fill="#d2d2d2" stroke="#8a8a8a" stroke-width="0.6"/>
<circle cx="361.8" cy="387.6" r="2.3" fill="#d2d2d2" stroke="#8a8a8a" stroke-width="0.6"/>
<circle cx="368.3" cy="397.3" r="2.3" fill="#d2d2d2" stroke="#8a8a8a" stroke-width="0.6"/>
<circle cx="371.6" cy="403.5" r="2.3" fill="#d2d2d2" stroke="#8a8a8a" stroke-width="0.6"/>
<circle cx="362.6" cy="400.8" r="2.3" fill="#d2d2d2" stroke="#8a8a8a" stroke-width="0.6"/>
<circle cx="369.3" cy="382.2" r="2.3" fill="#d2d2d2" stroke="#8a8a8a" stroke-width="0.6"/>
<circle cx="365.0" cy="408.5" r="2.3" fill="#d2d2d2" stroke="#8a8a8a" stroke-width="0.6"/>
<circle cx="371.6" cy="387.1" r="2.3" fill="#d2d2d2" stroke="#8a8a8a" stroke-width="0.6"/>
<circle cx="361.0" cy="391.6" r="2.3" fill="#d2d2d2" stroke="#8a8a8a" stroke-width="0.6"/>
<circle cx="368.2" cy="383.1" r="2.3" fill="#d2d2d2" stroke="#8a8a8a" stroke-width="0.6"/>
<circle cx="357.5" cy="389.3" r="2.3" fill="#d2d2d2" stroke="#8a8a8a" stroke-width="0.6"/>
<circle cx="363.1" cy="385.8" r="2.3" fill="#d2d2d2" stroke="#8a8a8a" stroke-width="0.6"/>
<circle cx="374.1" cy="391.6" r="2.3" fill="#d2d2d2" stroke="#8a8a8a" stroke-width="0.6"/>
<circle cx="357.2" cy="401.8" r="2.3" fill="#d2d2d2" stroke="#8a8a8a" stroke-width="0.6"/>
<circle cx="363.8" cy="379.8" r="2.3" fill="#d2d2d2" stroke="#8a8a8a" stroke-width="0.6"/>
<circle cx="368.3" cy="395.1" r="2.3" fill="#d2d2d2" stroke="#8a8a8a" stroke-width="0.6"/>
<circle cx="363.6" cy="396.9" r="2.3" fill="#d2d2d2" stroke="#8a8a8a" stroke-width="0.6"/>
<circle cx="371.9" cy="383.6" r="2.3" fill="#d2d2d2" stroke="#8a8a8a" stroke-width="0.6"/>
<circle cx="365.1" cy="401.3" r="2.3" fill="#d2d2d2" stroke="#8a8a8a" stroke-width="0.6"/>
<circle cx="373.2" cy="402.7" r="2.3" fill="#d2d2d2" stroke="#8a8a8a" stroke-width="0.6"/>
<circle cx="379.3" cy="391.1" r="2.3" fill="#d2d2d2" stroke="#8a8a8a" stroke-width="0.6"/>
<circle cx="373.5" cy="378.2" r="2.3" fill="#d2d2d2" stroke="#8a8a8a" stroke-width="0.6"/>
<circle cx="370.9" cy="394.3" r="2.3" fill="#d2d2d2" stroke="#8a8a8a" stroke-width="0.6"/>
<circle cx="365.3" cy="387.3" r="2.3" fill="#d2d2d2" stroke="#8a8a8a" stroke-width="0.6"/>
<circle cx="358.0" cy="392.2" r="2.3" fill="#d2d2d2" stroke="#8a8a8a" stroke-width="0.6"/>
<circle cx="375.1" cy="387.9" r="2.3" fill="#d2d2d2" stroke="#8a8a8a" stroke-width="0.6"/>
<circle cx="369.8" cy="385.4" r="2.3" fill="#d2d2d2" stroke="#8a8a8a" stroke-width="0.6"/>
<circle cx="367.8" cy="382.5" r="2.3" fill="#d2d2d2" stroke="#8a8a8a" stroke-width="0.6"/>
<circle cx="368.7" cy="389.2" r="2.3" fill="#d2d2d2" stroke="#8a8a8a" stroke-width="0.6"/>
<circle cx="368.3" cy="385.9" r="2.3" fill="#d2d2d2" stroke="#8a8a8a" stroke-width="0.6"/>
<circle cx="357.6" cy="388.2" r="2.3" fill="#d2d2d2" stroke="#8a8a8a" stroke-width="0.6"/>
<circle cx="373.4" cy="404.3" r="2.3" fill="#d2d2d2" stroke="#8a8a8a" stroke-width="0.6"/>
<circle cx="363.7" cy="397.7" r="2.3" fill="#d2d2d2" stroke="#8a8a8a" stroke-width="0.6"/>
<circle cx="371.4" cy="394.3" r="2.3" fill="#d2d2d2" stroke="#8a8a8a" stroke-width="0.6"/>
<circle cx="354.9" cy="393.7" r="2.3" fill="#d2d2d2" stroke="#8a8a8a" stroke-width="0.6"/>
<circle cx="359.1" cy="400.9" r="2.3" fill="#d2d2d2" stroke="#8a8a8a" stroke-width="0.6"/>
<circle cx="371.6" cy="396.2" r="2.3" fill="#d2d2d2" stroke="#8a8a8a" stroke-width="0.6"/>
<circle cx="371.0" cy="380.3" r="2.3" fill="#d2d2d2" stroke="#8a8a8a" stroke-width="0.6"/>
<circle cx="372.9" cy="391.6" r="2.3" fill="#d2d2d2" stroke="#8a8a8a" stroke-width="0.6"/>
<circle cx="364.7" cy="385.0" r="2.3" fill="#d2d2d2" stroke="#8a8a8a" stroke-width="0.6"/>
<circle cx="358.7" cy="387.4" r="2.3" fill="#d2d2d2" stroke="#8a8a8a" stroke-width="0.6"/>
<circle cx="367.5" cy="385.6" r="2.3" fill="#d2d2d2" stroke="#8a8a8a" stroke-width="0.6"/>
<circle cx="361.6" cy="386.4" r="2.3" fill="#d2d2d2" stroke="#8a8a8a" stroke-width="0.6"/>
<circle cx="359.7" cy="398.4" r="2.3" fill="#d2d2d2" stroke="#8a8a8a" stroke-width="0.6"/>
<circle cx="364.1" cy="398.3" r="2.3" fill="#d2d2d2" stroke="#8a8a8a" stroke-width="0.6"/>
<circle cx="357.8" cy="398.8" r="2.3" fill="#d2d2d2" stroke="#8a8a8a" stroke-width="0.6"/>
<circle cx="365.8" cy="396.6" r="2.3" fill="#d2d2d2" stroke="#8a8a8a" stroke-width="0.6"/>
<circle cx="365.3" cy="383.5" r="2.3" fill="#d2d2d2" stroke="#8a8a8a" stroke-width="0.6"/>
<circle cx="374.6" cy="387.3" r="2.3" fill="#d2d2d2" stroke="#8a8a8a" stroke-width="0.6"/>
<circle cx="364.9" cy="383.6" r="2.3" fill="#d2d2d2" stroke="#8a8a8a" stroke-width="0.6"/>
<circle cx="367.5" cy="387.7" r="2.3" fill="#d2d2d2" stroke="#8a8a8a" stroke-width="0.6"/>
<circle cx="368.0" cy="393.9" r="2.3" fill="#d2d2d2" stroke="#8a8a8a" stroke-width="0.6"/>
<circle cx="361.1" cy="379.2" r="2.3" fill="#d2d2d2" stroke="#8a8a8a" stroke-width="0.6"/>
<circle cx="369.1" cy="398.7" r="2.3" fill="#d2d2d2" stroke="#8a8a8a" stroke-width="0.6"/>
<circle cx="371.0" cy="381.4" r="2.3" fill="#d2d2d2" stroke="#8a8a8a" stroke-width="0.6"/>
<circle cx="370.3" cy="394.2" r="2.3" fill="#d2d2d2" stroke="#8a8a8a" stroke-width="0.6"/>
<circle cx="368.0" cy="394.6" r="2.3" fill="#d2d2d2" stroke="#8a8a8a" stroke-width="0.6"/>
<circle cx="363.7" cy="392.8" r="2.3" fill="#d2d2d2" stroke="#8a8a8a" stroke-width="0.6"/>
<circle cx="372.6" cy="386.8" r="2.3" fill="#d2d2d2" stroke="#8a8a8a" stroke-width="0.6"/>
<circle cx="355.7" cy="390.1" r="2.3" fill="#d2d2d2" stroke="#8a8a8a" stroke-width="0.6"/>
<circle cx="367.4" cy="375.5" r="2.3" fill="#d2d2d2" stroke="#8a8a8a" stroke-width="0.6"/>
<circle cx="361.2" cy="396.0" r="2.3" fill="#d2d2d2" stroke="#8a8a8a" stroke-width="0.6"/>
<circle cx="364.9" cy="391.8" r="2.3" fill="#d2d2d2" stroke="#8a8a8a" stroke-width="0.6"/>
<circle cx="357.0" cy="398.6" r="2.3" fill="#d2d2d2" stroke="#8a8a8a" stroke-width="0.6"/>
<circle cx="378.5" cy="389.3" r="2.3" fill="#d2d2d2" stroke="#8a8a8a" stroke-width="0.6"/>
<circle cx="360.8" cy="381.3" r="2.3" fill="#d2d2d2" stroke="#8a8a8a" stroke-width="0.6"/>
<circle cx="372.4" cy="391.9" r="2.3" fill="#d2d2d2" stroke="#8a8a8a" stroke-width="0.6"/>
<circle cx="360.3" cy="401.2" r="2.3" fill="#d2d2d2" stroke="#8a8a8a" stroke-width="0.6"/>
<circle cx="371.5" cy="396.1" r="2.3" fill="#d2d2d2" stroke="#8a8a8a" stroke-width="0.6"/>
<circle cx="353.4" cy="390.1" r="2.3" fill="#d2d2d2" stroke="#8a8a8a" stroke-width="0.6"/>
<circle cx="370.5" cy="380.7" r="2.3" fill="#d2d2d2" stroke="#8a8a8a" stroke-width="0.6"/>
<circle cx="372.6" cy="403.0" r="2.3" fill="#d2d2d2" stroke="#8a8a8a" stroke-width="0.6"/>
<circle cx="373.4" cy="384.9" r="2.3" fill="#d2d2d2" stroke="#8a8a8a" stroke-width="0.6"/>
<circle cx="360.9" cy="398.9" r="2.3" fill="#d2d2d2" stroke="#8a8a8a" stroke-width="0.6"/>
<circle cx="373.1" cy="401.3" r="2.3" fill="#d2d2d2" stroke="#8a8a8a" stroke-width="0.6"/>
<circle cx="374.6" cy="390.2" r="2.3" fill="#d2d2d2" stroke="#8a8a8a" stroke-width="0.6"/>
<circle cx="363.1" cy="375.4" r="2.3" fill="#d2d2d2" stroke="#8a8a8a" stroke-width="0.6"/>
<circle cx="362.7" cy="387.0" r="2.3" fill="#d2d2d2" stroke="#8a8a8a" stroke-width="0.6"/>
<circle cx="370.6" cy="394.1" r="2.3" fill="#d2d2d2" stroke="#8a8a8a" stroke-width="0.6"/>
<circle cx="356.2" cy="385.0" r="2.3" fill="#d2d2d2" stroke="#8a8a8a" stroke-width="0.6"/>
<circle cx="358.2" cy="408.0" r="2.3" fill="#d2d2d2" stroke="#8a8a8a" stroke-width="0.6"/>
<circle cx="360.9" cy="398.2" r="2.3" fill="#d2d2d2" stroke="#8a8a8a" stroke-width="0.6"/>
<circle cx="376.2" cy="404.7" r="2.3" fill="#d2d2d2" stroke="#8a8a8a" stroke-width="0.6"/>
<circle cx="357.2" cy="388.1" r="2.3" fill="#d2d2d2" stroke="#8a8a8a" stroke-width="0.6"/>
<circle cx="360.8" cy="388.6" r="2.3" fill="#d2d2d2" stroke="#8a8a8a" stroke-width="0.6"/>
<circle cx="370.0" cy="380.6" r="2.3" fill="#d2d2d2" stroke="#8a8a8a" stroke-width="0.6"/>
<circle cx="360.1" cy="381.2" r="2.3" fill="#c9c9c9" stroke="#8a8a8a" stroke-width="0.6"/>
<circle cx="373.4" cy="390.4" r="2.3" fill="#c9c9c9" stroke="#8a8a8a" stroke-width="0.6"/>
<circle cx="374.9" cy="385.6" r="2.3" fill="#c9c9c9" stroke="#8a8a8a" stroke-width="0.6"/>
<circle cx="369.3" cy="387.1" r="2.3" fill="#c9c9c9" stroke="#8a8a8a" stroke-width="0.6"/>
<circle cx="362.7" cy="390.0" r="2.3" fill="#c9c9c9" stroke="#8a8a8a" stroke-width="0.6"/>
<circle cx="359.6" cy="386.6" r="2.3" fill="#c9c9c9" stroke="#8a8a8a" stroke-width="0.6"/>
<circle cx="371.1" cy="389.4" r="2.3" fill="#c9c9c9" stroke="#8a8a8a" stroke-width="0.6"/>
<circle cx="367.3" cy="385.0" r="2.3" fill="#c9c9c9" stroke="#8a8a8a" stroke-width="0.6"/>
<circle cx="367.9" cy="385.5" r="2.3" fill="#c9c9c9" stroke="#8a8a8a" stroke-width="0.6"/>
<circle cx="364.7" cy="386.6" r="2.3" fill="#c9c9c9" stroke="#8a8a8a" stroke-width="0.6"/>
<circle cx="378.8" cy="389.2" r="2.3" fill="#c9c9c9" stroke="#8a8a8a" stroke-width="0.6"/>
<circle cx="368.0" cy="393.6" r="2.3" fill="#c9c9c9" stroke="#8a8a8a" stroke-width="0.6"/>
<circle cx="378.8" cy="387.5" r="2.3" fill="#c9c9c9" stroke="#8a8a8a" stroke-width="0.6"/>
<circle cx="358.5" cy="386.5" r="2.3" fill="#c9c9c9" stroke="#8a8a8a" stroke-width="0.6"/>
<circle cx="370.9" cy="385.5" r="2.3" fill="#c9c9c9" stroke="#8a8a8a" stroke-width="0.6"/>
<circle cx="364.7" cy="392.1" r="2.3" fill="#c9c9c9" stroke="#8a8a8a" stroke-width="0.6"/>
<circle cx="368.3" cy="391.0" r="2.3" fill="#c9c9c9" stroke="#8a8a8a" stroke-width="0.6"/>
<circle cx="364.5" cy="397.7" r="2.3" fill="#c9c9c9" stroke="#8a8a8a" stroke-width="0.6"/>
<circle cx="375.8" cy="389.2" r="2.3" fill="#c9c9c9" stroke="#8a8a8a" stroke-width="0.6"/>
<circle cx="364.4" cy="394.0" r="2.3" fill="#c9c9c9" stroke="#8a8a8a" stroke-width="0.6"/>
<circle cx="369.8" cy="382.0" r="2.3" fill="#c9c9c9" stroke="#8a8a8a" stroke-width="0.6"/>
<circle cx="364.3" cy="396.1" r="2.3" fill="#c9c9c9" stroke="#8a8a8a" stroke-width="0.6"/>
<circle cx="366.4" cy="386.8" r="2.3" fill="#c9c9c9" stroke="#8a8a8a" stroke-width="0.6"/>
<circle cx="368.2" cy="388.8" r="2.3" fill="#c9c9c9" stroke="#8a8a8a" stroke-width="0.6"/>
<circle cx="367.0" cy="376.0" r="2.3" fill="#c9c9c9" stroke="#8a8a8a" stroke-width="0.6"/>
<circle cx="377.2" cy="390.3" r="2.3" fill="#c9c9c9" stroke="#8a8a8a" stroke-width="0.6"/>
<circle cx="361.9" cy="395.6" r="2.3" fill="#c9c9c9" stroke="#8a8a8a" stroke-width="0.6"/>
<circle cx="368.8" cy="389.1" r="2.3" fill="#c9c9c9" stroke="#8a8a8a" stroke-width="0.6"/>
<circle cx="370.2" cy="399.7" r="2.3" fill="#c9c9c9" stroke="#8a8a8a" stroke-width="0.6"/>
<circle cx="363.9" cy="394.2" r="2.3" fill="#c9c9c9" stroke="#8a8a8a" stroke-width="0.6"/>
<circle cx="357.0" cy="387.2" r="2.3" fill="#c9c9c9" stroke="#8a8a8a" stroke-width="0.6"/>
<circle cx="374.6" cy="396.0" r="2.3" fill="#c9c9c9" stroke="#8a8a8a" stroke-width="0.6"/>
<circle cx="370.4" cy="376.2" r="2.3" fill="#c9c9c9" stroke="#8a8a8a" stroke-width="0.6"/>
<circle cx="371.5" cy="392.3" r="2.3" fill="#c9c9c9" stroke="#8a8a8a" stroke-width="0.6"/>
<circle cx="362.1" cy="387.4" r="2.3" fill="#c9c9c9" stroke="#8a8a8a" stroke-width="0.6"/>
<circle cx="365.5" cy="392.9" r="2.3" fill="#c9c9c9" stroke="#8a8a8a" stroke-width="0.6"/>
<circle cx="369.9" cy="390.8" r="2.3" fill="#c9c9c9" stroke="#8a8a8a" stroke-width="0.6"/>
<circle cx="368.0" cy="390.8" r="2.3" fill="#c9c9c9" stroke="#8a8a8a" stroke-width="0.6"/>
<circle cx="374.2" cy="388.3" r="2.3" fill="#c9c9c9" stroke="#8a8a8a" stroke-width="0.6"/>
<circle cx="363.4" cy="391.8" r="2.3" fill="#c9c9c9" stroke="#8a8a8a" stroke-width="0.6"/>
<circle cx="357.9" cy="382.0" r="2.3" fill="#c9c9c9" stroke="#8a8a8a" stroke-width="0.6"/>
<circle cx="361.1" cy="390.9" r="2.3" fill="#c9c9c9" stroke="#8a8a8a" stroke-width="0.6"/>
<circle cx="373.7" cy="390.6" r="2.3" fill="#c9c9c9" stroke="#8a8a8a" stroke-width="0.6"/>
<circle cx="368.6" cy="386.0" r="2.3" fill="#c9c9c9" stroke="#8a8a8a" stroke-width="0.6"/>
<circle cx="360.0" cy="380.3" r="2.3" fill="#c9c9c9" stroke="#8a8a8a" stroke-width="0.6"/>
<circle cx="371.9" cy="393.5" r="2.3" fill="#c9c9c9" stroke="#8a8a8a" stroke-width="0.6"/>
<circle cx="373.7" cy="399.5" r="2.3" fill="#c9c9c9" stroke="#8a8a8a" stroke-width="0.6"/>
<circle cx="365.2" cy="396.1" r="2.3" fill="#c9c9c9" stroke="#8a8a8a" stroke-width="0.6"/>
<circle cx="378.4" cy="388.9" r="2.3" fill="#c9c9c9" stroke="#8a8a8a" stroke-width="0.6"/>
<circle cx="373.4" cy="387.9" r="2.3" fill="#c9c9c9" stroke="#8a8a8a" stroke-width="0.6"/>
<circle cx="357.6" cy="389.8" r="2.3" fill="#c9c9c9" stroke="#8a8a8a" stroke-width="0.6"/>
<circle cx="362.2" cy="389.7" r="2.3" fill="#c9c9c9" stroke="#8a8a8a" stroke-width="0.6"/>
<circle cx="364.3" cy="391.2" r="2.3" fill="#c9c9c9" stroke="#8a8a8a" stroke-width="0.6"/>
<circle cx="375.0" cy="386.6" r="2.3" fill="#c9c9c9" stroke="#8a8a8a" stroke-width="0.6"/>
<circle cx="361.7" cy="389.0" r="2.3" fill="#c9c9c9" stroke="#8a8a8a" stroke-width="0.6"/>
<circle cx="371.0" cy="391.9" r="2.3" fill="#c9c9c9" stroke="#8a8a8a" stroke-width="0.6"/>
<circle cx="369.3" cy="375.7" r="2.3" fill="#c9c9c9" stroke="#8a8a8a" stroke-width="0.6"/>
<circle cx="360.4" cy="398.1" r="2.3" fill="#c9c9c9" stroke="#8a8a8a" stroke-width="0.6"/>
<circle cx="368.4" cy="378.7" r="2.3" fill="#c9c9c9" stroke="#8a8a8a" stroke-width="0.6"/>
<circle cx="361.9" cy="379.2" r="2.3" fill="#c9c9c9" stroke="#8a8a8a" stroke-width="0.6"/>
<circle cx="361.0" cy="397.0" r="2.3" fill="#c9c9c9" stroke="#8a8a8a" stroke-width="0.6"/>
<circle cx="365.7" cy="396.6" r="2.3" fill="#c9c9c9" stroke="#8a8a8a" stroke-width="0.6"/>
<circle cx="368.1" cy="378.7" r="2.3" fill="#c9c9c9" stroke="#8a8a8a" stroke-width="0.6"/>
<circle cx="362.5" cy="381.8" r="2.3" fill="#c9c9c9" stroke="#8a8a8a" stroke-width="0.6"/>
<circle cx="374.3" cy="389.6" r="2.3" fill="#c9c9c9" stroke="#8a8a8a" stroke-width="0.6"/>
<circle cx="367.0" cy="399.1" r="2.3" fill="#c9c9c9" stroke="#8a8a8a" stroke-width="0.6"/>
<circle cx="356.5" cy="391.9" r="2.3" fill="#c9c9c9" stroke="#8a8a8a" stroke-width="0.6"/>
<circle cx="360.7" cy="379.4" r="2.3" fill="#c9c9c9" stroke="#8a8a8a" stroke-width="0.6"/>
<circle cx="362.1" cy="396.9" r="2.3" fill="#c9c9c9" stroke="#8a8a8a" stroke-width="0.6"/>
<circle cx="366.2" cy="376.4" r="2.3" fill="#c9c9c9" stroke="#8a8a8a" stroke-width="0.6"/>
<circle cx="360.4" cy="399.5" r="2.3" fill="#c9c9c9" stroke="#8a8a8a" stroke-width="0.6"/>
<circle cx="373.1" cy="381.5" r="2.3" fill="#c9c9c9" stroke="#8a8a8a" stroke-width="0.6"/>
<circle cx="359.9" cy="388.1" r="2.3" fill="#c9c9c9" stroke="#8a8a8a" stroke-width="0.6"/>
<circle cx="372.6" cy="400.1" r="2.3" fill="#c9c9c9" stroke="#8a8a8a" stroke-width="0.6"/>
<circle cx="373.2" cy="386.1" r="2.3" fill="#c9c9c9" stroke="#8a8a8a" stroke-width="0.6"/>
<circle cx="363.6" cy="379.0" r="2.3" fill="#c9c9c9" stroke="#8a8a8a" stroke-width="0.6"/>
<circle cx="366.6" cy="384.9" r="2.3" fill="#c9c9c9" stroke="#8a8a8a" stroke-width="0.6"/>
<circle cx="368.5" cy="380.3" r="2.3" fill="#c9c9c9" stroke="#8a8a8a" stroke-width="0.6"/>
<circle cx="363.9" cy="382.9" r="2.3" fill="#c9c9c9" stroke="#8a8a8a" stroke-width="0.6"/>
<circle cx="359.8" cy="380.8" r="2.3" fill="#c9c9c9" stroke="#8a8a8a" stroke-width="0.6"/>
<circle cx="360.9" cy="380.8" r="2.3" fill="#c9c9c9" stroke="#8a8a8a" stroke-width="0.6"/>
<circle cx="370.4" cy="389.7" r="2.3" fill="#c9c9c9" stroke="#8a8a8a" stroke-width="0.6"/>
<circle cx="359.1" cy="392.5" r="2.3" fill="#c9c9c9" stroke="#8a8a8a" stroke-width="0.6"/>
<circle cx="368.7" cy="399.1" r="2.3" fill="#c9c9c9" stroke="#8a8a8a" stroke-width="0.6"/>
<circle cx="365.8" cy="387.6" r="2.3" fill="#c9c9c9" stroke="#8a8a8a" stroke-width="0.6"/>
<circle cx="362.9" cy="389.9" r="2.3" fill="#c9c9c9" stroke="#8a8a8a" stroke-width="0.6"/>
<circle cx="370.0" cy="390.2" r="2.3" fill="#c9c9c9" stroke="#8a8a8a" stroke-width="0.6"/>
<circle cx="365.5" cy="392.9" r="2.3" fill="#c9c9c9" stroke="#8a8a8a" stroke-width="0.6"/>
<circle cx="367.5" cy="390.7" r="2.3" fill="#c9c9c9" stroke="#8a8a8a" stroke-width="0.6"/>
<circle cx="361.4" cy="390.4" r="2.3" fill="#c9c9c9" stroke="#8a8a8a" stroke-width="0.6"/>
<circle cx="361.0" cy="383.2" r="2.3" fill="#c9c9c9" stroke="#8a8a8a" stroke-width="0.6"/>
<circle cx="368.0" cy="403.5" r="2.3" fill="#c9c9c9" stroke="#8a8a8a" stroke-width="0.6"/>
<circle cx="373.0" cy="389.0" r="2.3" fill="#c9c9c9" stroke="#8a8a8a" stroke-width="0.6"/>
<circle cx="365.9" cy="395.8" r="2.3" fill="#c9c9c9" stroke="#8a8a8a" stroke-width="0.6"/>
<circle cx="375.3" cy="397.4" r="2.3" fill="#c9c9c9" stroke="#8a8a8a" stroke-width="0.6"/>
<circle cx="365.9" cy="390.3" r="2.3" fill="#c9c9c9" stroke="#8a8a8a" stroke-width="0.6"/>
<circle cx="365.0" cy="387.0" r="2.3" fill="#c9c9c9" stroke="#8a8a8a" stroke-width="0.6"/>
<circle cx="361.9" cy="387.3" r="2.3" fill="#c9c9c9" stroke="#8a8a8a" stroke-width="0.6"/>
<circle cx="369.5" cy="382.6" r="2.3" fill="#c9c9c9" stroke="#8a8a8a" stroke-width="0.6"/>
<circle cx="370.2" cy="380.1" r="2.3" fill="#c9c9c9" stroke="#8a8a8a" stroke-width="0.6"/>
<circle cx="364.8" cy="391.7" r="2.3" fill="#c9c9c9" stroke="#8a8a8a" stroke-width="0.6"/>
<circle cx="360.8" cy="384.1" r="2.3" fill="#c9c9c9" stroke="#8a8a8a" stroke-width="0.6"/>
<circle cx="362.8" cy="385.0" r="2.3" fill="#c9c9c9" stroke="#8a8a8a" stroke-width="0.6"/>
<circle cx="367.2" cy="388.8" r="2.3" fill="#c9c9c9" stroke="#8a8a8a" stroke-width="0.6"/>
<circle cx="372.9" cy="394.5" r="2.3" fill="#c9c9c9" stroke="#8a8a8a" stroke-width="0.6"/>
<circle cx="364.6" cy="386.5" r="2.3" fill="#c9c9c9" stroke="#8a8a8a" stroke-width="0.6"/>
<circle cx="358.5" cy="378.7" r="2.3" fill="#c9c9c9" stroke="#8a8a8a" stroke-width="0.6"/>
<circle cx="362.6" cy="394.0" r="2.3" fill="#c9c9c9" stroke="#8a8a8a" stroke-width="0.6"/>
<circle cx="367.7" cy="394.5" r="2.3" fill="#c9c9c9" stroke="#8a8a8a" stroke-width="0.6"/>
<circle cx="372.6" cy="387.9" r="2.3" fill="#c9c9c9" stroke="#8a8a8a" stroke-width="0.6"/>
<circle cx="379.6" cy="385.4" r="2.3" fill="#c9c9c9" stroke="#8a8a8a" stroke-width="0.6"/>
<circle cx="363.3" cy="386.0" r="2.3" fill="#c9c9c9" stroke="#8a8a8a" stroke-width="0.6"/>
<circle cx="373.8" cy="388.1" r="2.3" fill="#c9c9c9" stroke="#8a8a8a" stroke-width="0.6"/>
<circle cx="362.6" cy="392.0" r="2.3" fill="#c9c9c9" stroke="#8a8a8a" stroke-width="0.6"/>
<circle cx="373.8" cy="388.2" r="2.3" fill="#c9c9c9" stroke="#8a8a8a" stroke-width="0.6"/>
<circle cx="365.5" cy="396.5" r="2.3" fill="#c9c9c9" stroke="#8a8a8a" stroke-width="0.6"/>
<circle cx="372.9" cy="395.5" r="2.3" fill="#c9c9c9" stroke="#8a8a8a" stroke-width="0.6"/>
<circle cx="362.4" cy="391.0" r="2.3" fill="#c9c9c9" stroke="#8a8a8a" stroke-width="0.6"/>
<circle cx="369.2" cy="376.6" r="2.3" fill="#c9c9c9" stroke="#8a8a8a" stroke-width="0.6"/>
<circle cx="374.2" cy="389.7" r="2.3" fill="#c9c9c9" stroke="#8a8a8a" stroke-width="0.6"/>
<circle cx="367.9" cy="384.0" r="2.3" fill="#c9c9c9" stroke="#8a8a8a" stroke-width="0.6"/>
<circle cx="366.6" cy="392.9" r="2.3" fill="#c9c9c9" stroke="#8a8a8a" stroke-width="0.6"/>
<circle cx="371.9" cy="388.6" r="2.3" fill="#c9c9c9" stroke="#8a8a8a" stroke-width="0.6"/>
<circle cx="361.8" cy="384.2" r="2.3" fill="#c9c9c9" stroke="#8a8a8a" stroke-width="0.6"/>
<circle cx="362.1" cy="381.7" r="2.3" fill="#c9c9c9" stroke="#8a8a8a" stroke-width="0.6"/>
<circle cx="366.9" cy="385.6" r="2.3" fill="#c9c9c9" stroke="#8a8a8a" stroke-width="0.6"/>
<circle cx="367.3" cy="383.3" r="2.3" fill="#c9c9c9" stroke="#8a8a8a" stroke-width="0.6"/>
<circle cx="361.8" cy="387.7" r="2.3" fill="#c9c9c9" stroke="#8a8a8a" stroke-width="0.6"/>
<circle cx="364.9" cy="396.9" r="2.3" fill="#c9c9c9" stroke="#8a8a8a" stroke-width="0.6"/>
<circle cx="361.6" cy="390.4" r="2.3" fill="#c9c9c9" stroke="#8a8a8a" stroke-width="0.6"/>
<circle cx="366.8" cy="380.0" r="2.3" fill="#c9c9c9" stroke="#8a8a8a" stroke-width="0.6"/>
<circle cx="371.3" cy="390.2" r="2.3" fill="#c9c9c9" stroke="#8a8a8a" stroke-width="0.6"/>
<circle cx="372.6" cy="383.5" r="2.3" fill="#c9c9c9" stroke="#8a8a8a" stroke-width="0.6"/>
<circle cx="377.1" cy="390.1" r="2.3" fill="#c9c9c9" stroke="#8a8a8a" stroke-width="0.6"/>
<circle cx="360.1" cy="392.9" r="2.3" fill="#c9c9c9" stroke="#8a8a8a" stroke-width="0.6"/>
<circle cx="364.9" cy="379.8" r="2.3" fill="#c9c9c9" stroke="#8a8a8a" stroke-width="0.6"/>
<circle cx="354.2" cy="390.7" r="2.3" fill="#c9c9c9" stroke="#8a8a8a" stroke-width="0.6"/>
<circle cx="362.6" cy="393.4" r="2.3" fill="#c9c9c9" stroke="#8a8a8a" stroke-width="0.6"/>
<circle cx="369.3" cy="385.4" r="2.3" fill="#c9c9c9" stroke="#8a8a8a" stroke-width="0.6"/>
<circle cx="363.8" cy="401.2" r="2.3" fill="#c9c9c9" stroke="#8a8a8a" stroke-width="0.6"/>
<circle cx="377.2" cy="394.2" r="2.3" fill="#c9c9c9" stroke="#8a8a8a" stroke-width="0.6"/>
<circle cx="364.9" cy="382.2" r="2.3" fill="#c9c9c9" stroke="#8a8a8a" stroke-width="0.6"/>
<circle cx="364.7" cy="400.5" r="2.3" fill="#c9c9c9" stroke="#8a8a8a" stroke-width="0.6"/>
<circle cx="369.7" cy="387.0" r="2.3" fill="#c9c9c9" stroke="#8a8a8a" stroke-width="0.6"/>
<circle cx="359.7" cy="390.2" r="2.3" fill="#c9c9c9" stroke="#8a8a8a" stroke-width="0.6"/>
<circle cx="361.8" cy="389.1" r="2.3" fill="#c9c9c9" stroke="#8a8a8a" stroke-width="0.6"/>
<circle cx="371.4" cy="396.4" r="2.3" fill="#c9c9c9" stroke="#8a8a8a" stroke-width="0.6"/>
<circle cx="367.8" cy="386.6" r="2.3" fill="#c9c9c9" stroke="#8a8a8a" stroke-width="0.6"/>
<circle cx="368.4" cy="401.4" r="2.3" fill="#c9c9c9" stroke="#8a8a8a" stroke-width="0.6"/>
<circle cx="369.2" cy="379.4" r="2.3" fill="#c9c9c9" stroke="#8a8a8a" stroke-width="0.6"/>
<circle cx="376.2" cy="390.7" r="2.3" fill="#c9c9c9" stroke="#8a8a8a" stroke-width="0.6"/>
<circle cx="366.4" cy="387.0" r="2.3" fill="#c9c9c9" stroke="#8a8a8a" stroke-width="0.6"/>
<circle cx="369.3" cy="385.0" r="2.3" fill="#c9c9c9" stroke="#8a8a8a" stroke-width="0.6"/>
<circle cx="366.3" cy="385.5" r="2.3" fill="#c9c9c9" stroke="#8a8a8a" stroke-width="0.6"/>
<circle cx="371.7" cy="396.5" r="2.3" fill="#c9c9c9" stroke="#8a8a8a" stroke-width="0.6"/>
<circle cx="364.0" cy="391.1" r="2.3" fill="#c9c9c9" stroke="#8a8a8a" stroke-width="0.6"/>
<circle cx="365.7" cy="387.6" r="2.3" fill="#c9c9c9" stroke="#8a8a8a" stroke-width="0.6"/>
<circle cx="371.4" cy="393.1" r="2.3" fill="#c9c9c9" stroke="#8a8a8a" stroke-width="0.6"/>
<circle cx="368.8" cy="390.0" r="2.3" fill="#c9c9c9" stroke="#8a8a8a" stroke-width="0.6"/>
<circle cx="358.4" cy="383.9" r="2.3" fill="#c9c9c9" stroke="#8a8a8a" stroke-width="0.6"/>
<circle cx="369.3" cy="386.5" r="2.3" fill="#c9c9c9" stroke="#8a8a8a" stroke-width="0.6"/>
<circle cx="362.4" cy="391.4" r="2.3" fill="#c9c9c9" stroke="#8a8a8a" stroke-width="0.6"/>
<circle cx="361.5" cy="384.4" r="2.3" fill="#c9c9c9" stroke="#8a8a8a" stroke-width="0.6"/>
<circle cx="372.2" cy="386.5" r="2.3" fill="#c9c9c9" stroke="#8a8a8a" stroke-width="0.6"/>
<circle cx="375.5" cy="392.6" r="2.3" fill="#c9c9c9" stroke="#8a8a8a" stroke-width="0.6"/>
<circle cx="371.8" cy="396.8" r="2.3" fill="#c9c9c9" stroke="#8a8a8a" stroke-width="0.6"/>
<circle cx="354.2" cy="388.5" r="2.3" fill="#c9c9c9" stroke="#8a8a8a" stroke-width="0.6"/>
<circle cx="359.3" cy="385.8" r="2.3" fill="#c9c9c9" stroke="#8a8a8a" stroke-width="0.6"/>
<circle cx="366.4" cy="397.5" r="2.3" fill="#c9c9c9" stroke="#8a8a8a" stroke-width="0.6"/>
<circle cx="366.7" cy="400.2" r="2.3" fill="#c9c9c9" stroke="#8a8a8a" stroke-width="0.6"/>
<circle cx="363.9" cy="388.6" r="2.3" fill="#c9c9c9" stroke="#8a8a8a" stroke-width="0.6"/>
<circle cx="367.6" cy="395.5" r="2.3" fill="#c9c9c9" stroke="#8a8a8a" stroke-width="0.6"/>
<circle cx="366.7" cy="384.8" r="2.3" fill="#c9c9c9" stroke="#8a8a8a" stroke-width="0.6"/>
<circle cx="365.0" cy="379.4" r="2.3" fill="#c9c9c9" stroke="#8a8a8a" stroke-width="0.6"/>
<circle cx="374.5" cy="394.1" r="2.3" fill="#c9c9c9" stroke="#8a8a8a" stroke-width="0.6"/>
<circle cx="369.5" cy="390.9" r="2.3" fill="#c9c9c9" stroke="#8a8a8a" stroke-width="0.6"/>
<circle cx="363.4" cy="386.2" r="2.3" fill="#c9c9c9" stroke="#8a8a8a" stroke-width="0.6"/>
<circle cx="371.8" cy="383.6" r="2.3" fill="#c9c9c9" stroke="#8a8a8a" stroke-width="0.6"/>
<circle cx="362.4" cy="399.8" r="2.3" fill="#c9c9c9" stroke="#8a8a8a" stroke-width="0.6"/>
<circle cx="376.2" cy="391.0" r="2.3" fill="#c9c9c9" stroke="#8a8a8a" stroke-width="0.6"/>
<circle cx="370.2" cy="390.3" r="2.3" fill="#c9c9c9" stroke="#8a8a8a" stroke-width="0.6"/>
<circle cx="375.4" cy="386.0" r="2.3" fill="#c9c9c9" stroke="#8a8a8a" stroke-width="0.6"/>
<circle cx="367.5" cy="392.3" r="2.3" fill="#c9c9c9" stroke="#8a8a8a" stroke-width="0.6"/>
<circle cx="375.5" cy="387.3" r="2.3" fill="#c9c9c9" stroke="#8a8a8a" stroke-width="0.6"/>
<circle cx="368.4" cy="385.7" r="2.3" fill="#c9c9c9" stroke="#8a8a8a" stroke-width="0.6"/>
<circle cx="363.1" cy="384.5" r="2.3" fill="#c9c9c9" stroke="#8a8a8a" stroke-width="0.6"/>
<circle cx="367.5" cy="395.1" r="2.3" fill="#c9c9c9" stroke="#8a8a8a" stroke-width="0.6"/>
<circle cx="362.9" cy="384.9" r="2.3" fill="#c9c9c9" stroke="#8a8a8a" stroke-width="0.6"/>
<circle cx="364.6" cy="391.4" r="2.3" fill="#c9c9c9" stroke="#8a8a8a" stroke-width="0.6"/>
<circle cx="371.1" cy="380.5" r="2.3" fill="#c9c9c9" stroke="#8a8a8a" stroke-width="0.6"/>
<circle cx="369.1" cy="382.2" r="2.3" fill="#c9c9c9" stroke="#8a8a8a" stroke-width="0.6"/>
<circle cx="371.2" cy="382.5" r="2.3" fill="#c9c9c9" stroke="#8a8a8a" stroke-width="0.6"/>
<circle cx="360.6" cy="384.2" r="2.3" fill="#c9c9c9" stroke="#8a8a8a" stroke-width="0.6"/>
<circle cx="366.6" cy="382.2" r="2.3" fill="#c9c9c9" stroke="#8a8a8a" stroke-width="0.6"/>
<circle cx="368.2" cy="390.0" r="2.3" fill="#c9c9c9" stroke="#8a8a8a" stroke-width="0.6"/>
<circle cx="367.5" cy="390.8" r="2.3" fill="#c9c9c9" stroke="#8a8a8a" stroke-width="0.6"/>
<circle cx="372.1" cy="384.0" r="2.3" fill="#c9c9c9" stroke="#8a8a8a" stroke-width="0.6"/>
<circle cx="367.0" cy="388.8" r="2.3" fill="#c9c9c9" stroke="#8a8a8a" stroke-width="0.6"/>
<circle cx="354.9" cy="391.6" r="2.3" fill="#c9c9c9" stroke="#8a8a8a" stroke-width="0.6"/>
<circle cx="362.5" cy="384.1" r="2.3" fill="#c9c9c9" stroke="#8a8a8a" stroke-width="0.6"/>
<circle cx="364.4" cy="389.7" r="2.3" fill="#c9c9c9" stroke="#8a8a8a" stroke-width="0.6"/>
<circle cx="368.9" cy="392.3" r="2.3" fill="#c9c9c9" stroke="#8a8a8a" stroke-width="0.6"/>
<circle cx="362.9" cy="393.7" r="2.3" fill="#c9c9c9" stroke="#8a8a8a" stroke-width="0.6"/>
<circle cx="369.5" cy="386.4" r="2.3" fill="#c9c9c9" stroke="#8a8a8a" stroke-width="0.6"/>
<circle cx="366.9" cy="394.4" r="2.3" fill="#c9c9c9" stroke="#8a8a8a" stroke-width="0.6"/>
<circle cx="369.5" cy="393.7" r="2.3" fill="#c9c9c9" stroke="#8a8a8a" stroke-width="0.6"/>
<circle cx="367.6" cy="396.7" r="2.3" fill="#c9c9c9" stroke="#8a8a8a" stroke-width="0.6"/>
<circle cx="363.7" cy="379.7" r="2.3" fill="#c9c9c9" stroke="#8a8a8a" stroke-width="0.6"/>
<circle cx="373.4" cy="395.8" r="2.3" fill="#c9c9c9" stroke="#8a8a8a" stroke-width="0.6"/>
<circle cx="364.8" cy="398.8" r="2.3" fill="#c9c9c9" stroke="#8a8a8a" stroke-width="0.6"/>
<circle cx="366.5" cy="385.0" r="2.3" fill="#c9c9c9" stroke="#8a8a8a" stroke-width="0.6"/>
<circle cx="367.4" cy="390.4" r="2.3" fill="#c9c9c9" stroke="#8a8a8a" stroke-width="0.6"/>
<circle cx="367.3" cy="391.7" r="2.3" fill="#c9c9c9" stroke="#8a8a8a" stroke-width="0.6"/>
<circle cx="363.7" cy="393.4" r="2.3" fill="#c9c9c9" stroke="#8a8a8a" stroke-width="0.6"/>
<circle cx="362.3" cy="390.1" r="2.3" fill="#c9c9c9" stroke="#8a8a8a" stroke-width="0.6"/>
<circle cx="366.0" cy="378.3" r="2.3" fill="#c9c9c9" stroke="#8a8a8a" stroke-width="0.6"/>
<circle cx="369.2" cy="393.3" r="2.3" fill="#c9c9c9" stroke="#8a8a8a" stroke-width="0.6"/>
<circle cx="363.2" cy="383.3" r="2.3" fill="#c9c9c9" stroke="#8a8a8a" stroke-width="0.6"/>
<circle cx="367.6" cy="388.9" r="2.3" fill="#c9c9c9" stroke="#8a8a8a" stroke-width="0.6"/>
<circle cx="376.4" cy="393.4" r="2.3" fill="#c9c9c9" stroke="#8a8a8a" stroke-width="0.6"/>
<circle cx="365.5" cy="390.1" r="2.3" fill="#c9c9c9" stroke="#8a8a8a" stroke-width="0.6"/>
<circle cx="361.6" cy="388.3" r="2.3" fill="#c9c9c9" stroke="#8a8a8a" stroke-width="0.6"/>
<circle cx="368.9" cy="390.4" r="2.3" fill="#c9c9c9" stroke="#8a8a8a" stroke-width="0.6"/>
<circle cx="372.5" cy="384.3" r="2.3" fill="#c9c9c9" stroke="#8a8a8a" stroke-width="0.6"/>
<circle cx="368.8" cy="388.1" r="2.3" fill="#c9c9c9" stroke="#8a8a8a" stroke-width="0.6"/>
<circle cx="367.1" cy="391.2" r="2.3" fill="#c9c9c9" stroke="#8a8a8a" stroke-width="0.6"/>
<circle cx="365.4" cy="390.4" r="2.3" fill="#c9c9c9" stroke="#8a8a8a" stroke-width="0.6"/>
<circle cx="366.8" cy="395.9" r="2.3" fill="#c9c9c9" stroke="#8a8a8a" stroke-width="0.6"/>
<circle cx="366.3" cy="391.1" r="2.3" fill="#c9c9c9" stroke="#8a8a8a" stroke-width="0.6"/>
<circle cx="370.0" cy="396.3" r="2.3" fill="#c9c9c9" stroke="#8a8a8a" stroke-width="0.6"/>
<circle cx="361.1" cy="393.8" r="2.3" fill="#c9c9c9" stroke="#8a8a8a" stroke-width="0.6"/>
<circle cx="371.4" cy="392.0" r="2.3" fill="#c9c9c9" stroke="#8a8a8a" stroke-width="0.6"/>
<circle cx="372.7" cy="394.3" r="2.3" fill="#c9c9c9" stroke="#8a8a8a" stroke-width="0.6"/>
<circle cx="374.0" cy="384.7" r="2.3" fill="#c9c9c9" stroke="#8a8a8a" stroke-width="0.6"/>
<circle cx="369.5" cy="385.3" r="2.3" fill="#c9c9c9" stroke="#8a8a8a" stroke-width="0.6"/>
<circle cx="374.2" cy="389.9" r="2.3" fill="#c9c9c9" stroke="#8a8a8a" stroke-width="0.6"/>
<circle cx="359.4" cy="389.7" r="2.3" fill="#c9c9c9" stroke="#8a8a8a" stroke-width="0.6"/>
<circle cx="361.1" cy="395.6" r="2.3" fill="#c9c9c9" stroke="#8a8a8a" stroke-width="0.6"/>
<circle cx="365.0" cy="374.3" r="2.3" fill="#c9c9c9" stroke="#8a8a8a" stroke-width="0.6"/>
<circle cx="364.7" cy="395.9" r="2.3" fill="#c9c9c9" stroke="#8a8a8a" stroke-width="0.6"/>
<circle cx="368.9" cy="384.7" r="2.3" fill="#c9c9c9" stroke="#8a8a8a" stroke-width="0.6"/>
<circle cx="370.8" cy="392.9" r="2.3" fill="#c9c9c9" stroke="#8a8a8a" stroke-width="0.6"/>
<circle cx="375.6" cy="395.1" r="2.3" fill="#c9c9c9" stroke="#8a8a8a" stroke-width="0.6"/>
<circle cx="369.1" cy="383.7" r="2.3" fill="#c9c9c9" stroke="#8a8a8a" stroke-width="0.6"/>
<circle cx="368.7" cy="391.0" r="2.3" fill="#c9c9c9" stroke="#8a8a8a" stroke-width="0.6"/>
<circle cx="367.1" cy="391.8" r="2.3" fill="#c9c9c9" stroke="#8a8a8a" stroke-width="0.6"/>
<circle cx="360.1" cy="392.8" r="2.3" fill="#c9c9c9" stroke="#8a8a8a" stroke-width="0.6"/>
<circle cx="367.1" cy="391.4" r="2.3" fill="#c9c9c9" stroke="#8a8a8a" stroke-width="0.6"/>
<circle cx="366.4" cy="387.0" r="2.3" fill="#c9c9c9" stroke="#8a8a8a" stroke-width="0.6"/>
<circle cx="368.5" cy="394.3" r="2.3" fill="#c9c9c9" stroke="#8a8a8a" stroke-width="0.6"/>
<circle cx="365.1" cy="391.2" r="2.3" fill="#c9c9c9" stroke="#8a8a8a" stroke-width="0.6"/>
<circle cx="362.5" cy="391.8" r="2.3" fill="#c9c9c9" stroke="#8a8a8a" stroke-width="0.6"/>
<circle cx="367.1" cy="380.4" r="2.3" fill="#c9c9c9" stroke="#8a8a8a" stroke-width="0.6"/>
<circle cx="373.8" cy="383.0" r="2.3" fill="#c9c9c9" stroke="#8a8a8a" stroke-width="0.6"/>
<circle cx="367.5" cy="380.2" r="2.3" fill="#c9c9c9" stroke="#8a8a8a" stroke-width="0.6"/>
<circle cx="356.9" cy="393.4" r="2.3" fill="#c9c9c9" stroke="#8a8a8a" stroke-width="0.6"/>
<circle cx="365.7" cy="378.6" r="2.3" fill="#c9c9c9" stroke="#8a8a8a" stroke-width="0.6"/>
<circle cx="365.8" cy="401.3" r="2.3" fill="#c9c9c9" stroke="#8a8a8a" stroke-width="0.6"/>
<circle cx="364.7" cy="391.4" r="2.3" fill="#c9c9c9" stroke="#8a8a8a" stroke-width="0.6"/>
<circle cx="370.3" cy="390.7" r="2.3" fill="#c9c9c9" stroke="#8a8a8a" stroke-width="0.6"/>
<circle cx="366.3" cy="399.1" r="2.3" fill="#c9c9c9" stroke="#8a8a8a" stroke-width="0.6"/>
<circle cx="366.5" cy="391.4" r="2.3" fill="#c9c9c9" stroke="#8a8a8a" stroke-width="0.6"/>
<circle cx="367.6" cy="380.4" r="2.3" fill="#c9c9c9" stroke="#8a8a8a" stroke-width="0.6"/>
<circle cx="368.9" cy="389.4" r="2.3" fill="#c9c9c9" stroke="#8a8a8a" stroke-width="0.6"/>
<circle cx="370.8" cy="393.6" r="2.3" fill="#c9c9c9" stroke="#8a8a8a" stroke-width="0.6"/>
<circle cx="363.8" cy="385.8" r="2.3" fill="#c9c9c9" stroke="#8a8a8a" stroke-width="0.6"/>
<circle cx="362.0" cy="391.8" r="2.3" fill="#c9c9c9" stroke="#8a8a8a" stroke-width="0.6"/>
<circle cx="366.6" cy="389.9" r="2.3" fill="#c9c9c9" stroke="#8a8a8a" stroke-width="0.6"/>
<circle cx="357.5" cy="382.6" r="2.3" fill="#c9c9c9" stroke="#8a8a8a" stroke-width="0.6"/>
<circle cx="366.6" cy="386.0" r="2.3" fill="#c9c9c9" stroke="#8a8a8a" stroke-width="0.6"/>
<circle cx="363.5" cy="388.2" r="2.3" fill="#c9c9c9" stroke="#8a8a8a" stroke-width="0.6"/>
<circle cx="365.4" cy="381.9" r="2.3" fill="#c9c9c9" stroke="#8a8a8a" stroke-width="0.6"/>
<circle cx="376.6" cy="384.5" r="2.3" fill="#c9c9c9" stroke="#8a8a8a" stroke-width="0.6"/>
<circle cx="370.8" cy="393.0" r="2.3" fill="#c9c9c9" stroke="#8a8a8a" stroke-width="0.6"/>
<circle cx="372.6" cy="385.2" r="2.3" fill="#c9c9c9" stroke="#8a8a8a" stroke-width="0.6"/>
<circle cx="361.2" cy="391.9" r="2.3" fill="#c9c9c9" stroke="#8a8a8a" stroke-width="0.6"/>
<circle cx="364.7" cy="387.2" r="2.3" fill="#c9c9c9" stroke="#8a8a8a" stroke-width="0.6"/>
<circle cx="369.4" cy="382.5" r="2.3" fill="#c9c9c9" stroke="#8a8a8a" stroke-width="0.6"/>
<circle cx="374.5" cy="390.8" r="2.3" fill="#c9c9c9" stroke="#8a8a8a" stroke-width="0.6"/>
<circle cx="355.0" cy="390.6" r="2.3" fill="#c9c9c9" stroke="#8a8a8a" stroke-width="0.6"/>
<circle cx="363.8" cy="391.9" r="2.3" fill="#c9c9c9" stroke="#8a8a8a" stroke-width="0.6"/>
<circle cx="366.3" cy="393.5" r="2.3" fill="#c9c9c9" stroke="#8a8a8a" stroke-width="0.6"/>
<circle cx="361.9" cy="386.6" r="2.3" fill="#c9c9c9" stroke="#8a8a8a" stroke-width="0.6"/>
<circle cx="367.0" cy="384.0" r="2.3" fill="#c9c9c9" stroke="#8a8a8a" stroke-width="0.6"/>
<circle cx="364.4" cy="393.1" r="2.3" fill="#c9c9c9" stroke="#8a8a8a" stroke-width="0.6"/>
<circle cx="378.1" cy="387.6" r="2.3" fill="#c9c9c9" stroke="#8a8a8a" stroke-width="0.6"/>
<circle cx="371.8" cy="381.4" r="2.3" fill="#c9c9c9" stroke="#8a8a8a" stroke-width="0.6"/>
<circle cx="364.4" cy="391.2" r="2.3" fill="#c9c9c9" stroke="#8a8a8a" stroke-width="0.6"/>
<circle cx="370.3" cy="382.2" r="2.3" fill="#c9c9c9" stroke="#8a8a8a" stroke-width="0.6"/>
<circle cx="370.5" cy="390.0" r="2.3" fill="#c9c9c9" stroke="#8a8a8a" stroke-width="0.6"/>
<circle cx="374.6" cy="395.2" r="2.3" fill="#c9c9c9" stroke="#8a8a8a" stroke-width="0.6"/>
<circle cx="370.2" cy="386.4" r="2.3" fill="#c9c9c9" stroke="#8a8a8a" stroke-width="0.6"/>
<circle cx="368.5" cy="383.3" r="2.3" fill="#c9c9c9" stroke="#8a8a8a" stroke-width="0.6"/>
<circle cx="362.2" cy="376.7" r="2.3" fill="#c9c9c9" stroke="#8a8a8a" stroke-width="0.6"/>
<circle cx="359.5" cy="380.5" r="2.3" fill="#c9c9c9" stroke="#8a8a8a" stroke-width="0.6"/>
<circle cx="366.4" cy="389.7" r="2.3" fill="#c9c9c9" stroke="#8a8a8a" stroke-width="0.6"/>
<circle cx="359.2" cy="388.3" r="2.3" fill="#c9c9c9" stroke="#8a8a8a" stroke-width="0.6"/>
<circle cx="369.3" cy="395.1" r="2.3" fill="#c9c9c9" stroke="#8a8a8a" stroke-width="0.6"/>
<circle cx="366.4" cy="390.4" r="2.3" fill="#c9c9c9" stroke="#8a8a8a" stroke-width="0.6"/>
<circle cx="364.8" cy="395.1" r="2.3" fill="#c9c9c9" stroke="#8a8a8a" stroke-width="0.6"/>
<circle cx="324.6" cy="379.3" r="2.3" fill="#DCDCDC" stroke="#969696" stroke-width="0.55"/>
<circle cx="329.5" cy="380.5" r="2.3" fill="#DCDCDC" stroke="#969696" stroke-width="0.55"/>
<circle cx="324.1" cy="400.0" r="2.3" fill="#DCDCDC" stroke="#969696" stroke-width="0.55"/>
<circle cx="331.7" cy="411.3" r="2.3" fill="#DCDCDC" stroke="#969696" stroke-width="0.55"/>
<circle cx="336.5" cy="410.2" r="2.3" fill="#DCDCDC" stroke="#969696" stroke-width="0.55"/>
<circle cx="343.6" cy="374.0" r="2.3" fill="#DCDCDC" stroke="#969696" stroke-width="0.55"/>
<circle cx="348.2" cy="365.3" r="2.3" fill="#DCDCDC" stroke="#969696" stroke-width="0.55"/>
<circle cx="403.4" cy="373.7" r="2.3" fill="#DCDCDC" stroke="#969696" stroke-width="0.55"/>
<circle cx="412.4" cy="391.8" r="2.3" fill="#DCDCDC" stroke="#969696" stroke-width="0.55"/>
<circle cx="415.4" cy="408.2" r="2.3" fill="#DCDCDC" stroke="#969696" stroke-width="0.55"/>
<circle cx="419.1" cy="385.9" r="2.3" fill="#DCDCDC" stroke="#969696" stroke-width="0.55"/>
<circle cx="382.3" cy="419.1" r="2.3" fill="#DCDCDC" stroke="#969696" stroke-width="0.55"/>
<circle cx="376.6" cy="414.2" r="2.3" fill="#DCDCDC" stroke="#969696" stroke-width="0.55"/>
<circle cx="387.9" cy="404.6" r="2.3" fill="#DCDCDC" stroke="#969696" stroke-width="0.55"/>
<circle cx="336.9" cy="377.4" r="2.3" fill="#DCDCDC" stroke="#969696" stroke-width="0.55"/>
<circle cx="336.4" cy="382.5" r="2.3" fill="#DCDCDC" stroke="#969696" stroke-width="0.55"/>
<circle cx="336.4" cy="388.6" r="2.3" fill="#DCDCDC" stroke="#969696" stroke-width="0.55"/>
<circle cx="334.3" cy="393.2" r="2.3" fill="#DCDCDC" stroke="#969696" stroke-width="0.55"/>
<circle cx="336.9" cy="398.8" r="2.3" fill="#DCDCDC" stroke="#969696" stroke-width="0.55"/>
<circle cx="353.2" cy="367.7" r="2.3" fill="#DCDCDC" stroke="#969696" stroke-width="0.55"/>
<circle cx="357.3" cy="366.7" r="2.3" fill="#DCDCDC" stroke="#969696" stroke-width="0.55"/>
<circle cx="361.3" cy="363.1" r="2.3" fill="#DCDCDC" stroke="#969696" stroke-width="0.55"/>
<circle cx="364.9" cy="364.2" r="2.3" fill="#DCDCDC" stroke="#969696" stroke-width="0.55"/>
<circle cx="369.0" cy="364.2" r="2.3" fill="#DCDCDC" stroke="#969696" stroke-width="0.55"/>
<circle cx="373.6" cy="363.1" r="2.3" fill="#DCDCDC" stroke="#969696" stroke-width="0.55"/>
<circle cx="418.6" cy="385.7" r="2.3" fill="#DCDCDC" stroke="#969696" stroke-width="0.55"/>
<circle cx="378.0" cy="362.0" r="2.3" fill="#DCDCDC" stroke="#969696" stroke-width="0.55"/>
<circle cx="382.0" cy="361.5" r="2.3" fill="#DCDCDC" stroke="#969696" stroke-width="0.55"/>
<circle cx="385.5" cy="363.5" r="2.3" fill="#DCDCDC" stroke="#969696" stroke-width="0.55"/>
<circle cx="386.5" cy="367.0" r="2.3" fill="#DCDCDC" stroke="#969696" stroke-width="0.55"/>
<circle cx="385.0" cy="372.0" r="2.3" fill="#DCDCDC" stroke="#969696" stroke-width="0.55"/>
<circle cx="387.5" cy="376.0" r="2.3" fill="#DCDCDC" stroke="#969696" stroke-width="0.55"/>
<circle cx="380.0" cy="408.0" r="2.3" fill="#DCDCDC" stroke="#969696" stroke-width="0.55"/>
<circle cx="383.5" cy="411.0" r="2.3" fill="#DCDCDC" stroke="#969696" stroke-width="0.55"/>
<circle cx="386.0" cy="407.0" r="2.3" fill="#DCDCDC" stroke="#969696" stroke-width="0.55"/>
<circle cx="384.0" cy="415.5" r="2.3" fill="#DCDCDC" stroke="#969696" stroke-width="0.55"/>
<circle cx="379.0" cy="414.0" r="2.3" fill="#DCDCDC" stroke="#969696" stroke-width="0.55"/>
<circle cx="343.0" cy="376.0" r="2.3" fill="#DCDCDC" stroke="#969696" stroke-width="0.55"/>
<circle cx="340.0" cy="380.0" r="2.3" fill="#DCDCDC" stroke="#969696" stroke-width="0.55"/>
<circle cx="339.0" cy="386.0" r="2.3" fill="#DCDCDC" stroke="#969696" stroke-width="0.55"/>
<circle cx="341.0" cy="392.0" r="2.3" fill="#DCDCDC" stroke="#969696" stroke-width="0.55"/>
<circle cx="344.0" cy="398.0" r="2.3" fill="#DCDCDC" stroke="#969696" stroke-width="0.55"/>
<circle cx="347.0" cy="403.0" r="2.3" fill="#DCDCDC" stroke="#969696" stroke-width="0.55"/>
<circle cx="352.0" cy="408.0" r="2.3" fill="#DCDCDC" stroke="#969696" stroke-width="0.55"/>
<circle cx="358.0" cy="410.0" r="2.3" fill="#DCDCDC" stroke="#969696" stroke-width="0.55"/>
<circle cx="363.0" cy="412.0" r="2.3" fill="#DCDCDC" stroke="#969696" stroke-width="0.55"/>
<circle cx="369.0" cy="411.0" r="2.3" fill="#DCDCDC" stroke="#969696" stroke-width="0.55"/>
<circle cx="374.0" cy="409.0" r="2.3" fill="#DCDCDC" stroke="#969696" stroke-width="0.55"/>
<circle cx="358.5" cy="376.5" r="2.45" fill="#D0232A" stroke="#A51F24" stroke-width="0.3"/>
<circle cx="369.4" cy="381.8" r="2.45" fill="#D0232A" stroke="#A51F24" stroke-width="0.3"/>
<circle cx="363.0" cy="386.9" r="2.45" fill="#D0232A" stroke="#A51F24" stroke-width="0.3"/>
<circle cx="348.1" cy="391.4" r="2.45" fill="#D0232A" stroke="#A51F24" stroke-width="0.3"/>
<circle cx="373.4" cy="390.1" r="2.45" fill="#D0232A" stroke="#A51F24" stroke-width="0.3"/>
<circle cx="375.0" cy="389.8" r="2.45" fill="#D0232A" stroke="#A51F24" stroke-width="0.3"/>
<circle cx="382.3" cy="383.7" r="2.45" fill="#D0232A" stroke="#A51F24" stroke-width="0.3"/>
<circle cx="383.9" cy="384.5" r="2.45" fill="#D0232A" stroke="#A51F24" stroke-width="0.3"/>
<circle cx="381.5" cy="388.5" r="2.45" fill="#D0232A" stroke="#A51F24" stroke-width="0.3"/>
<circle cx="383.1" cy="389.3" r="2.45" fill="#D0232A" stroke="#A51F24" stroke-width="0.3"/>
<circle cx="386.8" cy="388.5" r="2.45" fill="#D0232A" stroke="#A51F24" stroke-width="0.3"/>
<circle cx="387.1" cy="387.7" r="2.45" fill="#D0232A" stroke="#A51F24" stroke-width="0.3"/>
<circle cx="380.7" cy="393.4" r="2.45" fill="#D0232A" stroke="#A51F24" stroke-width="0.3"/>
<circle cx="381.5" cy="397.4" r="2.45" fill="#D0232A" stroke="#A51F24" stroke-width="0.3"/>
<circle cx="388.7" cy="395.0" r="2.45" fill="#D0232A" stroke="#A51F24" stroke-width="0.3"/>
<circle cx="361.1" cy="396.1" r="2.45" fill="#D0232A" stroke="#A51F24" stroke-width="0.3"/>
<circle cx="371.0" cy="401.1" r="2.45" fill="#D0232A" stroke="#A51F24" stroke-width="0.3"/>
<circle cx="360.6" cy="405.4" r="2.45" fill="#D0232A" stroke="#A51F24" stroke-width="0.3"/>
<circle cx="396.7" cy="379.2" r="2.45" fill="#D0232A" stroke="#A51F24" stroke-width="0.3"/>
<circle cx="397.5" cy="382.9" r="2.45" fill="#D0232A" stroke="#A51F24" stroke-width="0.3"/>
<circle cx="402.8" cy="384.0" r="2.45" fill="#D0232A" stroke="#A51F24" stroke-width="0.3"/>
<circle cx="395.1" cy="388.5" r="2.45" fill="#D0232A" stroke="#A51F24" stroke-width="0.3"/>
<circle cx="397.5" cy="386.9" r="2.45" fill="#D0232A" stroke="#A51F24" stroke-width="0.3"/>
<circle cx="399.1" cy="395.8" r="2.45" fill="#D0232A" stroke="#A51F24" stroke-width="0.3"/>
<circle cx="396.7" cy="400.1" r="2.45" fill="#D0232A" stroke="#A51F24" stroke-width="0.3"/>
<circle cx="404.3" cy="401.7" r="2.45" fill="#D0232A" stroke="#A51F24" stroke-width="0.3"/>
<circle cx="410.9" cy="402.4" r="2.45" fill="#D0232A" stroke="#A51F24" stroke-width="0.3"/>
<circle cx="392.7" cy="364.8" r="2.45" fill="#D0232A" stroke="#A51F24" stroke-width="0.3"/>
<circle cx="406.5" cy="368.1" r="2.45" fill="#D0232A" stroke="#A51F24" stroke-width="0.3"/>
<circle cx="413.8" cy="371.4" r="2.45" fill="#D0232A" stroke="#A51F24" stroke-width="0.3"/>
<circle cx="412.7" cy="380.4" r="2.45" fill="#D0232A" stroke="#A51F24" stroke-width="0.3"/>
<circle cx="419.2" cy="381.8" r="2.45" fill="#D0232A" stroke="#A51F24" stroke-width="0.3"/>
<circle cx="390.0" cy="418.7" r="2.45" fill="#D0232A" stroke="#A51F24" stroke-width="0.3"/>
<circle cx="426.5" cy="371.8" r="2.45" fill="#D0232A" stroke="#A51F24" stroke-width="0.3"/>
<circle cx="420.3" cy="381.6" r="2.45" fill="#D0232A" stroke="#A51F24" stroke-width="0.3"/>
<circle cx="422.8" cy="387.6" r="2.45" fill="#D0232A" stroke="#A51F24" stroke-width="0.3"/>
<circle cx="429.9" cy="387.1" r="2.45" fill="#D0232A" stroke="#A51F24" stroke-width="0.3"/>
<circle cx="437.8" cy="390.6" r="2.45" fill="#D0232A" stroke="#A51F24" stroke-width="0.3"/>
<circle cx="455.6" cy="389.4" r="2.45" fill="#D0232A" stroke="#A51F24" stroke-width="0.3"/>
<circle cx="464.3" cy="391.4" r="2.45" fill="#D0232A" stroke="#A51F24" stroke-width="0.3"/>
<circle cx="425.3" cy="395.5" r="2.45" fill="#D0232A" stroke="#A51F24" stroke-width="0.3"/>
<circle cx="427.6" cy="404.0" r="2.45" fill="#D0232A" stroke="#A51F24" stroke-width="0.3"/>
<circle cx="441.4" cy="406.4" r="2.45" fill="#D0232A" stroke="#A51F24" stroke-width="0.3"/>
<circle cx="404.2" cy="402.0" r="2.45" fill="#D0232A" stroke="#A51F24" stroke-width="0.3"/>
<circle cx="402.9" cy="384.3" r="2.45" fill="#D0232A" stroke="#A51F24" stroke-width="0.3"/>
<circle cx="399.3" cy="395.9" r="2.45" fill="#D0232A" stroke="#A51F24" stroke-width="0.3"/>
<circle cx="397.4" cy="400.2" r="2.45" fill="#D0232A" stroke="#A51F24" stroke-width="0.3"/>
<circle cx="427.6" cy="417.5" r="2.45" fill="#D0232A" stroke="#A51F24" stroke-width="0.3"/>
<circle cx="434.3" cy="433.8" r="2.45" fill="#D0232A" stroke="#A51F24" stroke-width="0.3"/>
<line x1="430.8" y1="386.6" x2="435.6" y2="384.4" stroke="#C0392B" stroke-width="0.6"/>
<line x1="441.6" y1="406.3" x2="448" y2="406.3" stroke="#C0392B" stroke-width="0.6"/>
<line x1="438" y1="391" x2="440" y2="393" stroke="#C0392B" stroke-width="0.6"/>
<text x="435.2" y="384.90000000000003" font-size="9.6" text-anchor="start" font-weight="normal" fill="#111" stroke="#111" stroke-width="0.25">ISG15</text>
<text x="467.0" y="388.90000000000003" font-size="9.6" text-anchor="start" font-weight="normal" fill="#111" stroke="#111" stroke-width="0.25">IFIT2</text>
<text x="434.3" y="399.90000000000003" font-size="9.6" text-anchor="start" font-weight="normal" fill="#111" stroke="#111" stroke-width="0.25">ISG20</text>
<text x="418.2" y="413.3" font-size="9.6" text-anchor="start" font-weight="normal" fill="#111" stroke="#111" stroke-width="0.25">IRF7</text>
<text x="447.6" y="412.0" font-size="9.6" text-anchor="start" font-weight="normal" fill="#111" stroke="#111" stroke-width="0.25">IFIT3</text>
<text x="435.9" y="431.90000000000003" font-size="9.6" text-anchor="start" font-weight="normal" fill="#111" stroke="#111" stroke-width="0.25">IFIH1</text>
</svg></body></html>
